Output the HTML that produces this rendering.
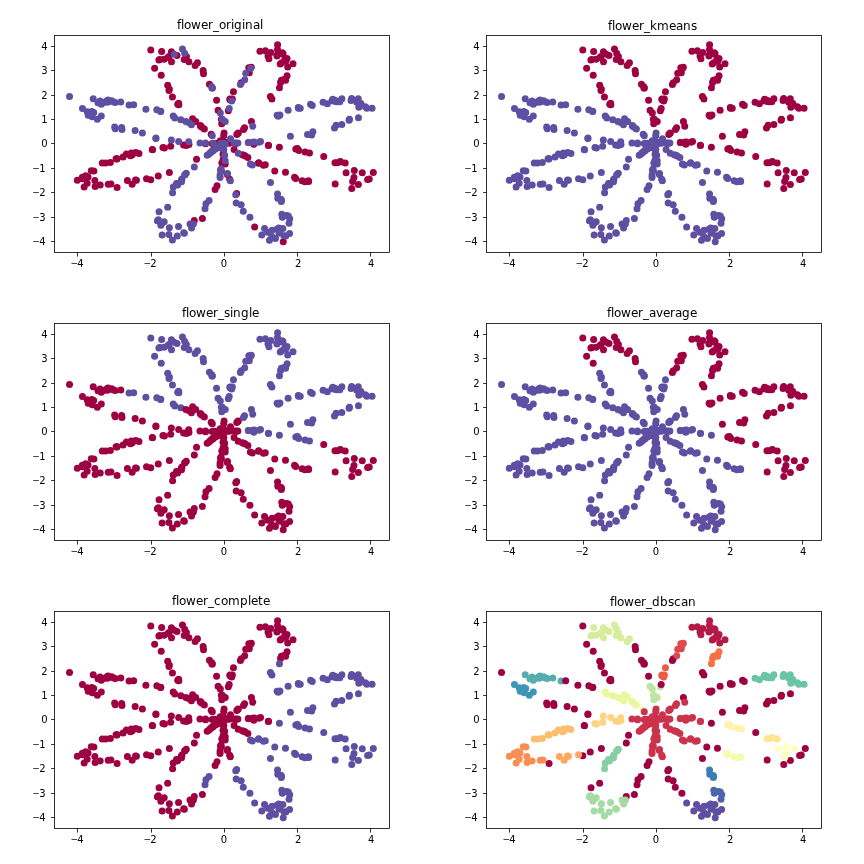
<!DOCTYPE html>
<html lang="en"><head><meta charset="utf-8"><title>flower clustering</title>
<style>
html,body{margin:0;padding:0;background:#fff;}
svg{display:block;}
text{font-family:"DejaVu Sans","Liberation Sans",sans-serif;fill:#000;}
.tk text{font-size:10px;}
.tk{filter:grayscale(1);}
.tk text.tt{font-size:12px;}
.tk text.mn{font-size:9px;}
</style></head><body>
<svg width="864" height="864" viewBox="0 0 864 864">
<rect width="864" height="864" fill="#fff"/>
<g transform="translate(0,0)">
<g>
<circle cx="268.00" cy="55.96" r="3.5" fill="#9e0142"/>
<circle cx="229.68" cy="179.36" r="3.5" fill="#9e0142"/>
<circle cx="227.35" cy="174.42" r="3.5" fill="#9e0142"/>
<circle cx="236.66" cy="193.56" r="3.5" fill="#9e0142"/>
<circle cx="249.30" cy="72.72" r="3.5" fill="#9e0142"/>
<circle cx="283.25" cy="241.63" r="3.5" fill="#9e0142"/>
<circle cx="280.24" cy="64.10" r="3.5" fill="#9e0142"/>
<circle cx="225.19" cy="164.03" r="3.5" fill="#9e0142"/>
<circle cx="241.25" cy="82.75" r="3.5" fill="#9e0142"/>
<circle cx="229.93" cy="99.02" r="3.5" fill="#9e0142"/>
<circle cx="284.85" cy="58.97" r="3.5" fill="#9e0142"/>
<circle cx="254.65" cy="227.12" r="3.5" fill="#9e0142"/>
<circle cx="233.45" cy="91.84" r="3.5" fill="#9e0142"/>
<circle cx="232.35" cy="98.95" r="3.5" fill="#9e0142"/>
<circle cx="281.76" cy="62.63" r="3.5" fill="#9e0142"/>
<circle cx="224.09" cy="133.00" r="3.5" fill="#9e0142"/>
<circle cx="248.80" cy="67.67" r="3.5" fill="#9e0142"/>
<circle cx="228.31" cy="110.73" r="3.5" fill="#9e0142"/>
<circle cx="265.37" cy="50.82" r="3.5" fill="#9e0142"/>
<circle cx="283.04" cy="53.65" r="3.5" fill="#9e0142"/>
<circle cx="229.96" cy="99.87" r="3.5" fill="#9e0142"/>
<circle cx="287.05" cy="75.84" r="3.5" fill="#9e0142"/>
<circle cx="293.00" cy="63.79" r="3.5" fill="#9e0142"/>
<circle cx="287.01" cy="58.59" r="3.5" fill="#9e0142"/>
<circle cx="280.53" cy="82.55" r="3.5" fill="#9e0142"/>
<circle cx="259.94" cy="51.14" r="3.5" fill="#9e0142"/>
<circle cx="277.11" cy="55.23" r="3.5" fill="#9e0142"/>
<circle cx="251.31" cy="67.27" r="3.5" fill="#9e0142"/>
<circle cx="277.01" cy="55.99" r="3.5" fill="#9e0142"/>
<circle cx="284.06" cy="79.38" r="3.5" fill="#9e0142"/>
<circle cx="270.82" cy="52.54" r="3.5" fill="#9e0142"/>
<circle cx="282.33" cy="52.82" r="3.5" fill="#9e0142"/>
<circle cx="277.47" cy="49.60" r="3.5" fill="#9e0142"/>
<circle cx="277.59" cy="44.71" r="3.5" fill="#9e0142"/>
<circle cx="280.42" cy="53.85" r="3.5" fill="#9e0142"/>
<circle cx="281.40" cy="80.19" r="3.5" fill="#9e0142"/>
<circle cx="268.93" cy="58.64" r="3.5" fill="#9e0142"/>
<circle cx="271.92" cy="99.04" r="3.5" fill="#9e0142"/>
<circle cx="150.80" cy="179.64" r="3.5" fill="#9e0142"/>
<circle cx="238.32" cy="133.07" r="3.5" fill="#9e0142"/>
<circle cx="279.45" cy="87.78" r="3.5" fill="#9e0142"/>
<circle cx="285.85" cy="61.00" r="3.5" fill="#9e0142"/>
<circle cx="287.69" cy="67.07" r="3.5" fill="#9e0142"/>
<circle cx="117.09" cy="187.58" r="3.5" fill="#9e0142"/>
<circle cx="251.42" cy="121.42" r="3.5" fill="#9e0142"/>
<circle cx="285.62" cy="80.19" r="3.5" fill="#9e0142"/>
<circle cx="237.46" cy="133.66" r="3.5" fill="#9e0142"/>
<circle cx="87.17" cy="183.17" r="3.5" fill="#9e0142"/>
<circle cx="236.78" cy="134.45" r="3.5" fill="#9e0142"/>
<circle cx="169.37" cy="172.48" r="3.5" fill="#9e0142"/>
<circle cx="196.55" cy="159.37" r="3.5" fill="#9e0142"/>
<circle cx="244.52" cy="127.81" r="3.5" fill="#9e0142"/>
<circle cx="270.43" cy="96.57" r="3.5" fill="#9e0142"/>
<circle cx="243.47" cy="129.50" r="3.5" fill="#9e0142"/>
<circle cx="217.58" cy="147.22" r="3.5" fill="#9e0142"/>
<circle cx="132.18" cy="184.17" r="3.5" fill="#9e0142"/>
<circle cx="127.39" cy="180.40" r="3.5" fill="#9e0142"/>
<circle cx="108.23" cy="184.35" r="3.5" fill="#9e0142"/>
<circle cx="146.53" cy="178.75" r="3.5" fill="#9e0142"/>
<circle cx="95.13" cy="186.60" r="3.5" fill="#9e0142"/>
<circle cx="222.57" cy="144.05" r="3.5" fill="#9e0142"/>
<circle cx="77.34" cy="180.34" r="3.5" fill="#9e0142"/>
<circle cx="110.96" cy="183.88" r="3.5" fill="#9e0142"/>
<circle cx="158.26" cy="175.90" r="3.5" fill="#9e0142"/>
<circle cx="100.18" cy="184.99" r="3.5" fill="#9e0142"/>
<circle cx="136.44" cy="180.24" r="3.5" fill="#9e0142"/>
<circle cx="93.87" cy="170.89" r="3.5" fill="#9e0142"/>
<circle cx="116.73" cy="158.88" r="3.5" fill="#9e0142"/>
<circle cx="186.85" cy="144.87" r="3.5" fill="#9e0142"/>
<circle cx="212.79" cy="150.32" r="3.5" fill="#9e0142"/>
<circle cx="218.44" cy="146.64" r="3.5" fill="#9e0142"/>
<circle cx="135.51" cy="179.95" r="3.5" fill="#9e0142"/>
<circle cx="94.85" cy="180.52" r="3.5" fill="#9e0142"/>
<circle cx="110.35" cy="162.58" r="3.5" fill="#9e0142"/>
<circle cx="82.25" cy="177.34" r="3.5" fill="#9e0142"/>
<circle cx="225.13" cy="142.33" r="3.5" fill="#9e0142"/>
<circle cx="84.14" cy="187.04" r="3.5" fill="#9e0142"/>
<circle cx="130.44" cy="155.67" r="3.5" fill="#9e0142"/>
<circle cx="91.27" cy="170.68" r="3.5" fill="#9e0142"/>
<circle cx="138.95" cy="153.47" r="3.5" fill="#9e0142"/>
<circle cx="82.47" cy="178.73" r="3.5" fill="#9e0142"/>
<circle cx="85.65" cy="175.85" r="3.5" fill="#9e0142"/>
<circle cx="105.63" cy="163.12" r="3.5" fill="#9e0142"/>
<circle cx="132.34" cy="154.76" r="3.5" fill="#9e0142"/>
<circle cx="116.07" cy="158.81" r="3.5" fill="#9e0142"/>
<circle cx="117.08" cy="158.67" r="3.5" fill="#9e0142"/>
<circle cx="88.05" cy="176.88" r="3.5" fill="#9e0142"/>
<circle cx="152.31" cy="149.49" r="3.5" fill="#9e0142"/>
<circle cx="126.38" cy="154.12" r="3.5" fill="#9e0142"/>
<circle cx="253.81" cy="144.21" r="3.5" fill="#9e0142"/>
<circle cx="268.48" cy="145.58" r="3.5" fill="#9e0142"/>
<circle cx="162.94" cy="147.56" r="3.5" fill="#9e0142"/>
<circle cx="123.05" cy="157.04" r="3.5" fill="#9e0142"/>
<circle cx="102.25" cy="163.05" r="3.5" fill="#9e0142"/>
<circle cx="216.02" cy="143.26" r="3.5" fill="#9e0142"/>
<circle cx="183.59" cy="144.97" r="3.5" fill="#9e0142"/>
<circle cx="152.49" cy="149.63" r="3.5" fill="#9e0142"/>
<circle cx="205.54" cy="143.70" r="3.5" fill="#9e0142"/>
<circle cx="131.29" cy="153.04" r="3.5" fill="#9e0142"/>
<circle cx="295.81" cy="149.02" r="3.5" fill="#9e0142"/>
<circle cx="186.22" cy="145.52" r="3.5" fill="#9e0142"/>
<circle cx="334.98" cy="162.69" r="3.5" fill="#9e0142"/>
<circle cx="279.40" cy="147.25" r="3.5" fill="#9e0142"/>
<circle cx="305.16" cy="152.09" r="3.5" fill="#9e0142"/>
<circle cx="135.77" cy="152.62" r="3.5" fill="#9e0142"/>
<circle cx="297.38" cy="148.57" r="3.5" fill="#9e0142"/>
<circle cx="340.36" cy="162.11" r="3.5" fill="#9e0142"/>
<circle cx="170.66" cy="146.18" r="3.5" fill="#9e0142"/>
<circle cx="268.38" cy="145.26" r="3.5" fill="#9e0142"/>
<circle cx="298.84" cy="150.47" r="3.5" fill="#9e0142"/>
<circle cx="164.43" cy="148.00" r="3.5" fill="#9e0142"/>
<circle cx="340.39" cy="161.57" r="3.5" fill="#9e0142"/>
<circle cx="369.26" cy="179.02" r="3.5" fill="#9e0142"/>
<circle cx="235.95" cy="143.43" r="3.5" fill="#9e0142"/>
<circle cx="373.30" cy="172.52" r="3.5" fill="#9e0142"/>
<circle cx="212.22" cy="143.43" r="3.5" fill="#9e0142"/>
<circle cx="345.20" cy="162.98" r="3.5" fill="#9e0142"/>
<circle cx="188.95" cy="144.59" r="3.5" fill="#9e0142"/>
<circle cx="335.17" cy="184.02" r="3.5" fill="#9e0142"/>
<circle cx="353.97" cy="177.46" r="3.5" fill="#9e0142"/>
<circle cx="354.31" cy="170.60" r="3.5" fill="#9e0142"/>
<circle cx="309.48" cy="153.06" r="3.5" fill="#9e0142"/>
<circle cx="308.64" cy="181.54" r="3.5" fill="#9e0142"/>
<circle cx="234.10" cy="149.57" r="3.5" fill="#9e0142"/>
<circle cx="229.42" cy="143.21" r="3.5" fill="#9e0142"/>
<circle cx="295.74" cy="178.55" r="3.5" fill="#9e0142"/>
<circle cx="243.92" cy="155.15" r="3.5" fill="#9e0142"/>
<circle cx="351.76" cy="188.39" r="3.5" fill="#9e0142"/>
<circle cx="323.74" cy="156.41" r="3.5" fill="#9e0142"/>
<circle cx="302.13" cy="180.75" r="3.5" fill="#9e0142"/>
<circle cx="358.36" cy="184.39" r="3.5" fill="#9e0142"/>
<circle cx="367.60" cy="179.47" r="3.5" fill="#9e0142"/>
<circle cx="337.04" cy="162.66" r="3.5" fill="#9e0142"/>
<circle cx="294.56" cy="177.13" r="3.5" fill="#9e0142"/>
<circle cx="274.78" cy="171.10" r="3.5" fill="#9e0142"/>
<circle cx="352.64" cy="181.59" r="3.5" fill="#9e0142"/>
<circle cx="265.28" cy="164.85" r="3.5" fill="#9e0142"/>
<circle cx="346.08" cy="172.74" r="3.5" fill="#9e0142"/>
<circle cx="224.20" cy="143.41" r="3.5" fill="#9e0142"/>
<circle cx="285.46" cy="172.34" r="3.5" fill="#9e0142"/>
<circle cx="308.40" cy="180.63" r="3.5" fill="#9e0142"/>
<circle cx="304.99" cy="181.72" r="3.5" fill="#9e0142"/>
<circle cx="204.37" cy="129.03" r="3.5" fill="#9e0142"/>
<circle cx="211.19" cy="134.13" r="3.5" fill="#9e0142"/>
<circle cx="220.25" cy="140.76" r="3.5" fill="#9e0142"/>
<circle cx="247.86" cy="157.50" r="3.5" fill="#9e0142"/>
<circle cx="245.25" cy="156.04" r="3.5" fill="#9e0142"/>
<circle cx="195.71" cy="121.54" r="3.5" fill="#9e0142"/>
<circle cx="221.83" cy="141.82" r="3.5" fill="#9e0142"/>
<circle cx="177.70" cy="104.34" r="3.5" fill="#9e0142"/>
<circle cx="258.41" cy="163.33" r="3.5" fill="#9e0142"/>
<circle cx="362.26" cy="172.68" r="3.5" fill="#9e0142"/>
<circle cx="161.23" cy="75.30" r="3.5" fill="#9e0142"/>
<circle cx="184.22" cy="59.50" r="3.5" fill="#9e0142"/>
<circle cx="172.45" cy="97.12" r="3.5" fill="#9e0142"/>
<circle cx="200.27" cy="125.71" r="3.5" fill="#9e0142"/>
<circle cx="200.68" cy="125.71" r="3.5" fill="#9e0142"/>
<circle cx="192.58" cy="118.67" r="3.5" fill="#9e0142"/>
<circle cx="178.87" cy="104.68" r="3.5" fill="#9e0142"/>
<circle cx="258.70" cy="162.64" r="3.5" fill="#9e0142"/>
<circle cx="201.97" cy="127.13" r="3.5" fill="#9e0142"/>
<circle cx="242.25" cy="154.70" r="3.5" fill="#9e0142"/>
<circle cx="154.61" cy="68.33" r="3.5" fill="#9e0142"/>
<circle cx="178.57" cy="103.15" r="3.5" fill="#9e0142"/>
<circle cx="159.78" cy="59.49" r="3.5" fill="#9e0142"/>
<circle cx="169.32" cy="88.93" r="3.5" fill="#9e0142"/>
<circle cx="177.03" cy="55.54" r="3.5" fill="#9e0142"/>
<circle cx="150.81" cy="49.93" r="3.5" fill="#9e0142"/>
<circle cx="221.37" cy="119.34" r="3.5" fill="#9e0142"/>
<circle cx="263.42" cy="165.37" r="3.5" fill="#9e0142"/>
<circle cx="168.99" cy="90.45" r="3.5" fill="#9e0142"/>
<circle cx="186.39" cy="56.55" r="3.5" fill="#9e0142"/>
<circle cx="221.34" cy="170.79" r="3.5" fill="#9e0142"/>
<circle cx="158.90" cy="59.92" r="3.5" fill="#9e0142"/>
<circle cx="171.49" cy="61.84" r="3.5" fill="#9e0142"/>
<circle cx="164.06" cy="59.32" r="3.5" fill="#9e0142"/>
<circle cx="218.09" cy="110.22" r="3.5" fill="#9e0142"/>
<circle cx="161.66" cy="51.47" r="3.5" fill="#9e0142"/>
<circle cx="197.45" cy="62.63" r="3.5" fill="#9e0142"/>
<circle cx="168.95" cy="56.54" r="3.5" fill="#9e0142"/>
<circle cx="167.69" cy="85.37" r="3.5" fill="#9e0142"/>
<circle cx="195.16" cy="65.51" r="3.5" fill="#9e0142"/>
<circle cx="203.14" cy="70.48" r="3.5" fill="#9e0142"/>
<circle cx="223.70" cy="135.63" r="3.5" fill="#9e0142"/>
<circle cx="188.87" cy="61.85" r="3.5" fill="#9e0142"/>
<circle cx="171.45" cy="51.77" r="3.5" fill="#9e0142"/>
<circle cx="216.56" cy="100.34" r="3.5" fill="#9e0142"/>
<circle cx="209.45" cy="84.35" r="3.5" fill="#9e0142"/>
<circle cx="212.36" cy="88.03" r="3.5" fill="#9e0142"/>
<circle cx="203.50" cy="73.85" r="3.5" fill="#9e0142"/>
<circle cx="221.80" cy="162.92" r="3.5" fill="#9e0142"/>
<circle cx="221.72" cy="123.74" r="3.5" fill="#9e0142"/>
<circle cx="194.29" cy="220.43" r="3.5" fill="#9e0142"/>
<circle cx="217.04" cy="185.63" r="3.5" fill="#9e0142"/>
<circle cx="223.51" cy="150.60" r="3.5" fill="#9e0142"/>
<circle cx="167.92" cy="57.47" r="3.5" fill="#9e0142"/>
<circle cx="223.01" cy="154.13" r="3.5" fill="#9e0142"/>
<circle cx="223.08" cy="159.79" r="3.5" fill="#9e0142"/>
<circle cx="215.14" cy="189.42" r="3.5" fill="#9e0142"/>
<circle cx="202.39" cy="218.61" r="3.5" fill="#9e0142"/>
<circle cx="184.63" cy="53.37" r="3.5" fill="#5e4fa2"/>
<circle cx="223.77" cy="149.27" r="3.5" fill="#5e4fa2"/>
<circle cx="220.46" cy="170.34" r="3.5" fill="#5e4fa2"/>
<circle cx="190.00" cy="224.01" r="3.5" fill="#5e4fa2"/>
<circle cx="222.29" cy="119.22" r="3.5" fill="#5e4fa2"/>
<circle cx="220.97" cy="169.11" r="3.5" fill="#5e4fa2"/>
<circle cx="174.22" cy="54.33" r="3.5" fill="#5e4fa2"/>
<circle cx="220.33" cy="113.05" r="3.5" fill="#5e4fa2"/>
<circle cx="205.94" cy="203.85" r="3.5" fill="#5e4fa2"/>
<circle cx="172.40" cy="239.93" r="3.5" fill="#5e4fa2"/>
<circle cx="220.08" cy="175.01" r="3.5" fill="#5e4fa2"/>
<circle cx="159.06" cy="211.67" r="3.5" fill="#5e4fa2"/>
<circle cx="157.37" cy="220.75" r="3.5" fill="#5e4fa2"/>
<circle cx="209.08" cy="200.50" r="3.5" fill="#5e4fa2"/>
<circle cx="182.45" cy="49.04" r="3.5" fill="#5e4fa2"/>
<circle cx="211.76" cy="86.84" r="3.5" fill="#5e4fa2"/>
<circle cx="220.06" cy="177.43" r="3.5" fill="#5e4fa2"/>
<circle cx="164.19" cy="221.76" r="3.5" fill="#5e4fa2"/>
<circle cx="177.30" cy="235.91" r="3.5" fill="#5e4fa2"/>
<circle cx="211.98" cy="88.10" r="3.5" fill="#5e4fa2"/>
<circle cx="193.39" cy="223.91" r="3.5" fill="#5e4fa2"/>
<circle cx="181.52" cy="181.83" r="3.5" fill="#5e4fa2"/>
<circle cx="191.56" cy="227.97" r="3.5" fill="#5e4fa2"/>
<circle cx="205.02" cy="208.76" r="3.5" fill="#5e4fa2"/>
<circle cx="211.33" cy="151.88" r="3.5" fill="#5e4fa2"/>
<circle cx="168.89" cy="234.54" r="3.5" fill="#5e4fa2"/>
<circle cx="183.72" cy="232.68" r="3.5" fill="#5e4fa2"/>
<circle cx="160.89" cy="225.36" r="3.5" fill="#5e4fa2"/>
<circle cx="162.13" cy="235.01" r="3.5" fill="#5e4fa2"/>
<circle cx="178.56" cy="226.51" r="3.5" fill="#5e4fa2"/>
<circle cx="194.30" cy="167.02" r="3.5" fill="#5e4fa2"/>
<circle cx="185.01" cy="174.69" r="3.5" fill="#5e4fa2"/>
<circle cx="177.89" cy="183.60" r="3.5" fill="#5e4fa2"/>
<circle cx="161.18" cy="224.29" r="3.5" fill="#5e4fa2"/>
<circle cx="207.21" cy="155.31" r="3.5" fill="#5e4fa2"/>
<circle cx="158.37" cy="219.84" r="3.5" fill="#5e4fa2"/>
<circle cx="177.49" cy="184.99" r="3.5" fill="#5e4fa2"/>
<circle cx="213.09" cy="150.66" r="3.5" fill="#5e4fa2"/>
<circle cx="209.03" cy="154.10" r="3.5" fill="#5e4fa2"/>
<circle cx="298.29" cy="107.60" r="3.5" fill="#5e4fa2"/>
<circle cx="186.28" cy="173.16" r="3.5" fill="#5e4fa2"/>
<circle cx="184.33" cy="233.22" r="3.5" fill="#5e4fa2"/>
<circle cx="169.36" cy="227.86" r="3.5" fill="#5e4fa2"/>
<circle cx="279.92" cy="114.94" r="3.5" fill="#5e4fa2"/>
<circle cx="172.60" cy="192.87" r="3.5" fill="#5e4fa2"/>
<circle cx="210.40" cy="152.60" r="3.5" fill="#5e4fa2"/>
<circle cx="167.65" cy="207.16" r="3.5" fill="#5e4fa2"/>
<circle cx="288.12" cy="110.32" r="3.5" fill="#5e4fa2"/>
<circle cx="181.39" cy="180.08" r="3.5" fill="#5e4fa2"/>
<circle cx="331.95" cy="100.80" r="3.5" fill="#5e4fa2"/>
<circle cx="173.23" cy="187.00" r="3.5" fill="#5e4fa2"/>
<circle cx="312.25" cy="105.56" r="3.5" fill="#5e4fa2"/>
<circle cx="278.21" cy="116.13" r="3.5" fill="#5e4fa2"/>
<circle cx="176.48" cy="183.43" r="3.5" fill="#5e4fa2"/>
<circle cx="334.83" cy="100.32" r="3.5" fill="#5e4fa2"/>
<circle cx="181.95" cy="179.12" r="3.5" fill="#5e4fa2"/>
<circle cx="184.70" cy="174.66" r="3.5" fill="#5e4fa2"/>
<circle cx="323.07" cy="102.31" r="3.5" fill="#5e4fa2"/>
<circle cx="215.47" cy="149.05" r="3.5" fill="#5e4fa2"/>
<circle cx="230.47" cy="138.79" r="3.5" fill="#5e4fa2"/>
<circle cx="252.74" cy="126.32" r="3.5" fill="#5e4fa2"/>
<circle cx="217.80" cy="147.66" r="3.5" fill="#5e4fa2"/>
<circle cx="360.90" cy="103.40" r="3.5" fill="#5e4fa2"/>
<circle cx="351.67" cy="98.59" r="3.5" fill="#5e4fa2"/>
<circle cx="300.22" cy="108.21" r="3.5" fill="#5e4fa2"/>
<circle cx="310.54" cy="104.15" r="3.5" fill="#5e4fa2"/>
<circle cx="351.03" cy="100.45" r="3.5" fill="#5e4fa2"/>
<circle cx="312.87" cy="131.87" r="3.5" fill="#5e4fa2"/>
<circle cx="366.85" cy="108.23" r="3.5" fill="#5e4fa2"/>
<circle cx="298.54" cy="108.28" r="3.5" fill="#5e4fa2"/>
<circle cx="372.04" cy="108.37" r="3.5" fill="#5e4fa2"/>
<circle cx="339.41" cy="100.88" r="3.5" fill="#5e4fa2"/>
<circle cx="337.25" cy="101.63" r="3.5" fill="#5e4fa2"/>
<circle cx="260.53" cy="141.38" r="3.5" fill="#5e4fa2"/>
<circle cx="341.89" cy="98.63" r="3.5" fill="#5e4fa2"/>
<circle cx="335.22" cy="101.50" r="3.5" fill="#5e4fa2"/>
<circle cx="219.81" cy="145.93" r="3.5" fill="#5e4fa2"/>
<circle cx="277.12" cy="115.36" r="3.5" fill="#5e4fa2"/>
<circle cx="349.44" cy="119.23" r="3.5" fill="#5e4fa2"/>
<circle cx="339.79" cy="101.76" r="3.5" fill="#5e4fa2"/>
<circle cx="336.15" cy="125.30" r="3.5" fill="#5e4fa2"/>
<circle cx="332.75" cy="99.21" r="3.5" fill="#5e4fa2"/>
<circle cx="358.28" cy="98.84" r="3.5" fill="#5e4fa2"/>
<circle cx="290.40" cy="136.23" r="3.5" fill="#5e4fa2"/>
<circle cx="199.97" cy="142.93" r="3.5" fill="#5e4fa2"/>
<circle cx="311.65" cy="134.89" r="3.5" fill="#5e4fa2"/>
<circle cx="223.19" cy="143.20" r="3.5" fill="#5e4fa2"/>
<circle cx="155.91" cy="138.09" r="3.5" fill="#5e4fa2"/>
<circle cx="221.09" cy="143.21" r="3.5" fill="#5e4fa2"/>
<circle cx="358.83" cy="107.24" r="3.5" fill="#5e4fa2"/>
<circle cx="334.47" cy="128.09" r="3.5" fill="#5e4fa2"/>
<circle cx="248.31" cy="142.55" r="3.5" fill="#5e4fa2"/>
<circle cx="341.84" cy="124.57" r="3.5" fill="#5e4fa2"/>
<circle cx="248.46" cy="142.48" r="3.5" fill="#5e4fa2"/>
<circle cx="356.75" cy="102.15" r="3.5" fill="#5e4fa2"/>
<circle cx="349.07" cy="120.25" r="3.5" fill="#5e4fa2"/>
<circle cx="205.55" cy="142.97" r="3.5" fill="#5e4fa2"/>
<circle cx="327.40" cy="103.83" r="3.5" fill="#5e4fa2"/>
<circle cx="358.44" cy="117.69" r="3.5" fill="#5e4fa2"/>
<circle cx="252.74" cy="142.36" r="3.5" fill="#5e4fa2"/>
<circle cx="365.36" cy="106.83" r="3.5" fill="#5e4fa2"/>
<circle cx="213.39" cy="143.18" r="3.5" fill="#5e4fa2"/>
<circle cx="307.56" cy="134.60" r="3.5" fill="#5e4fa2"/>
<circle cx="234.17" cy="142.95" r="3.5" fill="#5e4fa2"/>
<circle cx="235.35" cy="143.10" r="3.5" fill="#5e4fa2"/>
<circle cx="171.32" cy="139.98" r="3.5" fill="#5e4fa2"/>
<circle cx="258.94" cy="142.19" r="3.5" fill="#5e4fa2"/>
<circle cx="155.91" cy="138.52" r="3.5" fill="#5e4fa2"/>
<circle cx="237.85" cy="143.02" r="3.5" fill="#5e4fa2"/>
<circle cx="121.64" cy="127.43" r="3.5" fill="#5e4fa2"/>
<circle cx="103.47" cy="102.39" r="3.5" fill="#5e4fa2"/>
<circle cx="142.38" cy="132.92" r="3.5" fill="#5e4fa2"/>
<circle cx="121.97" cy="129.62" r="3.5" fill="#5e4fa2"/>
<circle cx="254.14" cy="142.12" r="3.5" fill="#5e4fa2"/>
<circle cx="87.22" cy="111.67" r="3.5" fill="#5e4fa2"/>
<circle cx="178.68" cy="141.42" r="3.5" fill="#5e4fa2"/>
<circle cx="188.72" cy="141.69" r="3.5" fill="#5e4fa2"/>
<circle cx="82.48" cy="108.47" r="3.5" fill="#5e4fa2"/>
<circle cx="92.20" cy="116.68" r="3.5" fill="#5e4fa2"/>
<circle cx="106.71" cy="101.12" r="3.5" fill="#5e4fa2"/>
<circle cx="145.89" cy="109.37" r="3.5" fill="#5e4fa2"/>
<circle cx="115.24" cy="128.79" r="3.5" fill="#5e4fa2"/>
<circle cx="91.84" cy="111.51" r="3.5" fill="#5e4fa2"/>
<circle cx="180.81" cy="119.64" r="3.5" fill="#5e4fa2"/>
<circle cx="129.04" cy="104.93" r="3.5" fill="#5e4fa2"/>
<circle cx="107.96" cy="100.04" r="3.5" fill="#5e4fa2"/>
<circle cx="160.55" cy="111.54" r="3.5" fill="#5e4fa2"/>
<circle cx="97.31" cy="119.17" r="3.5" fill="#5e4fa2"/>
<circle cx="120.79" cy="101.91" r="3.5" fill="#5e4fa2"/>
<circle cx="185.91" cy="121.40" r="3.5" fill="#5e4fa2"/>
<circle cx="212.29" cy="135.73" r="3.5" fill="#5e4fa2"/>
<circle cx="88.23" cy="115.25" r="3.5" fill="#5e4fa2"/>
<circle cx="69.52" cy="96.47" r="3.5" fill="#5e4fa2"/>
<circle cx="133.68" cy="104.77" r="3.5" fill="#5e4fa2"/>
<circle cx="97.96" cy="102.64" r="3.5" fill="#5e4fa2"/>
<circle cx="101.30" cy="104.21" r="3.5" fill="#5e4fa2"/>
<circle cx="173.22" cy="116.12" r="3.5" fill="#5e4fa2"/>
<circle cx="107.35" cy="102.34" r="3.5" fill="#5e4fa2"/>
<circle cx="135.14" cy="130.39" r="3.5" fill="#5e4fa2"/>
<circle cx="174.89" cy="117.94" r="3.5" fill="#5e4fa2"/>
<circle cx="111.62" cy="100.65" r="3.5" fill="#5e4fa2"/>
<circle cx="93.22" cy="98.81" r="3.5" fill="#5e4fa2"/>
<circle cx="101.30" cy="116.09" r="3.5" fill="#5e4fa2"/>
<circle cx="252.36" cy="164.90" r="3.5" fill="#5e4fa2"/>
<circle cx="114.65" cy="126.95" r="3.5" fill="#5e4fa2"/>
<circle cx="93.69" cy="112.44" r="3.5" fill="#5e4fa2"/>
<circle cx="156.81" cy="109.86" r="3.5" fill="#5e4fa2"/>
<circle cx="277.56" cy="194.05" r="3.5" fill="#5e4fa2"/>
<circle cx="281.28" cy="201.43" r="3.5" fill="#5e4fa2"/>
<circle cx="115.19" cy="102.48" r="3.5" fill="#5e4fa2"/>
<circle cx="188.65" cy="122.48" r="3.5" fill="#5e4fa2"/>
<circle cx="100.04" cy="101.02" r="3.5" fill="#5e4fa2"/>
<circle cx="277.78" cy="198.24" r="3.5" fill="#5e4fa2"/>
<circle cx="112.89" cy="101.77" r="3.5" fill="#5e4fa2"/>
<circle cx="224.14" cy="143.39" r="3.5" fill="#5e4fa2"/>
<circle cx="289.72" cy="218.64" r="3.5" fill="#5e4fa2"/>
<circle cx="238.19" cy="153.20" r="3.5" fill="#5e4fa2"/>
<circle cx="283.91" cy="235.78" r="3.5" fill="#5e4fa2"/>
<circle cx="191.46" cy="124.63" r="3.5" fill="#5e4fa2"/>
<circle cx="281.22" cy="199.44" r="3.5" fill="#5e4fa2"/>
<circle cx="282.32" cy="217.23" r="3.5" fill="#5e4fa2"/>
<circle cx="270.45" cy="182.60" r="3.5" fill="#5e4fa2"/>
<circle cx="275.42" cy="238.40" r="3.5" fill="#5e4fa2"/>
<circle cx="281.80" cy="214.15" r="3.5" fill="#5e4fa2"/>
<circle cx="160.77" cy="111.18" r="3.5" fill="#5e4fa2"/>
<circle cx="244.70" cy="79.81" r="3.5" fill="#5e4fa2"/>
<circle cx="282.84" cy="228.62" r="3.5" fill="#5e4fa2"/>
<circle cx="286.47" cy="215.42" r="3.5" fill="#5e4fa2"/>
<circle cx="225.24" cy="144.08" r="3.5" fill="#5e4fa2"/>
<circle cx="289.04" cy="223.17" r="3.5" fill="#5e4fa2"/>
<circle cx="281.40" cy="200.43" r="3.5" fill="#5e4fa2"/>
<circle cx="272.09" cy="230.27" r="3.5" fill="#5e4fa2"/>
<circle cx="277.21" cy="229.06" r="3.5" fill="#5e4fa2"/>
<circle cx="227.51" cy="173.41" r="3.5" fill="#5e4fa2"/>
<circle cx="278.76" cy="228.05" r="3.5" fill="#5e4fa2"/>
<circle cx="267.76" cy="232.36" r="3.5" fill="#5e4fa2"/>
<circle cx="271.78" cy="236.54" r="3.5" fill="#5e4fa2"/>
<circle cx="285.81" cy="236.10" r="3.5" fill="#5e4fa2"/>
<circle cx="280.46" cy="230.10" r="3.5" fill="#5e4fa2"/>
<circle cx="236.18" cy="202.88" r="3.5" fill="#5e4fa2"/>
<circle cx="241.14" cy="204.64" r="3.5" fill="#5e4fa2"/>
<circle cx="289.57" cy="233.47" r="3.5" fill="#5e4fa2"/>
<circle cx="288.28" cy="215.99" r="3.5" fill="#5e4fa2"/>
<circle cx="264.56" cy="228.50" r="3.5" fill="#5e4fa2"/>
<circle cx="224.69" cy="155.13" r="3.5" fill="#5e4fa2"/>
<circle cx="261.75" cy="234.99" r="3.5" fill="#5e4fa2"/>
<circle cx="229.21" cy="108.50" r="3.5" fill="#5e4fa2"/>
<circle cx="278.94" cy="233.33" r="3.5" fill="#5e4fa2"/>
<circle cx="243.27" cy="211.35" r="3.5" fill="#5e4fa2"/>
<circle cx="250.37" cy="164.02" r="3.5" fill="#5e4fa2"/>
<circle cx="269.46" cy="240.16" r="3.5" fill="#5e4fa2"/>
<circle cx="249.93" cy="217.16" r="3.5" fill="#5e4fa2"/>
<circle cx="225.20" cy="160.77" r="3.5" fill="#5e4fa2"/>
<circle cx="245.73" cy="73.15" r="3.5" fill="#5e4fa2"/>
<circle cx="230.35" cy="180.75" r="3.5" fill="#5e4fa2"/>
<circle cx="240.36" cy="84.46" r="3.5" fill="#5e4fa2"/>
<circle cx="225.24" cy="121.45" r="3.5" fill="#5e4fa2"/>
<circle cx="231.69" cy="100.95" r="3.5" fill="#5e4fa2"/>
<circle cx="235.75" cy="194.83" r="3.5" fill="#5e4fa2"/>
<circle cx="250.64" cy="68.35" r="3.5" fill="#5e4fa2"/>
</g>
<rect x="54.5" y="35.5" width="335.0" height="217.0" fill="none" stroke="#000" stroke-width="0.8"/>
<g stroke="#000" stroke-width="0.8">
<line x1="77.5" y1="252.5" x2="77.5" y2="256.6"/>
<line x1="151.5" y1="252.5" x2="151.5" y2="256.6"/>
<line x1="224.5" y1="252.5" x2="224.5" y2="256.6"/>
<line x1="297.5" y1="252.5" x2="297.5" y2="256.6"/>
<line x1="370.5" y1="252.5" x2="370.5" y2="256.6"/>
<line x1="54.5" y1="241.5" x2="51.2" y2="241.5"/>
<line x1="54.5" y1="217.5" x2="51.2" y2="217.5"/>
<line x1="54.5" y1="192.5" x2="51.2" y2="192.5"/>
<line x1="54.5" y1="168.5" x2="51.2" y2="168.5"/>
<line x1="54.5" y1="143.5" x2="51.2" y2="143.5"/>
<line x1="54.5" y1="119.5" x2="51.2" y2="119.5"/>
<line x1="54.5" y1="95.5" x2="51.2" y2="95.5"/>
<line x1="54.5" y1="70.5" x2="51.2" y2="70.5"/>
<line x1="54.5" y1="46.5" x2="51.2" y2="46.5"/>
</g>
<g class="tk">
<text class="mn" x="70.40" y="266.00">−</text><text x="77.30" y="267.00">4</text>
<text class="mn" x="143.40" y="266.00">−</text><text x="150.30" y="267.00">2</text>
<text x="220.82" y="267.00">0</text>
<text x="295.00" y="267.00">2</text>
<text x="367.96" y="267.00">4</text>
<text class="mn" x="32.35" y="244.00">−</text><text x="39.25" y="245.00">4</text>
<text class="mn" x="32.35" y="220.00">−</text><text x="39.25" y="221.00">3</text>
<text class="mn" x="32.35" y="195.00">−</text><text x="39.25" y="196.00">2</text>
<text class="mn" x="32.35" y="171.00">−</text><text x="39.25" y="172.00">1</text>
<text x="41.14" y="147.00">0</text>
<text x="41.14" y="123.00">1</text>
<text x="41.14" y="99.00">2</text>
<text x="41.14" y="74.00">3</text>
<text x="41.14" y="50.00">4</text>
<text class="tt" x="177 181 184 191 201 208 213 219 226 231 234 242 245 253 260" y="28.8">flower_original</text>
</g>
</g>
<g transform="translate(432,0)">
<g>
<circle cx="268.00" cy="55.96" r="3.5" fill="#9e0142"/>
<circle cx="229.68" cy="179.36" r="3.5" fill="#5e4fa2"/>
<circle cx="227.35" cy="174.42" r="3.5" fill="#5e4fa2"/>
<circle cx="236.66" cy="193.56" r="3.5" fill="#5e4fa2"/>
<circle cx="249.30" cy="72.72" r="3.5" fill="#9e0142"/>
<circle cx="283.25" cy="241.63" r="3.5" fill="#5e4fa2"/>
<circle cx="280.24" cy="64.10" r="3.5" fill="#9e0142"/>
<circle cx="225.19" cy="164.03" r="3.5" fill="#5e4fa2"/>
<circle cx="241.25" cy="82.75" r="3.5" fill="#9e0142"/>
<circle cx="229.93" cy="99.02" r="3.5" fill="#9e0142"/>
<circle cx="284.85" cy="58.97" r="3.5" fill="#9e0142"/>
<circle cx="254.65" cy="227.12" r="3.5" fill="#5e4fa2"/>
<circle cx="233.45" cy="91.84" r="3.5" fill="#9e0142"/>
<circle cx="232.35" cy="98.95" r="3.5" fill="#9e0142"/>
<circle cx="281.76" cy="62.63" r="3.5" fill="#9e0142"/>
<circle cx="224.09" cy="133.00" r="3.5" fill="#5e4fa2"/>
<circle cx="248.80" cy="67.67" r="3.5" fill="#9e0142"/>
<circle cx="228.31" cy="110.73" r="3.5" fill="#9e0142"/>
<circle cx="265.37" cy="50.82" r="3.5" fill="#9e0142"/>
<circle cx="283.04" cy="53.65" r="3.5" fill="#9e0142"/>
<circle cx="229.96" cy="99.87" r="3.5" fill="#9e0142"/>
<circle cx="287.05" cy="75.84" r="3.5" fill="#9e0142"/>
<circle cx="293.00" cy="63.79" r="3.5" fill="#9e0142"/>
<circle cx="287.01" cy="58.59" r="3.5" fill="#9e0142"/>
<circle cx="280.53" cy="82.55" r="3.5" fill="#9e0142"/>
<circle cx="259.94" cy="51.14" r="3.5" fill="#9e0142"/>
<circle cx="277.11" cy="55.23" r="3.5" fill="#9e0142"/>
<circle cx="251.31" cy="67.27" r="3.5" fill="#9e0142"/>
<circle cx="277.01" cy="55.99" r="3.5" fill="#9e0142"/>
<circle cx="284.06" cy="79.38" r="3.5" fill="#9e0142"/>
<circle cx="270.82" cy="52.54" r="3.5" fill="#9e0142"/>
<circle cx="282.33" cy="52.82" r="3.5" fill="#9e0142"/>
<circle cx="277.47" cy="49.60" r="3.5" fill="#9e0142"/>
<circle cx="277.59" cy="44.71" r="3.5" fill="#9e0142"/>
<circle cx="280.42" cy="53.85" r="3.5" fill="#9e0142"/>
<circle cx="281.40" cy="80.19" r="3.5" fill="#9e0142"/>
<circle cx="268.93" cy="58.64" r="3.5" fill="#9e0142"/>
<circle cx="271.92" cy="99.04" r="3.5" fill="#9e0142"/>
<circle cx="150.80" cy="179.64" r="3.5" fill="#5e4fa2"/>
<circle cx="238.32" cy="133.07" r="3.5" fill="#9e0142"/>
<circle cx="279.45" cy="87.78" r="3.5" fill="#9e0142"/>
<circle cx="285.85" cy="61.00" r="3.5" fill="#9e0142"/>
<circle cx="287.69" cy="67.07" r="3.5" fill="#9e0142"/>
<circle cx="117.09" cy="187.58" r="3.5" fill="#5e4fa2"/>
<circle cx="251.42" cy="121.42" r="3.5" fill="#9e0142"/>
<circle cx="285.62" cy="80.19" r="3.5" fill="#9e0142"/>
<circle cx="237.46" cy="133.66" r="3.5" fill="#9e0142"/>
<circle cx="87.17" cy="183.17" r="3.5" fill="#5e4fa2"/>
<circle cx="236.78" cy="134.45" r="3.5" fill="#9e0142"/>
<circle cx="169.37" cy="172.48" r="3.5" fill="#5e4fa2"/>
<circle cx="196.55" cy="159.37" r="3.5" fill="#5e4fa2"/>
<circle cx="244.52" cy="127.81" r="3.5" fill="#9e0142"/>
<circle cx="270.43" cy="96.57" r="3.5" fill="#9e0142"/>
<circle cx="243.47" cy="129.50" r="3.5" fill="#9e0142"/>
<circle cx="217.58" cy="147.22" r="3.5" fill="#5e4fa2"/>
<circle cx="132.18" cy="184.17" r="3.5" fill="#5e4fa2"/>
<circle cx="127.39" cy="180.40" r="3.5" fill="#5e4fa2"/>
<circle cx="108.23" cy="184.35" r="3.5" fill="#5e4fa2"/>
<circle cx="146.53" cy="178.75" r="3.5" fill="#5e4fa2"/>
<circle cx="95.13" cy="186.60" r="3.5" fill="#5e4fa2"/>
<circle cx="222.57" cy="144.05" r="3.5" fill="#5e4fa2"/>
<circle cx="77.34" cy="180.34" r="3.5" fill="#5e4fa2"/>
<circle cx="110.96" cy="183.88" r="3.5" fill="#5e4fa2"/>
<circle cx="158.26" cy="175.90" r="3.5" fill="#5e4fa2"/>
<circle cx="100.18" cy="184.99" r="3.5" fill="#5e4fa2"/>
<circle cx="136.44" cy="180.24" r="3.5" fill="#5e4fa2"/>
<circle cx="93.87" cy="170.89" r="3.5" fill="#5e4fa2"/>
<circle cx="116.73" cy="158.88" r="3.5" fill="#5e4fa2"/>
<circle cx="186.85" cy="144.87" r="3.5" fill="#5e4fa2"/>
<circle cx="212.79" cy="150.32" r="3.5" fill="#5e4fa2"/>
<circle cx="218.44" cy="146.64" r="3.5" fill="#5e4fa2"/>
<circle cx="135.51" cy="179.95" r="3.5" fill="#5e4fa2"/>
<circle cx="94.85" cy="180.52" r="3.5" fill="#5e4fa2"/>
<circle cx="110.35" cy="162.58" r="3.5" fill="#5e4fa2"/>
<circle cx="82.25" cy="177.34" r="3.5" fill="#5e4fa2"/>
<circle cx="225.13" cy="142.33" r="3.5" fill="#5e4fa2"/>
<circle cx="84.14" cy="187.04" r="3.5" fill="#5e4fa2"/>
<circle cx="130.44" cy="155.67" r="3.5" fill="#5e4fa2"/>
<circle cx="91.27" cy="170.68" r="3.5" fill="#5e4fa2"/>
<circle cx="138.95" cy="153.47" r="3.5" fill="#5e4fa2"/>
<circle cx="82.47" cy="178.73" r="3.5" fill="#5e4fa2"/>
<circle cx="85.65" cy="175.85" r="3.5" fill="#5e4fa2"/>
<circle cx="105.63" cy="163.12" r="3.5" fill="#5e4fa2"/>
<circle cx="132.34" cy="154.76" r="3.5" fill="#5e4fa2"/>
<circle cx="116.07" cy="158.81" r="3.5" fill="#5e4fa2"/>
<circle cx="117.08" cy="158.67" r="3.5" fill="#5e4fa2"/>
<circle cx="88.05" cy="176.88" r="3.5" fill="#5e4fa2"/>
<circle cx="152.31" cy="149.49" r="3.5" fill="#5e4fa2"/>
<circle cx="126.38" cy="154.12" r="3.5" fill="#5e4fa2"/>
<circle cx="253.81" cy="144.21" r="3.5" fill="#9e0142"/>
<circle cx="268.48" cy="145.58" r="3.5" fill="#9e0142"/>
<circle cx="162.94" cy="147.56" r="3.5" fill="#5e4fa2"/>
<circle cx="123.05" cy="157.04" r="3.5" fill="#5e4fa2"/>
<circle cx="102.25" cy="163.05" r="3.5" fill="#5e4fa2"/>
<circle cx="216.02" cy="143.26" r="3.5" fill="#5e4fa2"/>
<circle cx="183.59" cy="144.97" r="3.5" fill="#5e4fa2"/>
<circle cx="152.49" cy="149.63" r="3.5" fill="#5e4fa2"/>
<circle cx="205.54" cy="143.70" r="3.5" fill="#5e4fa2"/>
<circle cx="131.29" cy="153.04" r="3.5" fill="#5e4fa2"/>
<circle cx="295.81" cy="149.02" r="3.5" fill="#9e0142"/>
<circle cx="186.22" cy="145.52" r="3.5" fill="#5e4fa2"/>
<circle cx="334.98" cy="162.69" r="3.5" fill="#9e0142"/>
<circle cx="279.40" cy="147.25" r="3.5" fill="#9e0142"/>
<circle cx="305.16" cy="152.09" r="3.5" fill="#9e0142"/>
<circle cx="135.77" cy="152.62" r="3.5" fill="#5e4fa2"/>
<circle cx="297.38" cy="148.57" r="3.5" fill="#9e0142"/>
<circle cx="340.36" cy="162.11" r="3.5" fill="#9e0142"/>
<circle cx="170.66" cy="146.18" r="3.5" fill="#5e4fa2"/>
<circle cx="268.38" cy="145.26" r="3.5" fill="#9e0142"/>
<circle cx="298.84" cy="150.47" r="3.5" fill="#9e0142"/>
<circle cx="164.43" cy="148.00" r="3.5" fill="#5e4fa2"/>
<circle cx="340.39" cy="161.57" r="3.5" fill="#9e0142"/>
<circle cx="369.26" cy="179.02" r="3.5" fill="#9e0142"/>
<circle cx="235.95" cy="143.43" r="3.5" fill="#5e4fa2"/>
<circle cx="373.30" cy="172.52" r="3.5" fill="#9e0142"/>
<circle cx="212.22" cy="143.43" r="3.5" fill="#5e4fa2"/>
<circle cx="345.20" cy="162.98" r="3.5" fill="#9e0142"/>
<circle cx="188.95" cy="144.59" r="3.5" fill="#5e4fa2"/>
<circle cx="335.17" cy="184.02" r="3.5" fill="#9e0142"/>
<circle cx="353.97" cy="177.46" r="3.5" fill="#9e0142"/>
<circle cx="354.31" cy="170.60" r="3.5" fill="#9e0142"/>
<circle cx="309.48" cy="153.06" r="3.5" fill="#9e0142"/>
<circle cx="308.64" cy="181.54" r="3.5" fill="#5e4fa2"/>
<circle cx="234.10" cy="149.57" r="3.5" fill="#5e4fa2"/>
<circle cx="229.42" cy="143.21" r="3.5" fill="#5e4fa2"/>
<circle cx="295.74" cy="178.55" r="3.5" fill="#5e4fa2"/>
<circle cx="243.92" cy="155.15" r="3.5" fill="#5e4fa2"/>
<circle cx="351.76" cy="188.39" r="3.5" fill="#9e0142"/>
<circle cx="323.74" cy="156.41" r="3.5" fill="#9e0142"/>
<circle cx="302.13" cy="180.75" r="3.5" fill="#5e4fa2"/>
<circle cx="358.36" cy="184.39" r="3.5" fill="#9e0142"/>
<circle cx="367.60" cy="179.47" r="3.5" fill="#9e0142"/>
<circle cx="337.04" cy="162.66" r="3.5" fill="#9e0142"/>
<circle cx="294.56" cy="177.13" r="3.5" fill="#5e4fa2"/>
<circle cx="274.78" cy="171.10" r="3.5" fill="#5e4fa2"/>
<circle cx="352.64" cy="181.59" r="3.5" fill="#9e0142"/>
<circle cx="265.28" cy="164.85" r="3.5" fill="#5e4fa2"/>
<circle cx="346.08" cy="172.74" r="3.5" fill="#9e0142"/>
<circle cx="224.20" cy="143.41" r="3.5" fill="#5e4fa2"/>
<circle cx="285.46" cy="172.34" r="3.5" fill="#5e4fa2"/>
<circle cx="308.40" cy="180.63" r="3.5" fill="#5e4fa2"/>
<circle cx="304.99" cy="181.72" r="3.5" fill="#5e4fa2"/>
<circle cx="204.37" cy="129.03" r="3.5" fill="#5e4fa2"/>
<circle cx="211.19" cy="134.13" r="3.5" fill="#5e4fa2"/>
<circle cx="220.25" cy="140.76" r="3.5" fill="#5e4fa2"/>
<circle cx="247.86" cy="157.50" r="3.5" fill="#5e4fa2"/>
<circle cx="245.25" cy="156.04" r="3.5" fill="#5e4fa2"/>
<circle cx="195.71" cy="121.54" r="3.5" fill="#5e4fa2"/>
<circle cx="221.83" cy="141.82" r="3.5" fill="#5e4fa2"/>
<circle cx="177.70" cy="104.34" r="3.5" fill="#9e0142"/>
<circle cx="258.41" cy="163.33" r="3.5" fill="#5e4fa2"/>
<circle cx="362.26" cy="172.68" r="3.5" fill="#9e0142"/>
<circle cx="161.23" cy="75.30" r="3.5" fill="#9e0142"/>
<circle cx="184.22" cy="59.50" r="3.5" fill="#9e0142"/>
<circle cx="172.45" cy="97.12" r="3.5" fill="#9e0142"/>
<circle cx="200.27" cy="125.71" r="3.5" fill="#5e4fa2"/>
<circle cx="200.68" cy="125.71" r="3.5" fill="#5e4fa2"/>
<circle cx="192.58" cy="118.67" r="3.5" fill="#5e4fa2"/>
<circle cx="178.87" cy="104.68" r="3.5" fill="#9e0142"/>
<circle cx="258.70" cy="162.64" r="3.5" fill="#5e4fa2"/>
<circle cx="201.97" cy="127.13" r="3.5" fill="#5e4fa2"/>
<circle cx="242.25" cy="154.70" r="3.5" fill="#5e4fa2"/>
<circle cx="154.61" cy="68.33" r="3.5" fill="#9e0142"/>
<circle cx="178.57" cy="103.15" r="3.5" fill="#9e0142"/>
<circle cx="159.78" cy="59.49" r="3.5" fill="#9e0142"/>
<circle cx="169.32" cy="88.93" r="3.5" fill="#9e0142"/>
<circle cx="177.03" cy="55.54" r="3.5" fill="#9e0142"/>
<circle cx="150.81" cy="49.93" r="3.5" fill="#9e0142"/>
<circle cx="221.37" cy="119.34" r="3.5" fill="#9e0142"/>
<circle cx="263.42" cy="165.37" r="3.5" fill="#5e4fa2"/>
<circle cx="168.99" cy="90.45" r="3.5" fill="#9e0142"/>
<circle cx="186.39" cy="56.55" r="3.5" fill="#9e0142"/>
<circle cx="221.34" cy="170.79" r="3.5" fill="#5e4fa2"/>
<circle cx="158.90" cy="59.92" r="3.5" fill="#9e0142"/>
<circle cx="171.49" cy="61.84" r="3.5" fill="#9e0142"/>
<circle cx="164.06" cy="59.32" r="3.5" fill="#9e0142"/>
<circle cx="218.09" cy="110.22" r="3.5" fill="#9e0142"/>
<circle cx="161.66" cy="51.47" r="3.5" fill="#9e0142"/>
<circle cx="197.45" cy="62.63" r="3.5" fill="#9e0142"/>
<circle cx="168.95" cy="56.54" r="3.5" fill="#9e0142"/>
<circle cx="167.69" cy="85.37" r="3.5" fill="#9e0142"/>
<circle cx="195.16" cy="65.51" r="3.5" fill="#9e0142"/>
<circle cx="203.14" cy="70.48" r="3.5" fill="#9e0142"/>
<circle cx="223.70" cy="135.63" r="3.5" fill="#5e4fa2"/>
<circle cx="188.87" cy="61.85" r="3.5" fill="#9e0142"/>
<circle cx="171.45" cy="51.77" r="3.5" fill="#9e0142"/>
<circle cx="216.56" cy="100.34" r="3.5" fill="#9e0142"/>
<circle cx="209.45" cy="84.35" r="3.5" fill="#9e0142"/>
<circle cx="212.36" cy="88.03" r="3.5" fill="#9e0142"/>
<circle cx="203.50" cy="73.85" r="3.5" fill="#9e0142"/>
<circle cx="221.80" cy="162.92" r="3.5" fill="#5e4fa2"/>
<circle cx="221.72" cy="123.74" r="3.5" fill="#9e0142"/>
<circle cx="194.29" cy="220.43" r="3.5" fill="#5e4fa2"/>
<circle cx="217.04" cy="185.63" r="3.5" fill="#5e4fa2"/>
<circle cx="223.51" cy="150.60" r="3.5" fill="#5e4fa2"/>
<circle cx="167.92" cy="57.47" r="3.5" fill="#9e0142"/>
<circle cx="223.01" cy="154.13" r="3.5" fill="#5e4fa2"/>
<circle cx="223.08" cy="159.79" r="3.5" fill="#5e4fa2"/>
<circle cx="215.14" cy="189.42" r="3.5" fill="#5e4fa2"/>
<circle cx="202.39" cy="218.61" r="3.5" fill="#5e4fa2"/>
<circle cx="184.63" cy="53.37" r="3.5" fill="#9e0142"/>
<circle cx="223.77" cy="149.27" r="3.5" fill="#5e4fa2"/>
<circle cx="220.46" cy="170.34" r="3.5" fill="#5e4fa2"/>
<circle cx="190.00" cy="224.01" r="3.5" fill="#5e4fa2"/>
<circle cx="222.29" cy="119.22" r="3.5" fill="#9e0142"/>
<circle cx="220.97" cy="169.11" r="3.5" fill="#5e4fa2"/>
<circle cx="174.22" cy="54.33" r="3.5" fill="#9e0142"/>
<circle cx="220.33" cy="113.05" r="3.5" fill="#9e0142"/>
<circle cx="205.94" cy="203.85" r="3.5" fill="#5e4fa2"/>
<circle cx="172.40" cy="239.93" r="3.5" fill="#5e4fa2"/>
<circle cx="220.08" cy="175.01" r="3.5" fill="#5e4fa2"/>
<circle cx="159.06" cy="211.67" r="3.5" fill="#5e4fa2"/>
<circle cx="157.37" cy="220.75" r="3.5" fill="#5e4fa2"/>
<circle cx="209.08" cy="200.50" r="3.5" fill="#5e4fa2"/>
<circle cx="182.45" cy="49.04" r="3.5" fill="#9e0142"/>
<circle cx="211.76" cy="86.84" r="3.5" fill="#9e0142"/>
<circle cx="220.06" cy="177.43" r="3.5" fill="#5e4fa2"/>
<circle cx="164.19" cy="221.76" r="3.5" fill="#5e4fa2"/>
<circle cx="177.30" cy="235.91" r="3.5" fill="#5e4fa2"/>
<circle cx="211.98" cy="88.10" r="3.5" fill="#9e0142"/>
<circle cx="193.39" cy="223.91" r="3.5" fill="#5e4fa2"/>
<circle cx="181.52" cy="181.83" r="3.5" fill="#5e4fa2"/>
<circle cx="191.56" cy="227.97" r="3.5" fill="#5e4fa2"/>
<circle cx="205.02" cy="208.76" r="3.5" fill="#5e4fa2"/>
<circle cx="211.33" cy="151.88" r="3.5" fill="#5e4fa2"/>
<circle cx="168.89" cy="234.54" r="3.5" fill="#5e4fa2"/>
<circle cx="183.72" cy="232.68" r="3.5" fill="#5e4fa2"/>
<circle cx="160.89" cy="225.36" r="3.5" fill="#5e4fa2"/>
<circle cx="162.13" cy="235.01" r="3.5" fill="#5e4fa2"/>
<circle cx="178.56" cy="226.51" r="3.5" fill="#5e4fa2"/>
<circle cx="194.30" cy="167.02" r="3.5" fill="#5e4fa2"/>
<circle cx="185.01" cy="174.69" r="3.5" fill="#5e4fa2"/>
<circle cx="177.89" cy="183.60" r="3.5" fill="#5e4fa2"/>
<circle cx="161.18" cy="224.29" r="3.5" fill="#5e4fa2"/>
<circle cx="207.21" cy="155.31" r="3.5" fill="#5e4fa2"/>
<circle cx="158.37" cy="219.84" r="3.5" fill="#5e4fa2"/>
<circle cx="177.49" cy="184.99" r="3.5" fill="#5e4fa2"/>
<circle cx="213.09" cy="150.66" r="3.5" fill="#5e4fa2"/>
<circle cx="209.03" cy="154.10" r="3.5" fill="#5e4fa2"/>
<circle cx="298.29" cy="107.60" r="3.5" fill="#9e0142"/>
<circle cx="186.28" cy="173.16" r="3.5" fill="#5e4fa2"/>
<circle cx="184.33" cy="233.22" r="3.5" fill="#5e4fa2"/>
<circle cx="169.36" cy="227.86" r="3.5" fill="#5e4fa2"/>
<circle cx="279.92" cy="114.94" r="3.5" fill="#9e0142"/>
<circle cx="172.60" cy="192.87" r="3.5" fill="#5e4fa2"/>
<circle cx="210.40" cy="152.60" r="3.5" fill="#5e4fa2"/>
<circle cx="167.65" cy="207.16" r="3.5" fill="#5e4fa2"/>
<circle cx="288.12" cy="110.32" r="3.5" fill="#9e0142"/>
<circle cx="181.39" cy="180.08" r="3.5" fill="#5e4fa2"/>
<circle cx="331.95" cy="100.80" r="3.5" fill="#9e0142"/>
<circle cx="173.23" cy="187.00" r="3.5" fill="#5e4fa2"/>
<circle cx="312.25" cy="105.56" r="3.5" fill="#9e0142"/>
<circle cx="278.21" cy="116.13" r="3.5" fill="#9e0142"/>
<circle cx="176.48" cy="183.43" r="3.5" fill="#5e4fa2"/>
<circle cx="334.83" cy="100.32" r="3.5" fill="#9e0142"/>
<circle cx="181.95" cy="179.12" r="3.5" fill="#5e4fa2"/>
<circle cx="184.70" cy="174.66" r="3.5" fill="#5e4fa2"/>
<circle cx="323.07" cy="102.31" r="3.5" fill="#9e0142"/>
<circle cx="215.47" cy="149.05" r="3.5" fill="#5e4fa2"/>
<circle cx="230.47" cy="138.79" r="3.5" fill="#5e4fa2"/>
<circle cx="252.74" cy="126.32" r="3.5" fill="#9e0142"/>
<circle cx="217.80" cy="147.66" r="3.5" fill="#5e4fa2"/>
<circle cx="360.90" cy="103.40" r="3.5" fill="#9e0142"/>
<circle cx="351.67" cy="98.59" r="3.5" fill="#9e0142"/>
<circle cx="300.22" cy="108.21" r="3.5" fill="#9e0142"/>
<circle cx="310.54" cy="104.15" r="3.5" fill="#9e0142"/>
<circle cx="351.03" cy="100.45" r="3.5" fill="#9e0142"/>
<circle cx="312.87" cy="131.87" r="3.5" fill="#9e0142"/>
<circle cx="366.85" cy="108.23" r="3.5" fill="#9e0142"/>
<circle cx="298.54" cy="108.28" r="3.5" fill="#9e0142"/>
<circle cx="372.04" cy="108.37" r="3.5" fill="#9e0142"/>
<circle cx="339.41" cy="100.88" r="3.5" fill="#9e0142"/>
<circle cx="337.25" cy="101.63" r="3.5" fill="#9e0142"/>
<circle cx="260.53" cy="141.38" r="3.5" fill="#9e0142"/>
<circle cx="341.89" cy="98.63" r="3.5" fill="#9e0142"/>
<circle cx="335.22" cy="101.50" r="3.5" fill="#9e0142"/>
<circle cx="219.81" cy="145.93" r="3.5" fill="#5e4fa2"/>
<circle cx="277.12" cy="115.36" r="3.5" fill="#9e0142"/>
<circle cx="349.44" cy="119.23" r="3.5" fill="#9e0142"/>
<circle cx="339.79" cy="101.76" r="3.5" fill="#9e0142"/>
<circle cx="336.15" cy="125.30" r="3.5" fill="#9e0142"/>
<circle cx="332.75" cy="99.21" r="3.5" fill="#9e0142"/>
<circle cx="358.28" cy="98.84" r="3.5" fill="#9e0142"/>
<circle cx="290.40" cy="136.23" r="3.5" fill="#9e0142"/>
<circle cx="199.97" cy="142.93" r="3.5" fill="#5e4fa2"/>
<circle cx="311.65" cy="134.89" r="3.5" fill="#9e0142"/>
<circle cx="223.19" cy="143.20" r="3.5" fill="#5e4fa2"/>
<circle cx="155.91" cy="138.09" r="3.5" fill="#5e4fa2"/>
<circle cx="221.09" cy="143.21" r="3.5" fill="#5e4fa2"/>
<circle cx="358.83" cy="107.24" r="3.5" fill="#9e0142"/>
<circle cx="334.47" cy="128.09" r="3.5" fill="#9e0142"/>
<circle cx="248.31" cy="142.55" r="3.5" fill="#9e0142"/>
<circle cx="341.84" cy="124.57" r="3.5" fill="#9e0142"/>
<circle cx="248.46" cy="142.48" r="3.5" fill="#9e0142"/>
<circle cx="356.75" cy="102.15" r="3.5" fill="#9e0142"/>
<circle cx="349.07" cy="120.25" r="3.5" fill="#9e0142"/>
<circle cx="205.55" cy="142.97" r="3.5" fill="#5e4fa2"/>
<circle cx="327.40" cy="103.83" r="3.5" fill="#9e0142"/>
<circle cx="358.44" cy="117.69" r="3.5" fill="#9e0142"/>
<circle cx="252.74" cy="142.36" r="3.5" fill="#9e0142"/>
<circle cx="365.36" cy="106.83" r="3.5" fill="#9e0142"/>
<circle cx="213.39" cy="143.18" r="3.5" fill="#5e4fa2"/>
<circle cx="307.56" cy="134.60" r="3.5" fill="#9e0142"/>
<circle cx="234.17" cy="142.95" r="3.5" fill="#5e4fa2"/>
<circle cx="235.35" cy="143.10" r="3.5" fill="#5e4fa2"/>
<circle cx="171.32" cy="139.98" r="3.5" fill="#5e4fa2"/>
<circle cx="258.94" cy="142.19" r="3.5" fill="#9e0142"/>
<circle cx="155.91" cy="138.52" r="3.5" fill="#5e4fa2"/>
<circle cx="237.85" cy="143.02" r="3.5" fill="#5e4fa2"/>
<circle cx="121.64" cy="127.43" r="3.5" fill="#5e4fa2"/>
<circle cx="103.47" cy="102.39" r="3.5" fill="#5e4fa2"/>
<circle cx="142.38" cy="132.92" r="3.5" fill="#5e4fa2"/>
<circle cx="121.97" cy="129.62" r="3.5" fill="#5e4fa2"/>
<circle cx="254.14" cy="142.12" r="3.5" fill="#9e0142"/>
<circle cx="87.22" cy="111.67" r="3.5" fill="#5e4fa2"/>
<circle cx="178.68" cy="141.42" r="3.5" fill="#5e4fa2"/>
<circle cx="188.72" cy="141.69" r="3.5" fill="#5e4fa2"/>
<circle cx="82.48" cy="108.47" r="3.5" fill="#5e4fa2"/>
<circle cx="92.20" cy="116.68" r="3.5" fill="#5e4fa2"/>
<circle cx="106.71" cy="101.12" r="3.5" fill="#5e4fa2"/>
<circle cx="145.89" cy="109.37" r="3.5" fill="#5e4fa2"/>
<circle cx="115.24" cy="128.79" r="3.5" fill="#5e4fa2"/>
<circle cx="91.84" cy="111.51" r="3.5" fill="#5e4fa2"/>
<circle cx="180.81" cy="119.64" r="3.5" fill="#5e4fa2"/>
<circle cx="129.04" cy="104.93" r="3.5" fill="#5e4fa2"/>
<circle cx="107.96" cy="100.04" r="3.5" fill="#5e4fa2"/>
<circle cx="160.55" cy="111.54" r="3.5" fill="#5e4fa2"/>
<circle cx="97.31" cy="119.17" r="3.5" fill="#5e4fa2"/>
<circle cx="120.79" cy="101.91" r="3.5" fill="#5e4fa2"/>
<circle cx="185.91" cy="121.40" r="3.5" fill="#5e4fa2"/>
<circle cx="212.29" cy="135.73" r="3.5" fill="#5e4fa2"/>
<circle cx="88.23" cy="115.25" r="3.5" fill="#5e4fa2"/>
<circle cx="69.52" cy="96.47" r="3.5" fill="#5e4fa2"/>
<circle cx="133.68" cy="104.77" r="3.5" fill="#5e4fa2"/>
<circle cx="97.96" cy="102.64" r="3.5" fill="#5e4fa2"/>
<circle cx="101.30" cy="104.21" r="3.5" fill="#5e4fa2"/>
<circle cx="173.22" cy="116.12" r="3.5" fill="#5e4fa2"/>
<circle cx="107.35" cy="102.34" r="3.5" fill="#5e4fa2"/>
<circle cx="135.14" cy="130.39" r="3.5" fill="#5e4fa2"/>
<circle cx="174.89" cy="117.94" r="3.5" fill="#5e4fa2"/>
<circle cx="111.62" cy="100.65" r="3.5" fill="#5e4fa2"/>
<circle cx="93.22" cy="98.81" r="3.5" fill="#5e4fa2"/>
<circle cx="101.30" cy="116.09" r="3.5" fill="#5e4fa2"/>
<circle cx="252.36" cy="164.90" r="3.5" fill="#5e4fa2"/>
<circle cx="114.65" cy="126.95" r="3.5" fill="#5e4fa2"/>
<circle cx="93.69" cy="112.44" r="3.5" fill="#5e4fa2"/>
<circle cx="156.81" cy="109.86" r="3.5" fill="#5e4fa2"/>
<circle cx="277.56" cy="194.05" r="3.5" fill="#5e4fa2"/>
<circle cx="281.28" cy="201.43" r="3.5" fill="#5e4fa2"/>
<circle cx="115.19" cy="102.48" r="3.5" fill="#5e4fa2"/>
<circle cx="188.65" cy="122.48" r="3.5" fill="#5e4fa2"/>
<circle cx="100.04" cy="101.02" r="3.5" fill="#5e4fa2"/>
<circle cx="277.78" cy="198.24" r="3.5" fill="#5e4fa2"/>
<circle cx="112.89" cy="101.77" r="3.5" fill="#5e4fa2"/>
<circle cx="224.14" cy="143.39" r="3.5" fill="#5e4fa2"/>
<circle cx="289.72" cy="218.64" r="3.5" fill="#5e4fa2"/>
<circle cx="238.19" cy="153.20" r="3.5" fill="#5e4fa2"/>
<circle cx="283.91" cy="235.78" r="3.5" fill="#5e4fa2"/>
<circle cx="191.46" cy="124.63" r="3.5" fill="#5e4fa2"/>
<circle cx="281.22" cy="199.44" r="3.5" fill="#5e4fa2"/>
<circle cx="282.32" cy="217.23" r="3.5" fill="#5e4fa2"/>
<circle cx="270.45" cy="182.60" r="3.5" fill="#5e4fa2"/>
<circle cx="275.42" cy="238.40" r="3.5" fill="#5e4fa2"/>
<circle cx="281.80" cy="214.15" r="3.5" fill="#5e4fa2"/>
<circle cx="160.77" cy="111.18" r="3.5" fill="#5e4fa2"/>
<circle cx="244.70" cy="79.81" r="3.5" fill="#9e0142"/>
<circle cx="282.84" cy="228.62" r="3.5" fill="#5e4fa2"/>
<circle cx="286.47" cy="215.42" r="3.5" fill="#5e4fa2"/>
<circle cx="225.24" cy="144.08" r="3.5" fill="#5e4fa2"/>
<circle cx="289.04" cy="223.17" r="3.5" fill="#5e4fa2"/>
<circle cx="281.40" cy="200.43" r="3.5" fill="#5e4fa2"/>
<circle cx="272.09" cy="230.27" r="3.5" fill="#5e4fa2"/>
<circle cx="277.21" cy="229.06" r="3.5" fill="#5e4fa2"/>
<circle cx="227.51" cy="173.41" r="3.5" fill="#5e4fa2"/>
<circle cx="278.76" cy="228.05" r="3.5" fill="#5e4fa2"/>
<circle cx="267.76" cy="232.36" r="3.5" fill="#5e4fa2"/>
<circle cx="271.78" cy="236.54" r="3.5" fill="#5e4fa2"/>
<circle cx="285.81" cy="236.10" r="3.5" fill="#5e4fa2"/>
<circle cx="280.46" cy="230.10" r="3.5" fill="#5e4fa2"/>
<circle cx="236.18" cy="202.88" r="3.5" fill="#5e4fa2"/>
<circle cx="241.14" cy="204.64" r="3.5" fill="#5e4fa2"/>
<circle cx="289.57" cy="233.47" r="3.5" fill="#5e4fa2"/>
<circle cx="288.28" cy="215.99" r="3.5" fill="#5e4fa2"/>
<circle cx="264.56" cy="228.50" r="3.5" fill="#5e4fa2"/>
<circle cx="224.69" cy="155.13" r="3.5" fill="#5e4fa2"/>
<circle cx="261.75" cy="234.99" r="3.5" fill="#5e4fa2"/>
<circle cx="229.21" cy="108.50" r="3.5" fill="#9e0142"/>
<circle cx="278.94" cy="233.33" r="3.5" fill="#5e4fa2"/>
<circle cx="243.27" cy="211.35" r="3.5" fill="#5e4fa2"/>
<circle cx="250.37" cy="164.02" r="3.5" fill="#5e4fa2"/>
<circle cx="269.46" cy="240.16" r="3.5" fill="#5e4fa2"/>
<circle cx="249.93" cy="217.16" r="3.5" fill="#5e4fa2"/>
<circle cx="225.20" cy="160.77" r="3.5" fill="#5e4fa2"/>
<circle cx="245.73" cy="73.15" r="3.5" fill="#9e0142"/>
<circle cx="230.35" cy="180.75" r="3.5" fill="#5e4fa2"/>
<circle cx="240.36" cy="84.46" r="3.5" fill="#9e0142"/>
<circle cx="225.24" cy="121.45" r="3.5" fill="#9e0142"/>
<circle cx="231.69" cy="100.95" r="3.5" fill="#9e0142"/>
<circle cx="235.75" cy="194.83" r="3.5" fill="#5e4fa2"/>
<circle cx="250.64" cy="68.35" r="3.5" fill="#9e0142"/>
</g>
<rect x="54.5" y="35.5" width="335.0" height="217.0" fill="none" stroke="#000" stroke-width="0.8"/>
<g stroke="#000" stroke-width="0.8">
<line x1="77.5" y1="252.5" x2="77.5" y2="256.6"/>
<line x1="151.5" y1="252.5" x2="151.5" y2="256.6"/>
<line x1="224.5" y1="252.5" x2="224.5" y2="256.6"/>
<line x1="297.5" y1="252.5" x2="297.5" y2="256.6"/>
<line x1="370.5" y1="252.5" x2="370.5" y2="256.6"/>
<line x1="54.5" y1="241.5" x2="51.2" y2="241.5"/>
<line x1="54.5" y1="217.5" x2="51.2" y2="217.5"/>
<line x1="54.5" y1="192.5" x2="51.2" y2="192.5"/>
<line x1="54.5" y1="168.5" x2="51.2" y2="168.5"/>
<line x1="54.5" y1="143.5" x2="51.2" y2="143.5"/>
<line x1="54.5" y1="119.5" x2="51.2" y2="119.5"/>
<line x1="54.5" y1="95.5" x2="51.2" y2="95.5"/>
<line x1="54.5" y1="70.5" x2="51.2" y2="70.5"/>
<line x1="54.5" y1="46.5" x2="51.2" y2="46.5"/>
</g>
<g class="tk">
<text class="mn" x="70.40" y="266.00">−</text><text x="77.30" y="267.00">4</text>
<text class="mn" x="143.40" y="266.00">−</text><text x="150.30" y="267.00">2</text>
<text x="220.82" y="267.00">0</text>
<text x="295.00" y="267.00">2</text>
<text x="367.96" y="267.00">4</text>
<text class="mn" x="32.35" y="244.00">−</text><text x="39.25" y="245.00">4</text>
<text class="mn" x="32.35" y="220.00">−</text><text x="39.25" y="221.00">3</text>
<text class="mn" x="32.35" y="195.00">−</text><text x="39.25" y="196.00">2</text>
<text class="mn" x="32.35" y="171.00">−</text><text x="39.25" y="172.00">1</text>
<text x="41.14" y="147.00">0</text>
<text x="41.14" y="123.00">1</text>
<text x="41.14" y="99.00">2</text>
<text x="41.14" y="74.00">3</text>
<text x="41.14" y="50.00">4</text>
<text class="tt" x="176 180 183 190 200 207 212 218 225 237 244 251 259" y="29.8">flower_kmeans</text>
</g>
</g>
<g transform="translate(0,288)">
<g>
<circle cx="268.00" cy="55.96" r="3.5" fill="#5e4fa2"/>
<circle cx="229.68" cy="179.36" r="3.5" fill="#9e0142"/>
<circle cx="227.35" cy="174.42" r="3.5" fill="#9e0142"/>
<circle cx="236.66" cy="193.56" r="3.5" fill="#9e0142"/>
<circle cx="249.30" cy="72.72" r="3.5" fill="#5e4fa2"/>
<circle cx="283.25" cy="241.63" r="3.5" fill="#9e0142"/>
<circle cx="280.24" cy="64.10" r="3.5" fill="#5e4fa2"/>
<circle cx="225.19" cy="164.03" r="3.5" fill="#9e0142"/>
<circle cx="241.25" cy="82.75" r="3.5" fill="#5e4fa2"/>
<circle cx="229.93" cy="99.02" r="3.5" fill="#5e4fa2"/>
<circle cx="284.85" cy="58.97" r="3.5" fill="#5e4fa2"/>
<circle cx="254.65" cy="227.12" r="3.5" fill="#9e0142"/>
<circle cx="233.45" cy="91.84" r="3.5" fill="#5e4fa2"/>
<circle cx="232.35" cy="98.95" r="3.5" fill="#5e4fa2"/>
<circle cx="281.76" cy="62.63" r="3.5" fill="#5e4fa2"/>
<circle cx="224.09" cy="133.00" r="3.5" fill="#9e0142"/>
<circle cx="248.80" cy="67.67" r="3.5" fill="#5e4fa2"/>
<circle cx="228.31" cy="110.73" r="3.5" fill="#5e4fa2"/>
<circle cx="265.37" cy="50.82" r="3.5" fill="#5e4fa2"/>
<circle cx="283.04" cy="53.65" r="3.5" fill="#5e4fa2"/>
<circle cx="229.96" cy="99.87" r="3.5" fill="#5e4fa2"/>
<circle cx="287.05" cy="75.84" r="3.5" fill="#5e4fa2"/>
<circle cx="293.00" cy="63.79" r="3.5" fill="#5e4fa2"/>
<circle cx="287.01" cy="58.59" r="3.5" fill="#5e4fa2"/>
<circle cx="280.53" cy="82.55" r="3.5" fill="#5e4fa2"/>
<circle cx="259.94" cy="51.14" r="3.5" fill="#5e4fa2"/>
<circle cx="277.11" cy="55.23" r="3.5" fill="#5e4fa2"/>
<circle cx="251.31" cy="67.27" r="3.5" fill="#5e4fa2"/>
<circle cx="277.01" cy="55.99" r="3.5" fill="#5e4fa2"/>
<circle cx="284.06" cy="79.38" r="3.5" fill="#5e4fa2"/>
<circle cx="270.82" cy="52.54" r="3.5" fill="#5e4fa2"/>
<circle cx="282.33" cy="52.82" r="3.5" fill="#5e4fa2"/>
<circle cx="277.47" cy="49.60" r="3.5" fill="#5e4fa2"/>
<circle cx="277.59" cy="44.71" r="3.5" fill="#5e4fa2"/>
<circle cx="280.42" cy="53.85" r="3.5" fill="#5e4fa2"/>
<circle cx="281.40" cy="80.19" r="3.5" fill="#5e4fa2"/>
<circle cx="268.93" cy="58.64" r="3.5" fill="#5e4fa2"/>
<circle cx="271.92" cy="99.04" r="3.5" fill="#5e4fa2"/>
<circle cx="150.80" cy="179.64" r="3.5" fill="#9e0142"/>
<circle cx="238.32" cy="133.07" r="3.5" fill="#9e0142"/>
<circle cx="279.45" cy="87.78" r="3.5" fill="#5e4fa2"/>
<circle cx="285.85" cy="61.00" r="3.5" fill="#5e4fa2"/>
<circle cx="287.69" cy="67.07" r="3.5" fill="#5e4fa2"/>
<circle cx="117.09" cy="187.58" r="3.5" fill="#9e0142"/>
<circle cx="251.42" cy="121.42" r="3.5" fill="#5e4fa2"/>
<circle cx="285.62" cy="80.19" r="3.5" fill="#5e4fa2"/>
<circle cx="237.46" cy="133.66" r="3.5" fill="#9e0142"/>
<circle cx="87.17" cy="183.17" r="3.5" fill="#9e0142"/>
<circle cx="236.78" cy="134.45" r="3.5" fill="#9e0142"/>
<circle cx="169.37" cy="172.48" r="3.5" fill="#9e0142"/>
<circle cx="196.55" cy="159.37" r="3.5" fill="#9e0142"/>
<circle cx="244.52" cy="127.81" r="3.5" fill="#5e4fa2"/>
<circle cx="270.43" cy="96.57" r="3.5" fill="#5e4fa2"/>
<circle cx="243.47" cy="129.50" r="3.5" fill="#5e4fa2"/>
<circle cx="217.58" cy="147.22" r="3.5" fill="#9e0142"/>
<circle cx="132.18" cy="184.17" r="3.5" fill="#9e0142"/>
<circle cx="127.39" cy="180.40" r="3.5" fill="#9e0142"/>
<circle cx="108.23" cy="184.35" r="3.5" fill="#9e0142"/>
<circle cx="146.53" cy="178.75" r="3.5" fill="#9e0142"/>
<circle cx="95.13" cy="186.60" r="3.5" fill="#9e0142"/>
<circle cx="222.57" cy="144.05" r="3.5" fill="#9e0142"/>
<circle cx="77.34" cy="180.34" r="3.5" fill="#9e0142"/>
<circle cx="110.96" cy="183.88" r="3.5" fill="#9e0142"/>
<circle cx="158.26" cy="175.90" r="3.5" fill="#9e0142"/>
<circle cx="100.18" cy="184.99" r="3.5" fill="#9e0142"/>
<circle cx="136.44" cy="180.24" r="3.5" fill="#9e0142"/>
<circle cx="93.87" cy="170.89" r="3.5" fill="#9e0142"/>
<circle cx="116.73" cy="158.88" r="3.5" fill="#9e0142"/>
<circle cx="186.85" cy="144.87" r="3.5" fill="#9e0142"/>
<circle cx="212.79" cy="150.32" r="3.5" fill="#9e0142"/>
<circle cx="218.44" cy="146.64" r="3.5" fill="#9e0142"/>
<circle cx="135.51" cy="179.95" r="3.5" fill="#9e0142"/>
<circle cx="94.85" cy="180.52" r="3.5" fill="#9e0142"/>
<circle cx="110.35" cy="162.58" r="3.5" fill="#9e0142"/>
<circle cx="82.25" cy="177.34" r="3.5" fill="#9e0142"/>
<circle cx="225.13" cy="142.33" r="3.5" fill="#9e0142"/>
<circle cx="84.14" cy="187.04" r="3.5" fill="#9e0142"/>
<circle cx="130.44" cy="155.67" r="3.5" fill="#9e0142"/>
<circle cx="91.27" cy="170.68" r="3.5" fill="#9e0142"/>
<circle cx="138.95" cy="153.47" r="3.5" fill="#9e0142"/>
<circle cx="82.47" cy="178.73" r="3.5" fill="#9e0142"/>
<circle cx="85.65" cy="175.85" r="3.5" fill="#9e0142"/>
<circle cx="105.63" cy="163.12" r="3.5" fill="#9e0142"/>
<circle cx="132.34" cy="154.76" r="3.5" fill="#9e0142"/>
<circle cx="116.07" cy="158.81" r="3.5" fill="#9e0142"/>
<circle cx="117.08" cy="158.67" r="3.5" fill="#9e0142"/>
<circle cx="88.05" cy="176.88" r="3.5" fill="#9e0142"/>
<circle cx="152.31" cy="149.49" r="3.5" fill="#9e0142"/>
<circle cx="126.38" cy="154.12" r="3.5" fill="#9e0142"/>
<circle cx="253.81" cy="144.21" r="3.5" fill="#5e4fa2"/>
<circle cx="268.48" cy="145.58" r="3.5" fill="#5e4fa2"/>
<circle cx="162.94" cy="147.56" r="3.5" fill="#9e0142"/>
<circle cx="123.05" cy="157.04" r="3.5" fill="#9e0142"/>
<circle cx="102.25" cy="163.05" r="3.5" fill="#9e0142"/>
<circle cx="216.02" cy="143.26" r="3.5" fill="#9e0142"/>
<circle cx="183.59" cy="144.97" r="3.5" fill="#9e0142"/>
<circle cx="152.49" cy="149.63" r="3.5" fill="#9e0142"/>
<circle cx="205.54" cy="143.70" r="3.5" fill="#9e0142"/>
<circle cx="131.29" cy="153.04" r="3.5" fill="#9e0142"/>
<circle cx="295.81" cy="149.02" r="3.5" fill="#5e4fa2"/>
<circle cx="186.22" cy="145.52" r="3.5" fill="#9e0142"/>
<circle cx="334.98" cy="162.69" r="3.5" fill="#9e0142"/>
<circle cx="279.40" cy="147.25" r="3.5" fill="#5e4fa2"/>
<circle cx="305.16" cy="152.09" r="3.5" fill="#5e4fa2"/>
<circle cx="135.77" cy="152.62" r="3.5" fill="#9e0142"/>
<circle cx="297.38" cy="148.57" r="3.5" fill="#5e4fa2"/>
<circle cx="340.36" cy="162.11" r="3.5" fill="#9e0142"/>
<circle cx="170.66" cy="146.18" r="3.5" fill="#9e0142"/>
<circle cx="268.38" cy="145.26" r="3.5" fill="#5e4fa2"/>
<circle cx="298.84" cy="150.47" r="3.5" fill="#5e4fa2"/>
<circle cx="164.43" cy="148.00" r="3.5" fill="#9e0142"/>
<circle cx="340.39" cy="161.57" r="3.5" fill="#9e0142"/>
<circle cx="369.26" cy="179.02" r="3.5" fill="#9e0142"/>
<circle cx="235.95" cy="143.43" r="3.5" fill="#9e0142"/>
<circle cx="373.30" cy="172.52" r="3.5" fill="#9e0142"/>
<circle cx="212.22" cy="143.43" r="3.5" fill="#9e0142"/>
<circle cx="345.20" cy="162.98" r="3.5" fill="#9e0142"/>
<circle cx="188.95" cy="144.59" r="3.5" fill="#9e0142"/>
<circle cx="335.17" cy="184.02" r="3.5" fill="#9e0142"/>
<circle cx="353.97" cy="177.46" r="3.5" fill="#9e0142"/>
<circle cx="354.31" cy="170.60" r="3.5" fill="#9e0142"/>
<circle cx="309.48" cy="153.06" r="3.5" fill="#5e4fa2"/>
<circle cx="308.64" cy="181.54" r="3.5" fill="#9e0142"/>
<circle cx="234.10" cy="149.57" r="3.5" fill="#9e0142"/>
<circle cx="229.42" cy="143.21" r="3.5" fill="#9e0142"/>
<circle cx="295.74" cy="178.55" r="3.5" fill="#9e0142"/>
<circle cx="243.92" cy="155.15" r="3.5" fill="#9e0142"/>
<circle cx="351.76" cy="188.39" r="3.5" fill="#9e0142"/>
<circle cx="323.74" cy="156.41" r="3.5" fill="#9e0142"/>
<circle cx="302.13" cy="180.75" r="3.5" fill="#9e0142"/>
<circle cx="358.36" cy="184.39" r="3.5" fill="#9e0142"/>
<circle cx="367.60" cy="179.47" r="3.5" fill="#9e0142"/>
<circle cx="337.04" cy="162.66" r="3.5" fill="#9e0142"/>
<circle cx="294.56" cy="177.13" r="3.5" fill="#9e0142"/>
<circle cx="274.78" cy="171.10" r="3.5" fill="#9e0142"/>
<circle cx="352.64" cy="181.59" r="3.5" fill="#9e0142"/>
<circle cx="265.28" cy="164.85" r="3.5" fill="#9e0142"/>
<circle cx="346.08" cy="172.74" r="3.5" fill="#9e0142"/>
<circle cx="224.20" cy="143.41" r="3.5" fill="#9e0142"/>
<circle cx="285.46" cy="172.34" r="3.5" fill="#9e0142"/>
<circle cx="308.40" cy="180.63" r="3.5" fill="#9e0142"/>
<circle cx="304.99" cy="181.72" r="3.5" fill="#9e0142"/>
<circle cx="204.37" cy="129.03" r="3.5" fill="#9e0142"/>
<circle cx="211.19" cy="134.13" r="3.5" fill="#9e0142"/>
<circle cx="220.25" cy="140.76" r="3.5" fill="#9e0142"/>
<circle cx="247.86" cy="157.50" r="3.5" fill="#9e0142"/>
<circle cx="245.25" cy="156.04" r="3.5" fill="#9e0142"/>
<circle cx="195.71" cy="121.54" r="3.5" fill="#9e0142"/>
<circle cx="221.83" cy="141.82" r="3.5" fill="#9e0142"/>
<circle cx="177.70" cy="104.34" r="3.5" fill="#5e4fa2"/>
<circle cx="258.41" cy="163.33" r="3.5" fill="#9e0142"/>
<circle cx="362.26" cy="172.68" r="3.5" fill="#9e0142"/>
<circle cx="161.23" cy="75.30" r="3.5" fill="#5e4fa2"/>
<circle cx="184.22" cy="59.50" r="3.5" fill="#5e4fa2"/>
<circle cx="172.45" cy="97.12" r="3.5" fill="#5e4fa2"/>
<circle cx="200.27" cy="125.71" r="3.5" fill="#9e0142"/>
<circle cx="200.68" cy="125.71" r="3.5" fill="#9e0142"/>
<circle cx="192.58" cy="118.67" r="3.5" fill="#9e0142"/>
<circle cx="178.87" cy="104.68" r="3.5" fill="#5e4fa2"/>
<circle cx="258.70" cy="162.64" r="3.5" fill="#9e0142"/>
<circle cx="201.97" cy="127.13" r="3.5" fill="#9e0142"/>
<circle cx="242.25" cy="154.70" r="3.5" fill="#9e0142"/>
<circle cx="154.61" cy="68.33" r="3.5" fill="#5e4fa2"/>
<circle cx="178.57" cy="103.15" r="3.5" fill="#5e4fa2"/>
<circle cx="159.78" cy="59.49" r="3.5" fill="#5e4fa2"/>
<circle cx="169.32" cy="88.93" r="3.5" fill="#5e4fa2"/>
<circle cx="177.03" cy="55.54" r="3.5" fill="#5e4fa2"/>
<circle cx="150.81" cy="49.93" r="3.5" fill="#5e4fa2"/>
<circle cx="221.37" cy="119.34" r="3.5" fill="#5e4fa2"/>
<circle cx="263.42" cy="165.37" r="3.5" fill="#9e0142"/>
<circle cx="168.99" cy="90.45" r="3.5" fill="#5e4fa2"/>
<circle cx="186.39" cy="56.55" r="3.5" fill="#5e4fa2"/>
<circle cx="221.34" cy="170.79" r="3.5" fill="#9e0142"/>
<circle cx="158.90" cy="59.92" r="3.5" fill="#5e4fa2"/>
<circle cx="171.49" cy="61.84" r="3.5" fill="#5e4fa2"/>
<circle cx="164.06" cy="59.32" r="3.5" fill="#5e4fa2"/>
<circle cx="218.09" cy="110.22" r="3.5" fill="#5e4fa2"/>
<circle cx="161.66" cy="51.47" r="3.5" fill="#5e4fa2"/>
<circle cx="197.45" cy="62.63" r="3.5" fill="#5e4fa2"/>
<circle cx="168.95" cy="56.54" r="3.5" fill="#5e4fa2"/>
<circle cx="167.69" cy="85.37" r="3.5" fill="#5e4fa2"/>
<circle cx="195.16" cy="65.51" r="3.5" fill="#5e4fa2"/>
<circle cx="203.14" cy="70.48" r="3.5" fill="#5e4fa2"/>
<circle cx="223.70" cy="135.63" r="3.5" fill="#9e0142"/>
<circle cx="188.87" cy="61.85" r="3.5" fill="#5e4fa2"/>
<circle cx="171.45" cy="51.77" r="3.5" fill="#5e4fa2"/>
<circle cx="216.56" cy="100.34" r="3.5" fill="#5e4fa2"/>
<circle cx="209.45" cy="84.35" r="3.5" fill="#5e4fa2"/>
<circle cx="212.36" cy="88.03" r="3.5" fill="#5e4fa2"/>
<circle cx="203.50" cy="73.85" r="3.5" fill="#5e4fa2"/>
<circle cx="221.80" cy="162.92" r="3.5" fill="#9e0142"/>
<circle cx="221.72" cy="123.74" r="3.5" fill="#5e4fa2"/>
<circle cx="194.29" cy="220.43" r="3.5" fill="#9e0142"/>
<circle cx="217.04" cy="185.63" r="3.5" fill="#9e0142"/>
<circle cx="223.51" cy="150.60" r="3.5" fill="#9e0142"/>
<circle cx="167.92" cy="57.47" r="3.5" fill="#5e4fa2"/>
<circle cx="223.01" cy="154.13" r="3.5" fill="#9e0142"/>
<circle cx="223.08" cy="159.79" r="3.5" fill="#9e0142"/>
<circle cx="215.14" cy="189.42" r="3.5" fill="#9e0142"/>
<circle cx="202.39" cy="218.61" r="3.5" fill="#9e0142"/>
<circle cx="184.63" cy="53.37" r="3.5" fill="#5e4fa2"/>
<circle cx="223.77" cy="149.27" r="3.5" fill="#9e0142"/>
<circle cx="220.46" cy="170.34" r="3.5" fill="#9e0142"/>
<circle cx="190.00" cy="224.01" r="3.5" fill="#9e0142"/>
<circle cx="222.29" cy="119.22" r="3.5" fill="#5e4fa2"/>
<circle cx="220.97" cy="169.11" r="3.5" fill="#9e0142"/>
<circle cx="174.22" cy="54.33" r="3.5" fill="#5e4fa2"/>
<circle cx="220.33" cy="113.05" r="3.5" fill="#5e4fa2"/>
<circle cx="205.94" cy="203.85" r="3.5" fill="#9e0142"/>
<circle cx="172.40" cy="239.93" r="3.5" fill="#9e0142"/>
<circle cx="220.08" cy="175.01" r="3.5" fill="#9e0142"/>
<circle cx="159.06" cy="211.67" r="3.5" fill="#9e0142"/>
<circle cx="157.37" cy="220.75" r="3.5" fill="#9e0142"/>
<circle cx="209.08" cy="200.50" r="3.5" fill="#9e0142"/>
<circle cx="182.45" cy="49.04" r="3.5" fill="#5e4fa2"/>
<circle cx="211.76" cy="86.84" r="3.5" fill="#5e4fa2"/>
<circle cx="220.06" cy="177.43" r="3.5" fill="#9e0142"/>
<circle cx="164.19" cy="221.76" r="3.5" fill="#9e0142"/>
<circle cx="177.30" cy="235.91" r="3.5" fill="#9e0142"/>
<circle cx="211.98" cy="88.10" r="3.5" fill="#5e4fa2"/>
<circle cx="193.39" cy="223.91" r="3.5" fill="#9e0142"/>
<circle cx="181.52" cy="181.83" r="3.5" fill="#9e0142"/>
<circle cx="191.56" cy="227.97" r="3.5" fill="#9e0142"/>
<circle cx="205.02" cy="208.76" r="3.5" fill="#9e0142"/>
<circle cx="211.33" cy="151.88" r="3.5" fill="#9e0142"/>
<circle cx="168.89" cy="234.54" r="3.5" fill="#9e0142"/>
<circle cx="183.72" cy="232.68" r="3.5" fill="#9e0142"/>
<circle cx="160.89" cy="225.36" r="3.5" fill="#9e0142"/>
<circle cx="162.13" cy="235.01" r="3.5" fill="#9e0142"/>
<circle cx="178.56" cy="226.51" r="3.5" fill="#9e0142"/>
<circle cx="194.30" cy="167.02" r="3.5" fill="#9e0142"/>
<circle cx="185.01" cy="174.69" r="3.5" fill="#9e0142"/>
<circle cx="177.89" cy="183.60" r="3.5" fill="#9e0142"/>
<circle cx="161.18" cy="224.29" r="3.5" fill="#9e0142"/>
<circle cx="207.21" cy="155.31" r="3.5" fill="#9e0142"/>
<circle cx="158.37" cy="219.84" r="3.5" fill="#9e0142"/>
<circle cx="177.49" cy="184.99" r="3.5" fill="#9e0142"/>
<circle cx="213.09" cy="150.66" r="3.5" fill="#9e0142"/>
<circle cx="209.03" cy="154.10" r="3.5" fill="#9e0142"/>
<circle cx="298.29" cy="107.60" r="3.5" fill="#5e4fa2"/>
<circle cx="186.28" cy="173.16" r="3.5" fill="#9e0142"/>
<circle cx="184.33" cy="233.22" r="3.5" fill="#9e0142"/>
<circle cx="169.36" cy="227.86" r="3.5" fill="#9e0142"/>
<circle cx="279.92" cy="114.94" r="3.5" fill="#5e4fa2"/>
<circle cx="172.60" cy="192.87" r="3.5" fill="#9e0142"/>
<circle cx="210.40" cy="152.60" r="3.5" fill="#9e0142"/>
<circle cx="167.65" cy="207.16" r="3.5" fill="#9e0142"/>
<circle cx="288.12" cy="110.32" r="3.5" fill="#5e4fa2"/>
<circle cx="181.39" cy="180.08" r="3.5" fill="#9e0142"/>
<circle cx="331.95" cy="100.80" r="3.5" fill="#5e4fa2"/>
<circle cx="173.23" cy="187.00" r="3.5" fill="#9e0142"/>
<circle cx="312.25" cy="105.56" r="3.5" fill="#5e4fa2"/>
<circle cx="278.21" cy="116.13" r="3.5" fill="#5e4fa2"/>
<circle cx="176.48" cy="183.43" r="3.5" fill="#9e0142"/>
<circle cx="334.83" cy="100.32" r="3.5" fill="#5e4fa2"/>
<circle cx="181.95" cy="179.12" r="3.5" fill="#9e0142"/>
<circle cx="184.70" cy="174.66" r="3.5" fill="#9e0142"/>
<circle cx="323.07" cy="102.31" r="3.5" fill="#5e4fa2"/>
<circle cx="215.47" cy="149.05" r="3.5" fill="#9e0142"/>
<circle cx="230.47" cy="138.79" r="3.5" fill="#9e0142"/>
<circle cx="252.74" cy="126.32" r="3.5" fill="#5e4fa2"/>
<circle cx="217.80" cy="147.66" r="3.5" fill="#9e0142"/>
<circle cx="360.90" cy="103.40" r="3.5" fill="#5e4fa2"/>
<circle cx="351.67" cy="98.59" r="3.5" fill="#5e4fa2"/>
<circle cx="300.22" cy="108.21" r="3.5" fill="#5e4fa2"/>
<circle cx="310.54" cy="104.15" r="3.5" fill="#5e4fa2"/>
<circle cx="351.03" cy="100.45" r="3.5" fill="#5e4fa2"/>
<circle cx="312.87" cy="131.87" r="3.5" fill="#5e4fa2"/>
<circle cx="366.85" cy="108.23" r="3.5" fill="#5e4fa2"/>
<circle cx="298.54" cy="108.28" r="3.5" fill="#5e4fa2"/>
<circle cx="372.04" cy="108.37" r="3.5" fill="#5e4fa2"/>
<circle cx="339.41" cy="100.88" r="3.5" fill="#5e4fa2"/>
<circle cx="337.25" cy="101.63" r="3.5" fill="#5e4fa2"/>
<circle cx="260.53" cy="141.38" r="3.5" fill="#5e4fa2"/>
<circle cx="341.89" cy="98.63" r="3.5" fill="#5e4fa2"/>
<circle cx="335.22" cy="101.50" r="3.5" fill="#5e4fa2"/>
<circle cx="219.81" cy="145.93" r="3.5" fill="#9e0142"/>
<circle cx="277.12" cy="115.36" r="3.5" fill="#5e4fa2"/>
<circle cx="349.44" cy="119.23" r="3.5" fill="#5e4fa2"/>
<circle cx="339.79" cy="101.76" r="3.5" fill="#5e4fa2"/>
<circle cx="336.15" cy="125.30" r="3.5" fill="#5e4fa2"/>
<circle cx="332.75" cy="99.21" r="3.5" fill="#5e4fa2"/>
<circle cx="358.28" cy="98.84" r="3.5" fill="#5e4fa2"/>
<circle cx="290.40" cy="136.23" r="3.5" fill="#5e4fa2"/>
<circle cx="199.97" cy="142.93" r="3.5" fill="#9e0142"/>
<circle cx="311.65" cy="134.89" r="3.5" fill="#5e4fa2"/>
<circle cx="223.19" cy="143.20" r="3.5" fill="#9e0142"/>
<circle cx="155.91" cy="138.09" r="3.5" fill="#9e0142"/>
<circle cx="221.09" cy="143.21" r="3.5" fill="#9e0142"/>
<circle cx="358.83" cy="107.24" r="3.5" fill="#5e4fa2"/>
<circle cx="334.47" cy="128.09" r="3.5" fill="#5e4fa2"/>
<circle cx="248.31" cy="142.55" r="3.5" fill="#5e4fa2"/>
<circle cx="341.84" cy="124.57" r="3.5" fill="#5e4fa2"/>
<circle cx="248.46" cy="142.48" r="3.5" fill="#5e4fa2"/>
<circle cx="356.75" cy="102.15" r="3.5" fill="#5e4fa2"/>
<circle cx="349.07" cy="120.25" r="3.5" fill="#5e4fa2"/>
<circle cx="205.55" cy="142.97" r="3.5" fill="#9e0142"/>
<circle cx="327.40" cy="103.83" r="3.5" fill="#5e4fa2"/>
<circle cx="358.44" cy="117.69" r="3.5" fill="#5e4fa2"/>
<circle cx="252.74" cy="142.36" r="3.5" fill="#5e4fa2"/>
<circle cx="365.36" cy="106.83" r="3.5" fill="#5e4fa2"/>
<circle cx="213.39" cy="143.18" r="3.5" fill="#9e0142"/>
<circle cx="307.56" cy="134.60" r="3.5" fill="#5e4fa2"/>
<circle cx="234.17" cy="142.95" r="3.5" fill="#9e0142"/>
<circle cx="235.35" cy="143.10" r="3.5" fill="#9e0142"/>
<circle cx="171.32" cy="139.98" r="3.5" fill="#9e0142"/>
<circle cx="258.94" cy="142.19" r="3.5" fill="#5e4fa2"/>
<circle cx="155.91" cy="138.52" r="3.5" fill="#9e0142"/>
<circle cx="237.85" cy="143.02" r="3.5" fill="#9e0142"/>
<circle cx="121.64" cy="127.43" r="3.5" fill="#9e0142"/>
<circle cx="103.47" cy="102.39" r="3.5" fill="#9e0142"/>
<circle cx="142.38" cy="132.92" r="3.5" fill="#9e0142"/>
<circle cx="121.97" cy="129.62" r="3.5" fill="#9e0142"/>
<circle cx="254.14" cy="142.12" r="3.5" fill="#5e4fa2"/>
<circle cx="87.22" cy="111.67" r="3.5" fill="#9e0142"/>
<circle cx="178.68" cy="141.42" r="3.5" fill="#9e0142"/>
<circle cx="188.72" cy="141.69" r="3.5" fill="#9e0142"/>
<circle cx="82.48" cy="108.47" r="3.5" fill="#9e0142"/>
<circle cx="92.20" cy="116.68" r="3.5" fill="#9e0142"/>
<circle cx="106.71" cy="101.12" r="3.5" fill="#9e0142"/>
<circle cx="145.89" cy="109.37" r="3.5" fill="#5e4fa2"/>
<circle cx="115.24" cy="128.79" r="3.5" fill="#9e0142"/>
<circle cx="91.84" cy="111.51" r="3.5" fill="#9e0142"/>
<circle cx="180.81" cy="119.64" r="3.5" fill="#5e4fa2"/>
<circle cx="129.04" cy="104.93" r="3.5" fill="#5e4fa2"/>
<circle cx="107.96" cy="100.04" r="3.5" fill="#9e0142"/>
<circle cx="160.55" cy="111.54" r="3.5" fill="#5e4fa2"/>
<circle cx="97.31" cy="119.17" r="3.5" fill="#9e0142"/>
<circle cx="120.79" cy="101.91" r="3.5" fill="#9e0142"/>
<circle cx="185.91" cy="121.40" r="3.5" fill="#9e0142"/>
<circle cx="212.29" cy="135.73" r="3.5" fill="#9e0142"/>
<circle cx="88.23" cy="115.25" r="3.5" fill="#9e0142"/>
<circle cx="69.52" cy="96.47" r="3.5" fill="#9e0142"/>
<circle cx="133.68" cy="104.77" r="3.5" fill="#5e4fa2"/>
<circle cx="97.96" cy="102.64" r="3.5" fill="#9e0142"/>
<circle cx="101.30" cy="104.21" r="3.5" fill="#9e0142"/>
<circle cx="173.22" cy="116.12" r="3.5" fill="#5e4fa2"/>
<circle cx="107.35" cy="102.34" r="3.5" fill="#9e0142"/>
<circle cx="135.14" cy="130.39" r="3.5" fill="#9e0142"/>
<circle cx="174.89" cy="117.94" r="3.5" fill="#5e4fa2"/>
<circle cx="111.62" cy="100.65" r="3.5" fill="#9e0142"/>
<circle cx="93.22" cy="98.81" r="3.5" fill="#9e0142"/>
<circle cx="101.30" cy="116.09" r="3.5" fill="#9e0142"/>
<circle cx="252.36" cy="164.90" r="3.5" fill="#9e0142"/>
<circle cx="114.65" cy="126.95" r="3.5" fill="#9e0142"/>
<circle cx="93.69" cy="112.44" r="3.5" fill="#9e0142"/>
<circle cx="156.81" cy="109.86" r="3.5" fill="#5e4fa2"/>
<circle cx="277.56" cy="194.05" r="3.5" fill="#9e0142"/>
<circle cx="281.28" cy="201.43" r="3.5" fill="#9e0142"/>
<circle cx="115.19" cy="102.48" r="3.5" fill="#9e0142"/>
<circle cx="188.65" cy="122.48" r="3.5" fill="#9e0142"/>
<circle cx="100.04" cy="101.02" r="3.5" fill="#9e0142"/>
<circle cx="277.78" cy="198.24" r="3.5" fill="#9e0142"/>
<circle cx="112.89" cy="101.77" r="3.5" fill="#9e0142"/>
<circle cx="224.14" cy="143.39" r="3.5" fill="#9e0142"/>
<circle cx="289.72" cy="218.64" r="3.5" fill="#9e0142"/>
<circle cx="238.19" cy="153.20" r="3.5" fill="#9e0142"/>
<circle cx="283.91" cy="235.78" r="3.5" fill="#9e0142"/>
<circle cx="191.46" cy="124.63" r="3.5" fill="#9e0142"/>
<circle cx="281.22" cy="199.44" r="3.5" fill="#9e0142"/>
<circle cx="282.32" cy="217.23" r="3.5" fill="#9e0142"/>
<circle cx="270.45" cy="182.60" r="3.5" fill="#9e0142"/>
<circle cx="275.42" cy="238.40" r="3.5" fill="#9e0142"/>
<circle cx="281.80" cy="214.15" r="3.5" fill="#9e0142"/>
<circle cx="160.77" cy="111.18" r="3.5" fill="#5e4fa2"/>
<circle cx="244.70" cy="79.81" r="3.5" fill="#5e4fa2"/>
<circle cx="282.84" cy="228.62" r="3.5" fill="#9e0142"/>
<circle cx="286.47" cy="215.42" r="3.5" fill="#9e0142"/>
<circle cx="225.24" cy="144.08" r="3.5" fill="#9e0142"/>
<circle cx="289.04" cy="223.17" r="3.5" fill="#9e0142"/>
<circle cx="281.40" cy="200.43" r="3.5" fill="#9e0142"/>
<circle cx="272.09" cy="230.27" r="3.5" fill="#9e0142"/>
<circle cx="277.21" cy="229.06" r="3.5" fill="#9e0142"/>
<circle cx="227.51" cy="173.41" r="3.5" fill="#9e0142"/>
<circle cx="278.76" cy="228.05" r="3.5" fill="#9e0142"/>
<circle cx="267.76" cy="232.36" r="3.5" fill="#9e0142"/>
<circle cx="271.78" cy="236.54" r="3.5" fill="#9e0142"/>
<circle cx="285.81" cy="236.10" r="3.5" fill="#9e0142"/>
<circle cx="280.46" cy="230.10" r="3.5" fill="#9e0142"/>
<circle cx="236.18" cy="202.88" r="3.5" fill="#9e0142"/>
<circle cx="241.14" cy="204.64" r="3.5" fill="#9e0142"/>
<circle cx="289.57" cy="233.47" r="3.5" fill="#9e0142"/>
<circle cx="288.28" cy="215.99" r="3.5" fill="#9e0142"/>
<circle cx="264.56" cy="228.50" r="3.5" fill="#9e0142"/>
<circle cx="224.69" cy="155.13" r="3.5" fill="#9e0142"/>
<circle cx="261.75" cy="234.99" r="3.5" fill="#9e0142"/>
<circle cx="229.21" cy="108.50" r="3.5" fill="#5e4fa2"/>
<circle cx="278.94" cy="233.33" r="3.5" fill="#9e0142"/>
<circle cx="243.27" cy="211.35" r="3.5" fill="#9e0142"/>
<circle cx="250.37" cy="164.02" r="3.5" fill="#9e0142"/>
<circle cx="269.46" cy="240.16" r="3.5" fill="#9e0142"/>
<circle cx="249.93" cy="217.16" r="3.5" fill="#9e0142"/>
<circle cx="225.20" cy="160.77" r="3.5" fill="#9e0142"/>
<circle cx="245.73" cy="73.15" r="3.5" fill="#5e4fa2"/>
<circle cx="230.35" cy="180.75" r="3.5" fill="#9e0142"/>
<circle cx="240.36" cy="84.46" r="3.5" fill="#5e4fa2"/>
<circle cx="225.24" cy="121.45" r="3.5" fill="#5e4fa2"/>
<circle cx="231.69" cy="100.95" r="3.5" fill="#5e4fa2"/>
<circle cx="235.75" cy="194.83" r="3.5" fill="#9e0142"/>
<circle cx="250.64" cy="68.35" r="3.5" fill="#5e4fa2"/>
</g>
<rect x="54.5" y="35.5" width="335.0" height="217.0" fill="none" stroke="#000" stroke-width="0.8"/>
<g stroke="#000" stroke-width="0.8">
<line x1="77.5" y1="252.5" x2="77.5" y2="256.6"/>
<line x1="151.5" y1="252.5" x2="151.5" y2="256.6"/>
<line x1="224.5" y1="252.5" x2="224.5" y2="256.6"/>
<line x1="297.5" y1="252.5" x2="297.5" y2="256.6"/>
<line x1="370.5" y1="252.5" x2="370.5" y2="256.6"/>
<line x1="54.5" y1="241.5" x2="51.2" y2="241.5"/>
<line x1="54.5" y1="217.5" x2="51.2" y2="217.5"/>
<line x1="54.5" y1="192.5" x2="51.2" y2="192.5"/>
<line x1="54.5" y1="168.5" x2="51.2" y2="168.5"/>
<line x1="54.5" y1="143.5" x2="51.2" y2="143.5"/>
<line x1="54.5" y1="119.5" x2="51.2" y2="119.5"/>
<line x1="54.5" y1="95.5" x2="51.2" y2="95.5"/>
<line x1="54.5" y1="70.5" x2="51.2" y2="70.5"/>
<line x1="54.5" y1="46.5" x2="51.2" y2="46.5"/>
</g>
<g class="tk">
<text class="mn" x="70.40" y="266.00">−</text><text x="77.30" y="267.00">4</text>
<text class="mn" x="143.40" y="266.00">−</text><text x="150.30" y="267.00">2</text>
<text x="220.82" y="267.00">0</text>
<text x="295.00" y="267.00">2</text>
<text x="367.96" y="267.00">4</text>
<text class="mn" x="32.35" y="244.00">−</text><text x="39.25" y="245.00">4</text>
<text class="mn" x="32.35" y="220.00">−</text><text x="39.25" y="221.00">3</text>
<text class="mn" x="32.35" y="195.00">−</text><text x="39.25" y="196.00">2</text>
<text class="mn" x="32.35" y="171.00">−</text><text x="39.25" y="172.00">1</text>
<text x="41.14" y="147.00">0</text>
<text x="41.14" y="123.00">1</text>
<text x="41.14" y="99.00">2</text>
<text x="41.14" y="74.00">3</text>
<text x="41.14" y="50.00">4</text>
<text class="tt" x="182 186 189 196 206 213 218 224 230 233 241 249 252" y="28.8">flower_single</text>
</g>
</g>
<g transform="translate(432,288)">
<g>
<circle cx="268.00" cy="55.96" r="3.5" fill="#9e0142"/>
<circle cx="229.68" cy="179.36" r="3.5" fill="#5e4fa2"/>
<circle cx="227.35" cy="174.42" r="3.5" fill="#5e4fa2"/>
<circle cx="236.66" cy="193.56" r="3.5" fill="#5e4fa2"/>
<circle cx="249.30" cy="72.72" r="3.5" fill="#9e0142"/>
<circle cx="283.25" cy="241.63" r="3.5" fill="#5e4fa2"/>
<circle cx="280.24" cy="64.10" r="3.5" fill="#9e0142"/>
<circle cx="225.19" cy="164.03" r="3.5" fill="#5e4fa2"/>
<circle cx="241.25" cy="82.75" r="3.5" fill="#9e0142"/>
<circle cx="229.93" cy="99.02" r="3.5" fill="#5e4fa2"/>
<circle cx="284.85" cy="58.97" r="3.5" fill="#9e0142"/>
<circle cx="254.65" cy="227.12" r="3.5" fill="#5e4fa2"/>
<circle cx="233.45" cy="91.84" r="3.5" fill="#5e4fa2"/>
<circle cx="232.35" cy="98.95" r="3.5" fill="#5e4fa2"/>
<circle cx="281.76" cy="62.63" r="3.5" fill="#9e0142"/>
<circle cx="224.09" cy="133.00" r="3.5" fill="#5e4fa2"/>
<circle cx="248.80" cy="67.67" r="3.5" fill="#9e0142"/>
<circle cx="228.31" cy="110.73" r="3.5" fill="#5e4fa2"/>
<circle cx="265.37" cy="50.82" r="3.5" fill="#9e0142"/>
<circle cx="283.04" cy="53.65" r="3.5" fill="#9e0142"/>
<circle cx="229.96" cy="99.87" r="3.5" fill="#5e4fa2"/>
<circle cx="287.05" cy="75.84" r="3.5" fill="#9e0142"/>
<circle cx="293.00" cy="63.79" r="3.5" fill="#9e0142"/>
<circle cx="287.01" cy="58.59" r="3.5" fill="#9e0142"/>
<circle cx="280.53" cy="82.55" r="3.5" fill="#9e0142"/>
<circle cx="259.94" cy="51.14" r="3.5" fill="#9e0142"/>
<circle cx="277.11" cy="55.23" r="3.5" fill="#9e0142"/>
<circle cx="251.31" cy="67.27" r="3.5" fill="#9e0142"/>
<circle cx="277.01" cy="55.99" r="3.5" fill="#9e0142"/>
<circle cx="284.06" cy="79.38" r="3.5" fill="#9e0142"/>
<circle cx="270.82" cy="52.54" r="3.5" fill="#9e0142"/>
<circle cx="282.33" cy="52.82" r="3.5" fill="#9e0142"/>
<circle cx="277.47" cy="49.60" r="3.5" fill="#9e0142"/>
<circle cx="277.59" cy="44.71" r="3.5" fill="#9e0142"/>
<circle cx="280.42" cy="53.85" r="3.5" fill="#9e0142"/>
<circle cx="281.40" cy="80.19" r="3.5" fill="#9e0142"/>
<circle cx="268.93" cy="58.64" r="3.5" fill="#9e0142"/>
<circle cx="271.92" cy="99.04" r="3.5" fill="#9e0142"/>
<circle cx="150.80" cy="179.64" r="3.5" fill="#5e4fa2"/>
<circle cx="238.32" cy="133.07" r="3.5" fill="#5e4fa2"/>
<circle cx="279.45" cy="87.78" r="3.5" fill="#9e0142"/>
<circle cx="285.85" cy="61.00" r="3.5" fill="#9e0142"/>
<circle cx="287.69" cy="67.07" r="3.5" fill="#9e0142"/>
<circle cx="117.09" cy="187.58" r="3.5" fill="#5e4fa2"/>
<circle cx="251.42" cy="121.42" r="3.5" fill="#5e4fa2"/>
<circle cx="285.62" cy="80.19" r="3.5" fill="#9e0142"/>
<circle cx="237.46" cy="133.66" r="3.5" fill="#5e4fa2"/>
<circle cx="87.17" cy="183.17" r="3.5" fill="#5e4fa2"/>
<circle cx="236.78" cy="134.45" r="3.5" fill="#5e4fa2"/>
<circle cx="169.37" cy="172.48" r="3.5" fill="#5e4fa2"/>
<circle cx="196.55" cy="159.37" r="3.5" fill="#5e4fa2"/>
<circle cx="244.52" cy="127.81" r="3.5" fill="#5e4fa2"/>
<circle cx="270.43" cy="96.57" r="3.5" fill="#9e0142"/>
<circle cx="243.47" cy="129.50" r="3.5" fill="#5e4fa2"/>
<circle cx="217.58" cy="147.22" r="3.5" fill="#5e4fa2"/>
<circle cx="132.18" cy="184.17" r="3.5" fill="#5e4fa2"/>
<circle cx="127.39" cy="180.40" r="3.5" fill="#5e4fa2"/>
<circle cx="108.23" cy="184.35" r="3.5" fill="#5e4fa2"/>
<circle cx="146.53" cy="178.75" r="3.5" fill="#5e4fa2"/>
<circle cx="95.13" cy="186.60" r="3.5" fill="#5e4fa2"/>
<circle cx="222.57" cy="144.05" r="3.5" fill="#5e4fa2"/>
<circle cx="77.34" cy="180.34" r="3.5" fill="#5e4fa2"/>
<circle cx="110.96" cy="183.88" r="3.5" fill="#5e4fa2"/>
<circle cx="158.26" cy="175.90" r="3.5" fill="#5e4fa2"/>
<circle cx="100.18" cy="184.99" r="3.5" fill="#5e4fa2"/>
<circle cx="136.44" cy="180.24" r="3.5" fill="#5e4fa2"/>
<circle cx="93.87" cy="170.89" r="3.5" fill="#5e4fa2"/>
<circle cx="116.73" cy="158.88" r="3.5" fill="#5e4fa2"/>
<circle cx="186.85" cy="144.87" r="3.5" fill="#5e4fa2"/>
<circle cx="212.79" cy="150.32" r="3.5" fill="#5e4fa2"/>
<circle cx="218.44" cy="146.64" r="3.5" fill="#5e4fa2"/>
<circle cx="135.51" cy="179.95" r="3.5" fill="#5e4fa2"/>
<circle cx="94.85" cy="180.52" r="3.5" fill="#5e4fa2"/>
<circle cx="110.35" cy="162.58" r="3.5" fill="#5e4fa2"/>
<circle cx="82.25" cy="177.34" r="3.5" fill="#5e4fa2"/>
<circle cx="225.13" cy="142.33" r="3.5" fill="#5e4fa2"/>
<circle cx="84.14" cy="187.04" r="3.5" fill="#5e4fa2"/>
<circle cx="130.44" cy="155.67" r="3.5" fill="#5e4fa2"/>
<circle cx="91.27" cy="170.68" r="3.5" fill="#5e4fa2"/>
<circle cx="138.95" cy="153.47" r="3.5" fill="#5e4fa2"/>
<circle cx="82.47" cy="178.73" r="3.5" fill="#5e4fa2"/>
<circle cx="85.65" cy="175.85" r="3.5" fill="#5e4fa2"/>
<circle cx="105.63" cy="163.12" r="3.5" fill="#5e4fa2"/>
<circle cx="132.34" cy="154.76" r="3.5" fill="#5e4fa2"/>
<circle cx="116.07" cy="158.81" r="3.5" fill="#5e4fa2"/>
<circle cx="117.08" cy="158.67" r="3.5" fill="#5e4fa2"/>
<circle cx="88.05" cy="176.88" r="3.5" fill="#5e4fa2"/>
<circle cx="152.31" cy="149.49" r="3.5" fill="#5e4fa2"/>
<circle cx="126.38" cy="154.12" r="3.5" fill="#5e4fa2"/>
<circle cx="253.81" cy="144.21" r="3.5" fill="#5e4fa2"/>
<circle cx="268.48" cy="145.58" r="3.5" fill="#5e4fa2"/>
<circle cx="162.94" cy="147.56" r="3.5" fill="#5e4fa2"/>
<circle cx="123.05" cy="157.04" r="3.5" fill="#5e4fa2"/>
<circle cx="102.25" cy="163.05" r="3.5" fill="#5e4fa2"/>
<circle cx="216.02" cy="143.26" r="3.5" fill="#5e4fa2"/>
<circle cx="183.59" cy="144.97" r="3.5" fill="#5e4fa2"/>
<circle cx="152.49" cy="149.63" r="3.5" fill="#5e4fa2"/>
<circle cx="205.54" cy="143.70" r="3.5" fill="#5e4fa2"/>
<circle cx="131.29" cy="153.04" r="3.5" fill="#5e4fa2"/>
<circle cx="295.81" cy="149.02" r="3.5" fill="#9e0142"/>
<circle cx="186.22" cy="145.52" r="3.5" fill="#5e4fa2"/>
<circle cx="334.98" cy="162.69" r="3.5" fill="#9e0142"/>
<circle cx="279.40" cy="147.25" r="3.5" fill="#5e4fa2"/>
<circle cx="305.16" cy="152.09" r="3.5" fill="#9e0142"/>
<circle cx="135.77" cy="152.62" r="3.5" fill="#5e4fa2"/>
<circle cx="297.38" cy="148.57" r="3.5" fill="#9e0142"/>
<circle cx="340.36" cy="162.11" r="3.5" fill="#9e0142"/>
<circle cx="170.66" cy="146.18" r="3.5" fill="#5e4fa2"/>
<circle cx="268.38" cy="145.26" r="3.5" fill="#5e4fa2"/>
<circle cx="298.84" cy="150.47" r="3.5" fill="#9e0142"/>
<circle cx="164.43" cy="148.00" r="3.5" fill="#5e4fa2"/>
<circle cx="340.39" cy="161.57" r="3.5" fill="#9e0142"/>
<circle cx="369.26" cy="179.02" r="3.5" fill="#9e0142"/>
<circle cx="235.95" cy="143.43" r="3.5" fill="#5e4fa2"/>
<circle cx="373.30" cy="172.52" r="3.5" fill="#9e0142"/>
<circle cx="212.22" cy="143.43" r="3.5" fill="#5e4fa2"/>
<circle cx="345.20" cy="162.98" r="3.5" fill="#9e0142"/>
<circle cx="188.95" cy="144.59" r="3.5" fill="#5e4fa2"/>
<circle cx="335.17" cy="184.02" r="3.5" fill="#9e0142"/>
<circle cx="353.97" cy="177.46" r="3.5" fill="#9e0142"/>
<circle cx="354.31" cy="170.60" r="3.5" fill="#9e0142"/>
<circle cx="309.48" cy="153.06" r="3.5" fill="#9e0142"/>
<circle cx="308.64" cy="181.54" r="3.5" fill="#5e4fa2"/>
<circle cx="234.10" cy="149.57" r="3.5" fill="#5e4fa2"/>
<circle cx="229.42" cy="143.21" r="3.5" fill="#5e4fa2"/>
<circle cx="295.74" cy="178.55" r="3.5" fill="#5e4fa2"/>
<circle cx="243.92" cy="155.15" r="3.5" fill="#5e4fa2"/>
<circle cx="351.76" cy="188.39" r="3.5" fill="#9e0142"/>
<circle cx="323.74" cy="156.41" r="3.5" fill="#9e0142"/>
<circle cx="302.13" cy="180.75" r="3.5" fill="#5e4fa2"/>
<circle cx="358.36" cy="184.39" r="3.5" fill="#9e0142"/>
<circle cx="367.60" cy="179.47" r="3.5" fill="#9e0142"/>
<circle cx="337.04" cy="162.66" r="3.5" fill="#9e0142"/>
<circle cx="294.56" cy="177.13" r="3.5" fill="#5e4fa2"/>
<circle cx="274.78" cy="171.10" r="3.5" fill="#5e4fa2"/>
<circle cx="352.64" cy="181.59" r="3.5" fill="#9e0142"/>
<circle cx="265.28" cy="164.85" r="3.5" fill="#5e4fa2"/>
<circle cx="346.08" cy="172.74" r="3.5" fill="#9e0142"/>
<circle cx="224.20" cy="143.41" r="3.5" fill="#5e4fa2"/>
<circle cx="285.46" cy="172.34" r="3.5" fill="#5e4fa2"/>
<circle cx="308.40" cy="180.63" r="3.5" fill="#5e4fa2"/>
<circle cx="304.99" cy="181.72" r="3.5" fill="#5e4fa2"/>
<circle cx="204.37" cy="129.03" r="3.5" fill="#5e4fa2"/>
<circle cx="211.19" cy="134.13" r="3.5" fill="#5e4fa2"/>
<circle cx="220.25" cy="140.76" r="3.5" fill="#5e4fa2"/>
<circle cx="247.86" cy="157.50" r="3.5" fill="#5e4fa2"/>
<circle cx="245.25" cy="156.04" r="3.5" fill="#5e4fa2"/>
<circle cx="195.71" cy="121.54" r="3.5" fill="#5e4fa2"/>
<circle cx="221.83" cy="141.82" r="3.5" fill="#5e4fa2"/>
<circle cx="177.70" cy="104.34" r="3.5" fill="#5e4fa2"/>
<circle cx="258.41" cy="163.33" r="3.5" fill="#5e4fa2"/>
<circle cx="362.26" cy="172.68" r="3.5" fill="#9e0142"/>
<circle cx="161.23" cy="75.30" r="3.5" fill="#9e0142"/>
<circle cx="184.22" cy="59.50" r="3.5" fill="#9e0142"/>
<circle cx="172.45" cy="97.12" r="3.5" fill="#5e4fa2"/>
<circle cx="200.27" cy="125.71" r="3.5" fill="#5e4fa2"/>
<circle cx="200.68" cy="125.71" r="3.5" fill="#5e4fa2"/>
<circle cx="192.58" cy="118.67" r="3.5" fill="#5e4fa2"/>
<circle cx="178.87" cy="104.68" r="3.5" fill="#5e4fa2"/>
<circle cx="258.70" cy="162.64" r="3.5" fill="#5e4fa2"/>
<circle cx="201.97" cy="127.13" r="3.5" fill="#5e4fa2"/>
<circle cx="242.25" cy="154.70" r="3.5" fill="#5e4fa2"/>
<circle cx="154.61" cy="68.33" r="3.5" fill="#9e0142"/>
<circle cx="178.57" cy="103.15" r="3.5" fill="#5e4fa2"/>
<circle cx="159.78" cy="59.49" r="3.5" fill="#9e0142"/>
<circle cx="169.32" cy="88.93" r="3.5" fill="#5e4fa2"/>
<circle cx="177.03" cy="55.54" r="3.5" fill="#9e0142"/>
<circle cx="150.81" cy="49.93" r="3.5" fill="#9e0142"/>
<circle cx="221.37" cy="119.34" r="3.5" fill="#5e4fa2"/>
<circle cx="263.42" cy="165.37" r="3.5" fill="#5e4fa2"/>
<circle cx="168.99" cy="90.45" r="3.5" fill="#5e4fa2"/>
<circle cx="186.39" cy="56.55" r="3.5" fill="#9e0142"/>
<circle cx="221.34" cy="170.79" r="3.5" fill="#5e4fa2"/>
<circle cx="158.90" cy="59.92" r="3.5" fill="#9e0142"/>
<circle cx="171.49" cy="61.84" r="3.5" fill="#9e0142"/>
<circle cx="164.06" cy="59.32" r="3.5" fill="#9e0142"/>
<circle cx="218.09" cy="110.22" r="3.5" fill="#5e4fa2"/>
<circle cx="161.66" cy="51.47" r="3.5" fill="#9e0142"/>
<circle cx="197.45" cy="62.63" r="3.5" fill="#9e0142"/>
<circle cx="168.95" cy="56.54" r="3.5" fill="#9e0142"/>
<circle cx="167.69" cy="85.37" r="3.5" fill="#5e4fa2"/>
<circle cx="195.16" cy="65.51" r="3.5" fill="#9e0142"/>
<circle cx="203.14" cy="70.48" r="3.5" fill="#9e0142"/>
<circle cx="223.70" cy="135.63" r="3.5" fill="#5e4fa2"/>
<circle cx="188.87" cy="61.85" r="3.5" fill="#9e0142"/>
<circle cx="171.45" cy="51.77" r="3.5" fill="#9e0142"/>
<circle cx="216.56" cy="100.34" r="3.5" fill="#5e4fa2"/>
<circle cx="209.45" cy="84.35" r="3.5" fill="#5e4fa2"/>
<circle cx="212.36" cy="88.03" r="3.5" fill="#5e4fa2"/>
<circle cx="203.50" cy="73.85" r="3.5" fill="#9e0142"/>
<circle cx="221.80" cy="162.92" r="3.5" fill="#5e4fa2"/>
<circle cx="221.72" cy="123.74" r="3.5" fill="#5e4fa2"/>
<circle cx="194.29" cy="220.43" r="3.5" fill="#5e4fa2"/>
<circle cx="217.04" cy="185.63" r="3.5" fill="#5e4fa2"/>
<circle cx="223.51" cy="150.60" r="3.5" fill="#5e4fa2"/>
<circle cx="167.92" cy="57.47" r="3.5" fill="#9e0142"/>
<circle cx="223.01" cy="154.13" r="3.5" fill="#5e4fa2"/>
<circle cx="223.08" cy="159.79" r="3.5" fill="#5e4fa2"/>
<circle cx="215.14" cy="189.42" r="3.5" fill="#5e4fa2"/>
<circle cx="202.39" cy="218.61" r="3.5" fill="#5e4fa2"/>
<circle cx="184.63" cy="53.37" r="3.5" fill="#9e0142"/>
<circle cx="223.77" cy="149.27" r="3.5" fill="#5e4fa2"/>
<circle cx="220.46" cy="170.34" r="3.5" fill="#5e4fa2"/>
<circle cx="190.00" cy="224.01" r="3.5" fill="#5e4fa2"/>
<circle cx="222.29" cy="119.22" r="3.5" fill="#5e4fa2"/>
<circle cx="220.97" cy="169.11" r="3.5" fill="#5e4fa2"/>
<circle cx="174.22" cy="54.33" r="3.5" fill="#9e0142"/>
<circle cx="220.33" cy="113.05" r="3.5" fill="#5e4fa2"/>
<circle cx="205.94" cy="203.85" r="3.5" fill="#5e4fa2"/>
<circle cx="172.40" cy="239.93" r="3.5" fill="#5e4fa2"/>
<circle cx="220.08" cy="175.01" r="3.5" fill="#5e4fa2"/>
<circle cx="159.06" cy="211.67" r="3.5" fill="#5e4fa2"/>
<circle cx="157.37" cy="220.75" r="3.5" fill="#5e4fa2"/>
<circle cx="209.08" cy="200.50" r="3.5" fill="#5e4fa2"/>
<circle cx="182.45" cy="49.04" r="3.5" fill="#9e0142"/>
<circle cx="211.76" cy="86.84" r="3.5" fill="#5e4fa2"/>
<circle cx="220.06" cy="177.43" r="3.5" fill="#5e4fa2"/>
<circle cx="164.19" cy="221.76" r="3.5" fill="#5e4fa2"/>
<circle cx="177.30" cy="235.91" r="3.5" fill="#5e4fa2"/>
<circle cx="211.98" cy="88.10" r="3.5" fill="#5e4fa2"/>
<circle cx="193.39" cy="223.91" r="3.5" fill="#5e4fa2"/>
<circle cx="181.52" cy="181.83" r="3.5" fill="#5e4fa2"/>
<circle cx="191.56" cy="227.97" r="3.5" fill="#5e4fa2"/>
<circle cx="205.02" cy="208.76" r="3.5" fill="#5e4fa2"/>
<circle cx="211.33" cy="151.88" r="3.5" fill="#5e4fa2"/>
<circle cx="168.89" cy="234.54" r="3.5" fill="#5e4fa2"/>
<circle cx="183.72" cy="232.68" r="3.5" fill="#5e4fa2"/>
<circle cx="160.89" cy="225.36" r="3.5" fill="#5e4fa2"/>
<circle cx="162.13" cy="235.01" r="3.5" fill="#5e4fa2"/>
<circle cx="178.56" cy="226.51" r="3.5" fill="#5e4fa2"/>
<circle cx="194.30" cy="167.02" r="3.5" fill="#5e4fa2"/>
<circle cx="185.01" cy="174.69" r="3.5" fill="#5e4fa2"/>
<circle cx="177.89" cy="183.60" r="3.5" fill="#5e4fa2"/>
<circle cx="161.18" cy="224.29" r="3.5" fill="#5e4fa2"/>
<circle cx="207.21" cy="155.31" r="3.5" fill="#5e4fa2"/>
<circle cx="158.37" cy="219.84" r="3.5" fill="#5e4fa2"/>
<circle cx="177.49" cy="184.99" r="3.5" fill="#5e4fa2"/>
<circle cx="213.09" cy="150.66" r="3.5" fill="#5e4fa2"/>
<circle cx="209.03" cy="154.10" r="3.5" fill="#5e4fa2"/>
<circle cx="298.29" cy="107.60" r="3.5" fill="#9e0142"/>
<circle cx="186.28" cy="173.16" r="3.5" fill="#5e4fa2"/>
<circle cx="184.33" cy="233.22" r="3.5" fill="#5e4fa2"/>
<circle cx="169.36" cy="227.86" r="3.5" fill="#5e4fa2"/>
<circle cx="279.92" cy="114.94" r="3.5" fill="#9e0142"/>
<circle cx="172.60" cy="192.87" r="3.5" fill="#5e4fa2"/>
<circle cx="210.40" cy="152.60" r="3.5" fill="#5e4fa2"/>
<circle cx="167.65" cy="207.16" r="3.5" fill="#5e4fa2"/>
<circle cx="288.12" cy="110.32" r="3.5" fill="#9e0142"/>
<circle cx="181.39" cy="180.08" r="3.5" fill="#5e4fa2"/>
<circle cx="331.95" cy="100.80" r="3.5" fill="#9e0142"/>
<circle cx="173.23" cy="187.00" r="3.5" fill="#5e4fa2"/>
<circle cx="312.25" cy="105.56" r="3.5" fill="#9e0142"/>
<circle cx="278.21" cy="116.13" r="3.5" fill="#9e0142"/>
<circle cx="176.48" cy="183.43" r="3.5" fill="#5e4fa2"/>
<circle cx="334.83" cy="100.32" r="3.5" fill="#9e0142"/>
<circle cx="181.95" cy="179.12" r="3.5" fill="#5e4fa2"/>
<circle cx="184.70" cy="174.66" r="3.5" fill="#5e4fa2"/>
<circle cx="323.07" cy="102.31" r="3.5" fill="#9e0142"/>
<circle cx="215.47" cy="149.05" r="3.5" fill="#5e4fa2"/>
<circle cx="230.47" cy="138.79" r="3.5" fill="#5e4fa2"/>
<circle cx="252.74" cy="126.32" r="3.5" fill="#5e4fa2"/>
<circle cx="217.80" cy="147.66" r="3.5" fill="#5e4fa2"/>
<circle cx="360.90" cy="103.40" r="3.5" fill="#9e0142"/>
<circle cx="351.67" cy="98.59" r="3.5" fill="#9e0142"/>
<circle cx="300.22" cy="108.21" r="3.5" fill="#9e0142"/>
<circle cx="310.54" cy="104.15" r="3.5" fill="#9e0142"/>
<circle cx="351.03" cy="100.45" r="3.5" fill="#9e0142"/>
<circle cx="312.87" cy="131.87" r="3.5" fill="#9e0142"/>
<circle cx="366.85" cy="108.23" r="3.5" fill="#9e0142"/>
<circle cx="298.54" cy="108.28" r="3.5" fill="#9e0142"/>
<circle cx="372.04" cy="108.37" r="3.5" fill="#9e0142"/>
<circle cx="339.41" cy="100.88" r="3.5" fill="#9e0142"/>
<circle cx="337.25" cy="101.63" r="3.5" fill="#9e0142"/>
<circle cx="260.53" cy="141.38" r="3.5" fill="#5e4fa2"/>
<circle cx="341.89" cy="98.63" r="3.5" fill="#9e0142"/>
<circle cx="335.22" cy="101.50" r="3.5" fill="#9e0142"/>
<circle cx="219.81" cy="145.93" r="3.5" fill="#5e4fa2"/>
<circle cx="277.12" cy="115.36" r="3.5" fill="#9e0142"/>
<circle cx="349.44" cy="119.23" r="3.5" fill="#9e0142"/>
<circle cx="339.79" cy="101.76" r="3.5" fill="#9e0142"/>
<circle cx="336.15" cy="125.30" r="3.5" fill="#9e0142"/>
<circle cx="332.75" cy="99.21" r="3.5" fill="#9e0142"/>
<circle cx="358.28" cy="98.84" r="3.5" fill="#9e0142"/>
<circle cx="290.40" cy="136.23" r="3.5" fill="#9e0142"/>
<circle cx="199.97" cy="142.93" r="3.5" fill="#5e4fa2"/>
<circle cx="311.65" cy="134.89" r="3.5" fill="#9e0142"/>
<circle cx="223.19" cy="143.20" r="3.5" fill="#5e4fa2"/>
<circle cx="155.91" cy="138.09" r="3.5" fill="#5e4fa2"/>
<circle cx="221.09" cy="143.21" r="3.5" fill="#5e4fa2"/>
<circle cx="358.83" cy="107.24" r="3.5" fill="#9e0142"/>
<circle cx="334.47" cy="128.09" r="3.5" fill="#9e0142"/>
<circle cx="248.31" cy="142.55" r="3.5" fill="#5e4fa2"/>
<circle cx="341.84" cy="124.57" r="3.5" fill="#9e0142"/>
<circle cx="248.46" cy="142.48" r="3.5" fill="#5e4fa2"/>
<circle cx="356.75" cy="102.15" r="3.5" fill="#9e0142"/>
<circle cx="349.07" cy="120.25" r="3.5" fill="#9e0142"/>
<circle cx="205.55" cy="142.97" r="3.5" fill="#5e4fa2"/>
<circle cx="327.40" cy="103.83" r="3.5" fill="#9e0142"/>
<circle cx="358.44" cy="117.69" r="3.5" fill="#9e0142"/>
<circle cx="252.74" cy="142.36" r="3.5" fill="#5e4fa2"/>
<circle cx="365.36" cy="106.83" r="3.5" fill="#9e0142"/>
<circle cx="213.39" cy="143.18" r="3.5" fill="#5e4fa2"/>
<circle cx="307.56" cy="134.60" r="3.5" fill="#9e0142"/>
<circle cx="234.17" cy="142.95" r="3.5" fill="#5e4fa2"/>
<circle cx="235.35" cy="143.10" r="3.5" fill="#5e4fa2"/>
<circle cx="171.32" cy="139.98" r="3.5" fill="#5e4fa2"/>
<circle cx="258.94" cy="142.19" r="3.5" fill="#5e4fa2"/>
<circle cx="155.91" cy="138.52" r="3.5" fill="#5e4fa2"/>
<circle cx="237.85" cy="143.02" r="3.5" fill="#5e4fa2"/>
<circle cx="121.64" cy="127.43" r="3.5" fill="#5e4fa2"/>
<circle cx="103.47" cy="102.39" r="3.5" fill="#5e4fa2"/>
<circle cx="142.38" cy="132.92" r="3.5" fill="#5e4fa2"/>
<circle cx="121.97" cy="129.62" r="3.5" fill="#5e4fa2"/>
<circle cx="254.14" cy="142.12" r="3.5" fill="#5e4fa2"/>
<circle cx="87.22" cy="111.67" r="3.5" fill="#5e4fa2"/>
<circle cx="178.68" cy="141.42" r="3.5" fill="#5e4fa2"/>
<circle cx="188.72" cy="141.69" r="3.5" fill="#5e4fa2"/>
<circle cx="82.48" cy="108.47" r="3.5" fill="#5e4fa2"/>
<circle cx="92.20" cy="116.68" r="3.5" fill="#5e4fa2"/>
<circle cx="106.71" cy="101.12" r="3.5" fill="#5e4fa2"/>
<circle cx="145.89" cy="109.37" r="3.5" fill="#5e4fa2"/>
<circle cx="115.24" cy="128.79" r="3.5" fill="#5e4fa2"/>
<circle cx="91.84" cy="111.51" r="3.5" fill="#5e4fa2"/>
<circle cx="180.81" cy="119.64" r="3.5" fill="#5e4fa2"/>
<circle cx="129.04" cy="104.93" r="3.5" fill="#5e4fa2"/>
<circle cx="107.96" cy="100.04" r="3.5" fill="#5e4fa2"/>
<circle cx="160.55" cy="111.54" r="3.5" fill="#5e4fa2"/>
<circle cx="97.31" cy="119.17" r="3.5" fill="#5e4fa2"/>
<circle cx="120.79" cy="101.91" r="3.5" fill="#5e4fa2"/>
<circle cx="185.91" cy="121.40" r="3.5" fill="#5e4fa2"/>
<circle cx="212.29" cy="135.73" r="3.5" fill="#5e4fa2"/>
<circle cx="88.23" cy="115.25" r="3.5" fill="#5e4fa2"/>
<circle cx="69.52" cy="96.47" r="3.5" fill="#5e4fa2"/>
<circle cx="133.68" cy="104.77" r="3.5" fill="#5e4fa2"/>
<circle cx="97.96" cy="102.64" r="3.5" fill="#5e4fa2"/>
<circle cx="101.30" cy="104.21" r="3.5" fill="#5e4fa2"/>
<circle cx="173.22" cy="116.12" r="3.5" fill="#5e4fa2"/>
<circle cx="107.35" cy="102.34" r="3.5" fill="#5e4fa2"/>
<circle cx="135.14" cy="130.39" r="3.5" fill="#5e4fa2"/>
<circle cx="174.89" cy="117.94" r="3.5" fill="#5e4fa2"/>
<circle cx="111.62" cy="100.65" r="3.5" fill="#5e4fa2"/>
<circle cx="93.22" cy="98.81" r="3.5" fill="#5e4fa2"/>
<circle cx="101.30" cy="116.09" r="3.5" fill="#5e4fa2"/>
<circle cx="252.36" cy="164.90" r="3.5" fill="#5e4fa2"/>
<circle cx="114.65" cy="126.95" r="3.5" fill="#5e4fa2"/>
<circle cx="93.69" cy="112.44" r="3.5" fill="#5e4fa2"/>
<circle cx="156.81" cy="109.86" r="3.5" fill="#5e4fa2"/>
<circle cx="277.56" cy="194.05" r="3.5" fill="#5e4fa2"/>
<circle cx="281.28" cy="201.43" r="3.5" fill="#5e4fa2"/>
<circle cx="115.19" cy="102.48" r="3.5" fill="#5e4fa2"/>
<circle cx="188.65" cy="122.48" r="3.5" fill="#5e4fa2"/>
<circle cx="100.04" cy="101.02" r="3.5" fill="#5e4fa2"/>
<circle cx="277.78" cy="198.24" r="3.5" fill="#5e4fa2"/>
<circle cx="112.89" cy="101.77" r="3.5" fill="#5e4fa2"/>
<circle cx="224.14" cy="143.39" r="3.5" fill="#5e4fa2"/>
<circle cx="289.72" cy="218.64" r="3.5" fill="#5e4fa2"/>
<circle cx="238.19" cy="153.20" r="3.5" fill="#5e4fa2"/>
<circle cx="283.91" cy="235.78" r="3.5" fill="#5e4fa2"/>
<circle cx="191.46" cy="124.63" r="3.5" fill="#5e4fa2"/>
<circle cx="281.22" cy="199.44" r="3.5" fill="#5e4fa2"/>
<circle cx="282.32" cy="217.23" r="3.5" fill="#5e4fa2"/>
<circle cx="270.45" cy="182.60" r="3.5" fill="#5e4fa2"/>
<circle cx="275.42" cy="238.40" r="3.5" fill="#5e4fa2"/>
<circle cx="281.80" cy="214.15" r="3.5" fill="#5e4fa2"/>
<circle cx="160.77" cy="111.18" r="3.5" fill="#5e4fa2"/>
<circle cx="244.70" cy="79.81" r="3.5" fill="#9e0142"/>
<circle cx="282.84" cy="228.62" r="3.5" fill="#5e4fa2"/>
<circle cx="286.47" cy="215.42" r="3.5" fill="#5e4fa2"/>
<circle cx="225.24" cy="144.08" r="3.5" fill="#5e4fa2"/>
<circle cx="289.04" cy="223.17" r="3.5" fill="#5e4fa2"/>
<circle cx="281.40" cy="200.43" r="3.5" fill="#5e4fa2"/>
<circle cx="272.09" cy="230.27" r="3.5" fill="#5e4fa2"/>
<circle cx="277.21" cy="229.06" r="3.5" fill="#5e4fa2"/>
<circle cx="227.51" cy="173.41" r="3.5" fill="#5e4fa2"/>
<circle cx="278.76" cy="228.05" r="3.5" fill="#5e4fa2"/>
<circle cx="267.76" cy="232.36" r="3.5" fill="#5e4fa2"/>
<circle cx="271.78" cy="236.54" r="3.5" fill="#5e4fa2"/>
<circle cx="285.81" cy="236.10" r="3.5" fill="#5e4fa2"/>
<circle cx="280.46" cy="230.10" r="3.5" fill="#5e4fa2"/>
<circle cx="236.18" cy="202.88" r="3.5" fill="#5e4fa2"/>
<circle cx="241.14" cy="204.64" r="3.5" fill="#5e4fa2"/>
<circle cx="289.57" cy="233.47" r="3.5" fill="#5e4fa2"/>
<circle cx="288.28" cy="215.99" r="3.5" fill="#5e4fa2"/>
<circle cx="264.56" cy="228.50" r="3.5" fill="#5e4fa2"/>
<circle cx="224.69" cy="155.13" r="3.5" fill="#5e4fa2"/>
<circle cx="261.75" cy="234.99" r="3.5" fill="#5e4fa2"/>
<circle cx="229.21" cy="108.50" r="3.5" fill="#5e4fa2"/>
<circle cx="278.94" cy="233.33" r="3.5" fill="#5e4fa2"/>
<circle cx="243.27" cy="211.35" r="3.5" fill="#5e4fa2"/>
<circle cx="250.37" cy="164.02" r="3.5" fill="#5e4fa2"/>
<circle cx="269.46" cy="240.16" r="3.5" fill="#5e4fa2"/>
<circle cx="249.93" cy="217.16" r="3.5" fill="#5e4fa2"/>
<circle cx="225.20" cy="160.77" r="3.5" fill="#5e4fa2"/>
<circle cx="245.73" cy="73.15" r="3.5" fill="#9e0142"/>
<circle cx="230.35" cy="180.75" r="3.5" fill="#5e4fa2"/>
<circle cx="240.36" cy="84.46" r="3.5" fill="#9e0142"/>
<circle cx="225.24" cy="121.45" r="3.5" fill="#5e4fa2"/>
<circle cx="231.69" cy="100.95" r="3.5" fill="#5e4fa2"/>
<circle cx="235.75" cy="194.83" r="3.5" fill="#5e4fa2"/>
<circle cx="250.64" cy="68.35" r="3.5" fill="#9e0142"/>
</g>
<rect x="54.5" y="35.5" width="335.0" height="217.0" fill="none" stroke="#000" stroke-width="0.8"/>
<g stroke="#000" stroke-width="0.8">
<line x1="77.5" y1="252.5" x2="77.5" y2="256.6"/>
<line x1="151.5" y1="252.5" x2="151.5" y2="256.6"/>
<line x1="224.5" y1="252.5" x2="224.5" y2="256.6"/>
<line x1="297.5" y1="252.5" x2="297.5" y2="256.6"/>
<line x1="370.5" y1="252.5" x2="370.5" y2="256.6"/>
<line x1="54.5" y1="241.5" x2="51.2" y2="241.5"/>
<line x1="54.5" y1="217.5" x2="51.2" y2="217.5"/>
<line x1="54.5" y1="192.5" x2="51.2" y2="192.5"/>
<line x1="54.5" y1="168.5" x2="51.2" y2="168.5"/>
<line x1="54.5" y1="143.5" x2="51.2" y2="143.5"/>
<line x1="54.5" y1="119.5" x2="51.2" y2="119.5"/>
<line x1="54.5" y1="95.5" x2="51.2" y2="95.5"/>
<line x1="54.5" y1="70.5" x2="51.2" y2="70.5"/>
<line x1="54.5" y1="46.5" x2="51.2" y2="46.5"/>
</g>
<g class="tk">
<text class="mn" x="70.40" y="266.00">−</text><text x="77.30" y="267.00">4</text>
<text class="mn" x="143.40" y="266.00">−</text><text x="150.30" y="267.00">2</text>
<text x="220.82" y="267.00">0</text>
<text x="295.00" y="267.00">2</text>
<text x="367.96" y="267.00">4</text>
<text class="mn" x="32.35" y="244.00">−</text><text x="39.25" y="245.00">4</text>
<text class="mn" x="32.35" y="220.00">−</text><text x="39.25" y="221.00">3</text>
<text class="mn" x="32.35" y="195.00">−</text><text x="39.25" y="196.00">2</text>
<text class="mn" x="32.35" y="171.00">−</text><text x="39.25" y="172.00">1</text>
<text x="41.14" y="147.00">0</text>
<text x="41.14" y="123.00">1</text>
<text x="41.14" y="99.00">2</text>
<text x="41.14" y="74.00">3</text>
<text x="41.14" y="50.00">4</text>
<text class="tt" x="175 179 182 189 199 206 211 217 224 231 238 243 250 258" y="28.8">flower_average</text>
</g>
</g>
<g transform="translate(0,576)">
<g>
<circle cx="268.00" cy="55.96" r="3.5" fill="#9e0142"/>
<circle cx="229.68" cy="179.36" r="3.5" fill="#9e0142"/>
<circle cx="227.35" cy="174.42" r="3.5" fill="#9e0142"/>
<circle cx="236.66" cy="193.56" r="3.5" fill="#5e4fa2"/>
<circle cx="249.30" cy="72.72" r="3.5" fill="#9e0142"/>
<circle cx="283.25" cy="241.63" r="3.5" fill="#5e4fa2"/>
<circle cx="280.24" cy="64.10" r="3.5" fill="#9e0142"/>
<circle cx="225.19" cy="164.03" r="3.5" fill="#9e0142"/>
<circle cx="241.25" cy="82.75" r="3.5" fill="#9e0142"/>
<circle cx="229.93" cy="99.02" r="3.5" fill="#9e0142"/>
<circle cx="284.85" cy="58.97" r="3.5" fill="#9e0142"/>
<circle cx="254.65" cy="227.12" r="3.5" fill="#5e4fa2"/>
<circle cx="233.45" cy="91.84" r="3.5" fill="#9e0142"/>
<circle cx="232.35" cy="98.95" r="3.5" fill="#9e0142"/>
<circle cx="281.76" cy="62.63" r="3.5" fill="#9e0142"/>
<circle cx="224.09" cy="133.00" r="3.5" fill="#9e0142"/>
<circle cx="248.80" cy="67.67" r="3.5" fill="#9e0142"/>
<circle cx="228.31" cy="110.73" r="3.5" fill="#9e0142"/>
<circle cx="265.37" cy="50.82" r="3.5" fill="#9e0142"/>
<circle cx="283.04" cy="53.65" r="3.5" fill="#9e0142"/>
<circle cx="229.96" cy="99.87" r="3.5" fill="#9e0142"/>
<circle cx="287.05" cy="75.84" r="3.5" fill="#9e0142"/>
<circle cx="293.00" cy="63.79" r="3.5" fill="#9e0142"/>
<circle cx="287.01" cy="58.59" r="3.5" fill="#9e0142"/>
<circle cx="280.53" cy="82.55" r="3.5" fill="#9e0142"/>
<circle cx="259.94" cy="51.14" r="3.5" fill="#9e0142"/>
<circle cx="277.11" cy="55.23" r="3.5" fill="#9e0142"/>
<circle cx="251.31" cy="67.27" r="3.5" fill="#9e0142"/>
<circle cx="277.01" cy="55.99" r="3.5" fill="#9e0142"/>
<circle cx="284.06" cy="79.38" r="3.5" fill="#9e0142"/>
<circle cx="270.82" cy="52.54" r="3.5" fill="#9e0142"/>
<circle cx="282.33" cy="52.82" r="3.5" fill="#9e0142"/>
<circle cx="277.47" cy="49.60" r="3.5" fill="#9e0142"/>
<circle cx="277.59" cy="44.71" r="3.5" fill="#9e0142"/>
<circle cx="280.42" cy="53.85" r="3.5" fill="#9e0142"/>
<circle cx="281.40" cy="80.19" r="3.5" fill="#9e0142"/>
<circle cx="268.93" cy="58.64" r="3.5" fill="#9e0142"/>
<circle cx="271.92" cy="99.04" r="3.5" fill="#5e4fa2"/>
<circle cx="150.80" cy="179.64" r="3.5" fill="#9e0142"/>
<circle cx="238.32" cy="133.07" r="3.5" fill="#9e0142"/>
<circle cx="279.45" cy="87.78" r="3.5" fill="#5e4fa2"/>
<circle cx="285.85" cy="61.00" r="3.5" fill="#9e0142"/>
<circle cx="287.69" cy="67.07" r="3.5" fill="#9e0142"/>
<circle cx="117.09" cy="187.58" r="3.5" fill="#9e0142"/>
<circle cx="251.42" cy="121.42" r="3.5" fill="#9e0142"/>
<circle cx="285.62" cy="80.19" r="3.5" fill="#9e0142"/>
<circle cx="237.46" cy="133.66" r="3.5" fill="#9e0142"/>
<circle cx="87.17" cy="183.17" r="3.5" fill="#9e0142"/>
<circle cx="236.78" cy="134.45" r="3.5" fill="#9e0142"/>
<circle cx="169.37" cy="172.48" r="3.5" fill="#9e0142"/>
<circle cx="196.55" cy="159.37" r="3.5" fill="#9e0142"/>
<circle cx="244.52" cy="127.81" r="3.5" fill="#9e0142"/>
<circle cx="270.43" cy="96.57" r="3.5" fill="#5e4fa2"/>
<circle cx="243.47" cy="129.50" r="3.5" fill="#9e0142"/>
<circle cx="217.58" cy="147.22" r="3.5" fill="#9e0142"/>
<circle cx="132.18" cy="184.17" r="3.5" fill="#9e0142"/>
<circle cx="127.39" cy="180.40" r="3.5" fill="#9e0142"/>
<circle cx="108.23" cy="184.35" r="3.5" fill="#9e0142"/>
<circle cx="146.53" cy="178.75" r="3.5" fill="#9e0142"/>
<circle cx="95.13" cy="186.60" r="3.5" fill="#9e0142"/>
<circle cx="222.57" cy="144.05" r="3.5" fill="#9e0142"/>
<circle cx="77.34" cy="180.34" r="3.5" fill="#9e0142"/>
<circle cx="110.96" cy="183.88" r="3.5" fill="#9e0142"/>
<circle cx="158.26" cy="175.90" r="3.5" fill="#9e0142"/>
<circle cx="100.18" cy="184.99" r="3.5" fill="#9e0142"/>
<circle cx="136.44" cy="180.24" r="3.5" fill="#9e0142"/>
<circle cx="93.87" cy="170.89" r="3.5" fill="#9e0142"/>
<circle cx="116.73" cy="158.88" r="3.5" fill="#9e0142"/>
<circle cx="186.85" cy="144.87" r="3.5" fill="#9e0142"/>
<circle cx="212.79" cy="150.32" r="3.5" fill="#9e0142"/>
<circle cx="218.44" cy="146.64" r="3.5" fill="#9e0142"/>
<circle cx="135.51" cy="179.95" r="3.5" fill="#9e0142"/>
<circle cx="94.85" cy="180.52" r="3.5" fill="#9e0142"/>
<circle cx="110.35" cy="162.58" r="3.5" fill="#9e0142"/>
<circle cx="82.25" cy="177.34" r="3.5" fill="#9e0142"/>
<circle cx="225.13" cy="142.33" r="3.5" fill="#9e0142"/>
<circle cx="84.14" cy="187.04" r="3.5" fill="#9e0142"/>
<circle cx="130.44" cy="155.67" r="3.5" fill="#9e0142"/>
<circle cx="91.27" cy="170.68" r="3.5" fill="#9e0142"/>
<circle cx="138.95" cy="153.47" r="3.5" fill="#9e0142"/>
<circle cx="82.47" cy="178.73" r="3.5" fill="#9e0142"/>
<circle cx="85.65" cy="175.85" r="3.5" fill="#9e0142"/>
<circle cx="105.63" cy="163.12" r="3.5" fill="#9e0142"/>
<circle cx="132.34" cy="154.76" r="3.5" fill="#9e0142"/>
<circle cx="116.07" cy="158.81" r="3.5" fill="#9e0142"/>
<circle cx="117.08" cy="158.67" r="3.5" fill="#9e0142"/>
<circle cx="88.05" cy="176.88" r="3.5" fill="#9e0142"/>
<circle cx="152.31" cy="149.49" r="3.5" fill="#9e0142"/>
<circle cx="126.38" cy="154.12" r="3.5" fill="#9e0142"/>
<circle cx="253.81" cy="144.21" r="3.5" fill="#9e0142"/>
<circle cx="268.48" cy="145.58" r="3.5" fill="#9e0142"/>
<circle cx="162.94" cy="147.56" r="3.5" fill="#9e0142"/>
<circle cx="123.05" cy="157.04" r="3.5" fill="#9e0142"/>
<circle cx="102.25" cy="163.05" r="3.5" fill="#9e0142"/>
<circle cx="216.02" cy="143.26" r="3.5" fill="#9e0142"/>
<circle cx="183.59" cy="144.97" r="3.5" fill="#9e0142"/>
<circle cx="152.49" cy="149.63" r="3.5" fill="#9e0142"/>
<circle cx="205.54" cy="143.70" r="3.5" fill="#9e0142"/>
<circle cx="131.29" cy="153.04" r="3.5" fill="#9e0142"/>
<circle cx="295.81" cy="149.02" r="3.5" fill="#5e4fa2"/>
<circle cx="186.22" cy="145.52" r="3.5" fill="#9e0142"/>
<circle cx="334.98" cy="162.69" r="3.5" fill="#5e4fa2"/>
<circle cx="279.40" cy="147.25" r="3.5" fill="#5e4fa2"/>
<circle cx="305.16" cy="152.09" r="3.5" fill="#5e4fa2"/>
<circle cx="135.77" cy="152.62" r="3.5" fill="#9e0142"/>
<circle cx="297.38" cy="148.57" r="3.5" fill="#5e4fa2"/>
<circle cx="340.36" cy="162.11" r="3.5" fill="#5e4fa2"/>
<circle cx="170.66" cy="146.18" r="3.5" fill="#9e0142"/>
<circle cx="268.38" cy="145.26" r="3.5" fill="#9e0142"/>
<circle cx="298.84" cy="150.47" r="3.5" fill="#5e4fa2"/>
<circle cx="164.43" cy="148.00" r="3.5" fill="#9e0142"/>
<circle cx="340.39" cy="161.57" r="3.5" fill="#5e4fa2"/>
<circle cx="369.26" cy="179.02" r="3.5" fill="#5e4fa2"/>
<circle cx="235.95" cy="143.43" r="3.5" fill="#9e0142"/>
<circle cx="373.30" cy="172.52" r="3.5" fill="#5e4fa2"/>
<circle cx="212.22" cy="143.43" r="3.5" fill="#9e0142"/>
<circle cx="345.20" cy="162.98" r="3.5" fill="#5e4fa2"/>
<circle cx="188.95" cy="144.59" r="3.5" fill="#9e0142"/>
<circle cx="335.17" cy="184.02" r="3.5" fill="#5e4fa2"/>
<circle cx="353.97" cy="177.46" r="3.5" fill="#5e4fa2"/>
<circle cx="354.31" cy="170.60" r="3.5" fill="#5e4fa2"/>
<circle cx="309.48" cy="153.06" r="3.5" fill="#5e4fa2"/>
<circle cx="308.64" cy="181.54" r="3.5" fill="#5e4fa2"/>
<circle cx="234.10" cy="149.57" r="3.5" fill="#9e0142"/>
<circle cx="229.42" cy="143.21" r="3.5" fill="#9e0142"/>
<circle cx="295.74" cy="178.55" r="3.5" fill="#5e4fa2"/>
<circle cx="243.92" cy="155.15" r="3.5" fill="#9e0142"/>
<circle cx="351.76" cy="188.39" r="3.5" fill="#5e4fa2"/>
<circle cx="323.74" cy="156.41" r="3.5" fill="#5e4fa2"/>
<circle cx="302.13" cy="180.75" r="3.5" fill="#5e4fa2"/>
<circle cx="358.36" cy="184.39" r="3.5" fill="#5e4fa2"/>
<circle cx="367.60" cy="179.47" r="3.5" fill="#5e4fa2"/>
<circle cx="337.04" cy="162.66" r="3.5" fill="#5e4fa2"/>
<circle cx="294.56" cy="177.13" r="3.5" fill="#5e4fa2"/>
<circle cx="274.78" cy="171.10" r="3.5" fill="#5e4fa2"/>
<circle cx="352.64" cy="181.59" r="3.5" fill="#5e4fa2"/>
<circle cx="265.28" cy="164.85" r="3.5" fill="#5e4fa2"/>
<circle cx="346.08" cy="172.74" r="3.5" fill="#5e4fa2"/>
<circle cx="224.20" cy="143.41" r="3.5" fill="#9e0142"/>
<circle cx="285.46" cy="172.34" r="3.5" fill="#5e4fa2"/>
<circle cx="308.40" cy="180.63" r="3.5" fill="#5e4fa2"/>
<circle cx="304.99" cy="181.72" r="3.5" fill="#5e4fa2"/>
<circle cx="204.37" cy="129.03" r="3.5" fill="#9e0142"/>
<circle cx="211.19" cy="134.13" r="3.5" fill="#9e0142"/>
<circle cx="220.25" cy="140.76" r="3.5" fill="#9e0142"/>
<circle cx="247.86" cy="157.50" r="3.5" fill="#9e0142"/>
<circle cx="245.25" cy="156.04" r="3.5" fill="#9e0142"/>
<circle cx="195.71" cy="121.54" r="3.5" fill="#9e0142"/>
<circle cx="221.83" cy="141.82" r="3.5" fill="#9e0142"/>
<circle cx="177.70" cy="104.34" r="3.5" fill="#9e0142"/>
<circle cx="258.41" cy="163.33" r="3.5" fill="#5e4fa2"/>
<circle cx="362.26" cy="172.68" r="3.5" fill="#5e4fa2"/>
<circle cx="161.23" cy="75.30" r="3.5" fill="#9e0142"/>
<circle cx="184.22" cy="59.50" r="3.5" fill="#9e0142"/>
<circle cx="172.45" cy="97.12" r="3.5" fill="#9e0142"/>
<circle cx="200.27" cy="125.71" r="3.5" fill="#9e0142"/>
<circle cx="200.68" cy="125.71" r="3.5" fill="#9e0142"/>
<circle cx="192.58" cy="118.67" r="3.5" fill="#9e0142"/>
<circle cx="178.87" cy="104.68" r="3.5" fill="#9e0142"/>
<circle cx="258.70" cy="162.64" r="3.5" fill="#5e4fa2"/>
<circle cx="201.97" cy="127.13" r="3.5" fill="#9e0142"/>
<circle cx="242.25" cy="154.70" r="3.5" fill="#9e0142"/>
<circle cx="154.61" cy="68.33" r="3.5" fill="#9e0142"/>
<circle cx="178.57" cy="103.15" r="3.5" fill="#9e0142"/>
<circle cx="159.78" cy="59.49" r="3.5" fill="#9e0142"/>
<circle cx="169.32" cy="88.93" r="3.5" fill="#9e0142"/>
<circle cx="177.03" cy="55.54" r="3.5" fill="#9e0142"/>
<circle cx="150.81" cy="49.93" r="3.5" fill="#9e0142"/>
<circle cx="221.37" cy="119.34" r="3.5" fill="#9e0142"/>
<circle cx="263.42" cy="165.37" r="3.5" fill="#5e4fa2"/>
<circle cx="168.99" cy="90.45" r="3.5" fill="#9e0142"/>
<circle cx="186.39" cy="56.55" r="3.5" fill="#9e0142"/>
<circle cx="221.34" cy="170.79" r="3.5" fill="#9e0142"/>
<circle cx="158.90" cy="59.92" r="3.5" fill="#9e0142"/>
<circle cx="171.49" cy="61.84" r="3.5" fill="#9e0142"/>
<circle cx="164.06" cy="59.32" r="3.5" fill="#9e0142"/>
<circle cx="218.09" cy="110.22" r="3.5" fill="#9e0142"/>
<circle cx="161.66" cy="51.47" r="3.5" fill="#9e0142"/>
<circle cx="197.45" cy="62.63" r="3.5" fill="#9e0142"/>
<circle cx="168.95" cy="56.54" r="3.5" fill="#9e0142"/>
<circle cx="167.69" cy="85.37" r="3.5" fill="#9e0142"/>
<circle cx="195.16" cy="65.51" r="3.5" fill="#9e0142"/>
<circle cx="203.14" cy="70.48" r="3.5" fill="#9e0142"/>
<circle cx="223.70" cy="135.63" r="3.5" fill="#9e0142"/>
<circle cx="188.87" cy="61.85" r="3.5" fill="#9e0142"/>
<circle cx="171.45" cy="51.77" r="3.5" fill="#9e0142"/>
<circle cx="216.56" cy="100.34" r="3.5" fill="#9e0142"/>
<circle cx="209.45" cy="84.35" r="3.5" fill="#9e0142"/>
<circle cx="212.36" cy="88.03" r="3.5" fill="#9e0142"/>
<circle cx="203.50" cy="73.85" r="3.5" fill="#9e0142"/>
<circle cx="221.80" cy="162.92" r="3.5" fill="#9e0142"/>
<circle cx="221.72" cy="123.74" r="3.5" fill="#9e0142"/>
<circle cx="194.29" cy="220.43" r="3.5" fill="#9e0142"/>
<circle cx="217.04" cy="185.63" r="3.5" fill="#9e0142"/>
<circle cx="223.51" cy="150.60" r="3.5" fill="#9e0142"/>
<circle cx="167.92" cy="57.47" r="3.5" fill="#9e0142"/>
<circle cx="223.01" cy="154.13" r="3.5" fill="#9e0142"/>
<circle cx="223.08" cy="159.79" r="3.5" fill="#9e0142"/>
<circle cx="215.14" cy="189.42" r="3.5" fill="#9e0142"/>
<circle cx="202.39" cy="218.61" r="3.5" fill="#9e0142"/>
<circle cx="184.63" cy="53.37" r="3.5" fill="#9e0142"/>
<circle cx="223.77" cy="149.27" r="3.5" fill="#9e0142"/>
<circle cx="220.46" cy="170.34" r="3.5" fill="#9e0142"/>
<circle cx="190.00" cy="224.01" r="3.5" fill="#9e0142"/>
<circle cx="222.29" cy="119.22" r="3.5" fill="#9e0142"/>
<circle cx="220.97" cy="169.11" r="3.5" fill="#9e0142"/>
<circle cx="174.22" cy="54.33" r="3.5" fill="#9e0142"/>
<circle cx="220.33" cy="113.05" r="3.5" fill="#9e0142"/>
<circle cx="205.94" cy="203.85" r="3.5" fill="#5e4fa2"/>
<circle cx="172.40" cy="239.93" r="3.5" fill="#9e0142"/>
<circle cx="220.08" cy="175.01" r="3.5" fill="#9e0142"/>
<circle cx="159.06" cy="211.67" r="3.5" fill="#9e0142"/>
<circle cx="157.37" cy="220.75" r="3.5" fill="#9e0142"/>
<circle cx="209.08" cy="200.50" r="3.5" fill="#5e4fa2"/>
<circle cx="182.45" cy="49.04" r="3.5" fill="#9e0142"/>
<circle cx="211.76" cy="86.84" r="3.5" fill="#9e0142"/>
<circle cx="220.06" cy="177.43" r="3.5" fill="#9e0142"/>
<circle cx="164.19" cy="221.76" r="3.5" fill="#9e0142"/>
<circle cx="177.30" cy="235.91" r="3.5" fill="#9e0142"/>
<circle cx="211.98" cy="88.10" r="3.5" fill="#9e0142"/>
<circle cx="193.39" cy="223.91" r="3.5" fill="#9e0142"/>
<circle cx="181.52" cy="181.83" r="3.5" fill="#9e0142"/>
<circle cx="191.56" cy="227.97" r="3.5" fill="#9e0142"/>
<circle cx="205.02" cy="208.76" r="3.5" fill="#5e4fa2"/>
<circle cx="211.33" cy="151.88" r="3.5" fill="#9e0142"/>
<circle cx="168.89" cy="234.54" r="3.5" fill="#9e0142"/>
<circle cx="183.72" cy="232.68" r="3.5" fill="#9e0142"/>
<circle cx="160.89" cy="225.36" r="3.5" fill="#9e0142"/>
<circle cx="162.13" cy="235.01" r="3.5" fill="#9e0142"/>
<circle cx="178.56" cy="226.51" r="3.5" fill="#9e0142"/>
<circle cx="194.30" cy="167.02" r="3.5" fill="#9e0142"/>
<circle cx="185.01" cy="174.69" r="3.5" fill="#9e0142"/>
<circle cx="177.89" cy="183.60" r="3.5" fill="#9e0142"/>
<circle cx="161.18" cy="224.29" r="3.5" fill="#9e0142"/>
<circle cx="207.21" cy="155.31" r="3.5" fill="#9e0142"/>
<circle cx="158.37" cy="219.84" r="3.5" fill="#9e0142"/>
<circle cx="177.49" cy="184.99" r="3.5" fill="#9e0142"/>
<circle cx="213.09" cy="150.66" r="3.5" fill="#9e0142"/>
<circle cx="209.03" cy="154.10" r="3.5" fill="#9e0142"/>
<circle cx="298.29" cy="107.60" r="3.5" fill="#5e4fa2"/>
<circle cx="186.28" cy="173.16" r="3.5" fill="#9e0142"/>
<circle cx="184.33" cy="233.22" r="3.5" fill="#9e0142"/>
<circle cx="169.36" cy="227.86" r="3.5" fill="#9e0142"/>
<circle cx="279.92" cy="114.94" r="3.5" fill="#5e4fa2"/>
<circle cx="172.60" cy="192.87" r="3.5" fill="#9e0142"/>
<circle cx="210.40" cy="152.60" r="3.5" fill="#9e0142"/>
<circle cx="167.65" cy="207.16" r="3.5" fill="#9e0142"/>
<circle cx="288.12" cy="110.32" r="3.5" fill="#5e4fa2"/>
<circle cx="181.39" cy="180.08" r="3.5" fill="#9e0142"/>
<circle cx="331.95" cy="100.80" r="3.5" fill="#5e4fa2"/>
<circle cx="173.23" cy="187.00" r="3.5" fill="#9e0142"/>
<circle cx="312.25" cy="105.56" r="3.5" fill="#5e4fa2"/>
<circle cx="278.21" cy="116.13" r="3.5" fill="#5e4fa2"/>
<circle cx="176.48" cy="183.43" r="3.5" fill="#9e0142"/>
<circle cx="334.83" cy="100.32" r="3.5" fill="#5e4fa2"/>
<circle cx="181.95" cy="179.12" r="3.5" fill="#9e0142"/>
<circle cx="184.70" cy="174.66" r="3.5" fill="#9e0142"/>
<circle cx="323.07" cy="102.31" r="3.5" fill="#5e4fa2"/>
<circle cx="215.47" cy="149.05" r="3.5" fill="#9e0142"/>
<circle cx="230.47" cy="138.79" r="3.5" fill="#9e0142"/>
<circle cx="252.74" cy="126.32" r="3.5" fill="#9e0142"/>
<circle cx="217.80" cy="147.66" r="3.5" fill="#9e0142"/>
<circle cx="360.90" cy="103.40" r="3.5" fill="#5e4fa2"/>
<circle cx="351.67" cy="98.59" r="3.5" fill="#5e4fa2"/>
<circle cx="300.22" cy="108.21" r="3.5" fill="#5e4fa2"/>
<circle cx="310.54" cy="104.15" r="3.5" fill="#5e4fa2"/>
<circle cx="351.03" cy="100.45" r="3.5" fill="#5e4fa2"/>
<circle cx="312.87" cy="131.87" r="3.5" fill="#5e4fa2"/>
<circle cx="366.85" cy="108.23" r="3.5" fill="#5e4fa2"/>
<circle cx="298.54" cy="108.28" r="3.5" fill="#5e4fa2"/>
<circle cx="372.04" cy="108.37" r="3.5" fill="#5e4fa2"/>
<circle cx="339.41" cy="100.88" r="3.5" fill="#5e4fa2"/>
<circle cx="337.25" cy="101.63" r="3.5" fill="#5e4fa2"/>
<circle cx="260.53" cy="141.38" r="3.5" fill="#9e0142"/>
<circle cx="341.89" cy="98.63" r="3.5" fill="#5e4fa2"/>
<circle cx="335.22" cy="101.50" r="3.5" fill="#5e4fa2"/>
<circle cx="219.81" cy="145.93" r="3.5" fill="#9e0142"/>
<circle cx="277.12" cy="115.36" r="3.5" fill="#5e4fa2"/>
<circle cx="349.44" cy="119.23" r="3.5" fill="#5e4fa2"/>
<circle cx="339.79" cy="101.76" r="3.5" fill="#5e4fa2"/>
<circle cx="336.15" cy="125.30" r="3.5" fill="#5e4fa2"/>
<circle cx="332.75" cy="99.21" r="3.5" fill="#5e4fa2"/>
<circle cx="358.28" cy="98.84" r="3.5" fill="#5e4fa2"/>
<circle cx="290.40" cy="136.23" r="3.5" fill="#5e4fa2"/>
<circle cx="199.97" cy="142.93" r="3.5" fill="#9e0142"/>
<circle cx="311.65" cy="134.89" r="3.5" fill="#5e4fa2"/>
<circle cx="223.19" cy="143.20" r="3.5" fill="#9e0142"/>
<circle cx="155.91" cy="138.09" r="3.5" fill="#9e0142"/>
<circle cx="221.09" cy="143.21" r="3.5" fill="#9e0142"/>
<circle cx="358.83" cy="107.24" r="3.5" fill="#5e4fa2"/>
<circle cx="334.47" cy="128.09" r="3.5" fill="#5e4fa2"/>
<circle cx="248.31" cy="142.55" r="3.5" fill="#9e0142"/>
<circle cx="341.84" cy="124.57" r="3.5" fill="#5e4fa2"/>
<circle cx="248.46" cy="142.48" r="3.5" fill="#9e0142"/>
<circle cx="356.75" cy="102.15" r="3.5" fill="#5e4fa2"/>
<circle cx="349.07" cy="120.25" r="3.5" fill="#5e4fa2"/>
<circle cx="205.55" cy="142.97" r="3.5" fill="#9e0142"/>
<circle cx="327.40" cy="103.83" r="3.5" fill="#5e4fa2"/>
<circle cx="358.44" cy="117.69" r="3.5" fill="#5e4fa2"/>
<circle cx="252.74" cy="142.36" r="3.5" fill="#9e0142"/>
<circle cx="365.36" cy="106.83" r="3.5" fill="#5e4fa2"/>
<circle cx="213.39" cy="143.18" r="3.5" fill="#9e0142"/>
<circle cx="307.56" cy="134.60" r="3.5" fill="#5e4fa2"/>
<circle cx="234.17" cy="142.95" r="3.5" fill="#9e0142"/>
<circle cx="235.35" cy="143.10" r="3.5" fill="#9e0142"/>
<circle cx="171.32" cy="139.98" r="3.5" fill="#9e0142"/>
<circle cx="258.94" cy="142.19" r="3.5" fill="#9e0142"/>
<circle cx="155.91" cy="138.52" r="3.5" fill="#9e0142"/>
<circle cx="237.85" cy="143.02" r="3.5" fill="#9e0142"/>
<circle cx="121.64" cy="127.43" r="3.5" fill="#9e0142"/>
<circle cx="103.47" cy="102.39" r="3.5" fill="#9e0142"/>
<circle cx="142.38" cy="132.92" r="3.5" fill="#9e0142"/>
<circle cx="121.97" cy="129.62" r="3.5" fill="#9e0142"/>
<circle cx="254.14" cy="142.12" r="3.5" fill="#9e0142"/>
<circle cx="87.22" cy="111.67" r="3.5" fill="#9e0142"/>
<circle cx="178.68" cy="141.42" r="3.5" fill="#9e0142"/>
<circle cx="188.72" cy="141.69" r="3.5" fill="#9e0142"/>
<circle cx="82.48" cy="108.47" r="3.5" fill="#9e0142"/>
<circle cx="92.20" cy="116.68" r="3.5" fill="#9e0142"/>
<circle cx="106.71" cy="101.12" r="3.5" fill="#9e0142"/>
<circle cx="145.89" cy="109.37" r="3.5" fill="#9e0142"/>
<circle cx="115.24" cy="128.79" r="3.5" fill="#9e0142"/>
<circle cx="91.84" cy="111.51" r="3.5" fill="#9e0142"/>
<circle cx="180.81" cy="119.64" r="3.5" fill="#9e0142"/>
<circle cx="129.04" cy="104.93" r="3.5" fill="#9e0142"/>
<circle cx="107.96" cy="100.04" r="3.5" fill="#9e0142"/>
<circle cx="160.55" cy="111.54" r="3.5" fill="#9e0142"/>
<circle cx="97.31" cy="119.17" r="3.5" fill="#9e0142"/>
<circle cx="120.79" cy="101.91" r="3.5" fill="#9e0142"/>
<circle cx="185.91" cy="121.40" r="3.5" fill="#9e0142"/>
<circle cx="212.29" cy="135.73" r="3.5" fill="#9e0142"/>
<circle cx="88.23" cy="115.25" r="3.5" fill="#9e0142"/>
<circle cx="69.52" cy="96.47" r="3.5" fill="#9e0142"/>
<circle cx="133.68" cy="104.77" r="3.5" fill="#9e0142"/>
<circle cx="97.96" cy="102.64" r="3.5" fill="#9e0142"/>
<circle cx="101.30" cy="104.21" r="3.5" fill="#9e0142"/>
<circle cx="173.22" cy="116.12" r="3.5" fill="#9e0142"/>
<circle cx="107.35" cy="102.34" r="3.5" fill="#9e0142"/>
<circle cx="135.14" cy="130.39" r="3.5" fill="#9e0142"/>
<circle cx="174.89" cy="117.94" r="3.5" fill="#9e0142"/>
<circle cx="111.62" cy="100.65" r="3.5" fill="#9e0142"/>
<circle cx="93.22" cy="98.81" r="3.5" fill="#9e0142"/>
<circle cx="101.30" cy="116.09" r="3.5" fill="#9e0142"/>
<circle cx="252.36" cy="164.90" r="3.5" fill="#5e4fa2"/>
<circle cx="114.65" cy="126.95" r="3.5" fill="#9e0142"/>
<circle cx="93.69" cy="112.44" r="3.5" fill="#9e0142"/>
<circle cx="156.81" cy="109.86" r="3.5" fill="#9e0142"/>
<circle cx="277.56" cy="194.05" r="3.5" fill="#5e4fa2"/>
<circle cx="281.28" cy="201.43" r="3.5" fill="#5e4fa2"/>
<circle cx="115.19" cy="102.48" r="3.5" fill="#9e0142"/>
<circle cx="188.65" cy="122.48" r="3.5" fill="#9e0142"/>
<circle cx="100.04" cy="101.02" r="3.5" fill="#9e0142"/>
<circle cx="277.78" cy="198.24" r="3.5" fill="#5e4fa2"/>
<circle cx="112.89" cy="101.77" r="3.5" fill="#9e0142"/>
<circle cx="224.14" cy="143.39" r="3.5" fill="#9e0142"/>
<circle cx="289.72" cy="218.64" r="3.5" fill="#5e4fa2"/>
<circle cx="238.19" cy="153.20" r="3.5" fill="#9e0142"/>
<circle cx="283.91" cy="235.78" r="3.5" fill="#5e4fa2"/>
<circle cx="191.46" cy="124.63" r="3.5" fill="#9e0142"/>
<circle cx="281.22" cy="199.44" r="3.5" fill="#5e4fa2"/>
<circle cx="282.32" cy="217.23" r="3.5" fill="#5e4fa2"/>
<circle cx="270.45" cy="182.60" r="3.5" fill="#5e4fa2"/>
<circle cx="275.42" cy="238.40" r="3.5" fill="#5e4fa2"/>
<circle cx="281.80" cy="214.15" r="3.5" fill="#5e4fa2"/>
<circle cx="160.77" cy="111.18" r="3.5" fill="#9e0142"/>
<circle cx="244.70" cy="79.81" r="3.5" fill="#9e0142"/>
<circle cx="282.84" cy="228.62" r="3.5" fill="#5e4fa2"/>
<circle cx="286.47" cy="215.42" r="3.5" fill="#5e4fa2"/>
<circle cx="225.24" cy="144.08" r="3.5" fill="#9e0142"/>
<circle cx="289.04" cy="223.17" r="3.5" fill="#5e4fa2"/>
<circle cx="281.40" cy="200.43" r="3.5" fill="#5e4fa2"/>
<circle cx="272.09" cy="230.27" r="3.5" fill="#5e4fa2"/>
<circle cx="277.21" cy="229.06" r="3.5" fill="#5e4fa2"/>
<circle cx="227.51" cy="173.41" r="3.5" fill="#9e0142"/>
<circle cx="278.76" cy="228.05" r="3.5" fill="#5e4fa2"/>
<circle cx="267.76" cy="232.36" r="3.5" fill="#5e4fa2"/>
<circle cx="271.78" cy="236.54" r="3.5" fill="#5e4fa2"/>
<circle cx="285.81" cy="236.10" r="3.5" fill="#5e4fa2"/>
<circle cx="280.46" cy="230.10" r="3.5" fill="#5e4fa2"/>
<circle cx="236.18" cy="202.88" r="3.5" fill="#5e4fa2"/>
<circle cx="241.14" cy="204.64" r="3.5" fill="#5e4fa2"/>
<circle cx="289.57" cy="233.47" r="3.5" fill="#5e4fa2"/>
<circle cx="288.28" cy="215.99" r="3.5" fill="#5e4fa2"/>
<circle cx="264.56" cy="228.50" r="3.5" fill="#5e4fa2"/>
<circle cx="224.69" cy="155.13" r="3.5" fill="#9e0142"/>
<circle cx="261.75" cy="234.99" r="3.5" fill="#5e4fa2"/>
<circle cx="229.21" cy="108.50" r="3.5" fill="#9e0142"/>
<circle cx="278.94" cy="233.33" r="3.5" fill="#5e4fa2"/>
<circle cx="243.27" cy="211.35" r="3.5" fill="#5e4fa2"/>
<circle cx="250.37" cy="164.02" r="3.5" fill="#5e4fa2"/>
<circle cx="269.46" cy="240.16" r="3.5" fill="#5e4fa2"/>
<circle cx="249.93" cy="217.16" r="3.5" fill="#5e4fa2"/>
<circle cx="225.20" cy="160.77" r="3.5" fill="#9e0142"/>
<circle cx="245.73" cy="73.15" r="3.5" fill="#9e0142"/>
<circle cx="230.35" cy="180.75" r="3.5" fill="#9e0142"/>
<circle cx="240.36" cy="84.46" r="3.5" fill="#9e0142"/>
<circle cx="225.24" cy="121.45" r="3.5" fill="#9e0142"/>
<circle cx="231.69" cy="100.95" r="3.5" fill="#9e0142"/>
<circle cx="235.75" cy="194.83" r="3.5" fill="#5e4fa2"/>
<circle cx="250.64" cy="68.35" r="3.5" fill="#9e0142"/>
</g>
<rect x="54.5" y="35.5" width="335.0" height="217.0" fill="none" stroke="#000" stroke-width="0.8"/>
<g stroke="#000" stroke-width="0.8">
<line x1="77.5" y1="252.5" x2="77.5" y2="256.6"/>
<line x1="151.5" y1="252.5" x2="151.5" y2="256.6"/>
<line x1="224.5" y1="252.5" x2="224.5" y2="256.6"/>
<line x1="297.5" y1="252.5" x2="297.5" y2="256.6"/>
<line x1="370.5" y1="252.5" x2="370.5" y2="256.6"/>
<line x1="54.5" y1="241.5" x2="51.2" y2="241.5"/>
<line x1="54.5" y1="217.5" x2="51.2" y2="217.5"/>
<line x1="54.5" y1="192.5" x2="51.2" y2="192.5"/>
<line x1="54.5" y1="168.5" x2="51.2" y2="168.5"/>
<line x1="54.5" y1="143.5" x2="51.2" y2="143.5"/>
<line x1="54.5" y1="119.5" x2="51.2" y2="119.5"/>
<line x1="54.5" y1="95.5" x2="51.2" y2="95.5"/>
<line x1="54.5" y1="70.5" x2="51.2" y2="70.5"/>
<line x1="54.5" y1="46.5" x2="51.2" y2="46.5"/>
</g>
<g class="tk">
<text class="mn" x="70.40" y="266.00">−</text><text x="77.30" y="267.00">4</text>
<text class="mn" x="143.40" y="266.00">−</text><text x="150.30" y="267.00">2</text>
<text x="220.82" y="267.00">0</text>
<text x="295.00" y="267.00">2</text>
<text x="367.96" y="267.00">4</text>
<text class="mn" x="32.35" y="244.00">−</text><text x="39.25" y="245.00">4</text>
<text class="mn" x="32.35" y="220.00">−</text><text x="39.25" y="221.00">3</text>
<text class="mn" x="32.35" y="195.00">−</text><text x="39.25" y="196.00">2</text>
<text class="mn" x="32.35" y="171.00">−</text><text x="39.25" y="172.00">1</text>
<text x="41.14" y="147.00">0</text>
<text x="41.14" y="123.00">1</text>
<text x="41.14" y="99.00">2</text>
<text x="41.14" y="74.00">3</text>
<text x="41.14" y="50.00">4</text>
<text class="tt" x="172 176 179 186 196 203 208 214 221 228 240 248 251 258 263" y="28.8">flower_complete</text>
</g>
</g>
<g transform="translate(432,576)">
<g>
<circle cx="268.00" cy="55.96" r="3.5" fill="#b41947"/>
<circle cx="229.68" cy="179.36" r="3.5" fill="#cb334d"/>
<circle cx="227.35" cy="174.42" r="3.5" fill="#cb334d"/>
<circle cx="236.66" cy="193.56" r="3.5" fill="#9e0142"/>
<circle cx="249.30" cy="72.72" r="3.5" fill="#dd4a4c"/>
<circle cx="283.25" cy="241.63" r="3.5" fill="#5e4fa2"/>
<circle cx="280.24" cy="64.10" r="3.5" fill="#b41947"/>
<circle cx="225.19" cy="164.03" r="3.5" fill="#cb334d"/>
<circle cx="241.25" cy="82.75" r="3.5" fill="#9e0142"/>
<circle cx="229.93" cy="99.02" r="3.5" fill="#e95c47"/>
<circle cx="284.85" cy="58.97" r="3.5" fill="#b41947"/>
<circle cx="254.65" cy="227.12" r="3.5" fill="#5e4fa2"/>
<circle cx="233.45" cy="91.84" r="3.5" fill="#e95c47"/>
<circle cx="232.35" cy="98.95" r="3.5" fill="#e95c47"/>
<circle cx="281.76" cy="62.63" r="3.5" fill="#b41947"/>
<circle cx="224.09" cy="133.00" r="3.5" fill="#cb334d"/>
<circle cx="248.80" cy="67.67" r="3.5" fill="#dd4a4c"/>
<circle cx="228.31" cy="110.73" r="3.5" fill="#bfe5a0"/>
<circle cx="265.37" cy="50.82" r="3.5" fill="#b41947"/>
<circle cx="283.04" cy="53.65" r="3.5" fill="#b41947"/>
<circle cx="229.96" cy="99.87" r="3.5" fill="#e95c47"/>
<circle cx="287.05" cy="75.84" r="3.5" fill="#f57245"/>
<circle cx="293.00" cy="63.79" r="3.5" fill="#b41947"/>
<circle cx="287.01" cy="58.59" r="3.5" fill="#b41947"/>
<circle cx="280.53" cy="82.55" r="3.5" fill="#f57245"/>
<circle cx="259.94" cy="51.14" r="3.5" fill="#b41947"/>
<circle cx="277.11" cy="55.23" r="3.5" fill="#b41947"/>
<circle cx="251.31" cy="67.27" r="3.5" fill="#dd4a4c"/>
<circle cx="277.01" cy="55.99" r="3.5" fill="#b41947"/>
<circle cx="284.06" cy="79.38" r="3.5" fill="#f57245"/>
<circle cx="270.82" cy="52.54" r="3.5" fill="#b41947"/>
<circle cx="282.33" cy="52.82" r="3.5" fill="#b41947"/>
<circle cx="277.47" cy="49.60" r="3.5" fill="#b41947"/>
<circle cx="277.59" cy="44.71" r="3.5" fill="#b41947"/>
<circle cx="280.42" cy="53.85" r="3.5" fill="#b41947"/>
<circle cx="281.40" cy="80.19" r="3.5" fill="#f57245"/>
<circle cx="268.93" cy="58.64" r="3.5" fill="#b41947"/>
<circle cx="271.92" cy="99.04" r="3.5" fill="#9e0142"/>
<circle cx="150.80" cy="179.64" r="3.5" fill="#9e0142"/>
<circle cx="238.32" cy="133.07" r="3.5" fill="#cb334d"/>
<circle cx="279.45" cy="87.78" r="3.5" fill="#f57245"/>
<circle cx="285.85" cy="61.00" r="3.5" fill="#b41947"/>
<circle cx="287.69" cy="67.07" r="3.5" fill="#b41947"/>
<circle cx="117.09" cy="187.58" r="3.5" fill="#9e0142"/>
<circle cx="251.42" cy="121.42" r="3.5" fill="#9e0142"/>
<circle cx="285.62" cy="80.19" r="3.5" fill="#f57245"/>
<circle cx="237.46" cy="133.66" r="3.5" fill="#cb334d"/>
<circle cx="87.17" cy="183.17" r="3.5" fill="#f98e52"/>
<circle cx="236.78" cy="134.45" r="3.5" fill="#cb334d"/>
<circle cx="169.37" cy="172.48" r="3.5" fill="#9e0142"/>
<circle cx="196.55" cy="159.37" r="3.5" fill="#9e0142"/>
<circle cx="244.52" cy="127.81" r="3.5" fill="#cb334d"/>
<circle cx="270.43" cy="96.57" r="3.5" fill="#9e0142"/>
<circle cx="243.47" cy="129.50" r="3.5" fill="#cb334d"/>
<circle cx="217.58" cy="147.22" r="3.5" fill="#cb334d"/>
<circle cx="132.18" cy="184.17" r="3.5" fill="#fca85e"/>
<circle cx="127.39" cy="180.40" r="3.5" fill="#fca85e"/>
<circle cx="108.23" cy="184.35" r="3.5" fill="#f98e52"/>
<circle cx="146.53" cy="178.75" r="3.5" fill="#fca85e"/>
<circle cx="95.13" cy="186.60" r="3.5" fill="#f98e52"/>
<circle cx="222.57" cy="144.05" r="3.5" fill="#cb334d"/>
<circle cx="77.34" cy="180.34" r="3.5" fill="#f98e52"/>
<circle cx="110.96" cy="183.88" r="3.5" fill="#f98e52"/>
<circle cx="158.26" cy="175.90" r="3.5" fill="#9e0142"/>
<circle cx="100.18" cy="184.99" r="3.5" fill="#f98e52"/>
<circle cx="136.44" cy="180.24" r="3.5" fill="#fca85e"/>
<circle cx="93.87" cy="170.89" r="3.5" fill="#f98e52"/>
<circle cx="116.73" cy="158.88" r="3.5" fill="#fdbf6f"/>
<circle cx="186.85" cy="144.87" r="3.5" fill="#fed481"/>
<circle cx="212.79" cy="150.32" r="3.5" fill="#cb334d"/>
<circle cx="218.44" cy="146.64" r="3.5" fill="#cb334d"/>
<circle cx="135.51" cy="179.95" r="3.5" fill="#fca85e"/>
<circle cx="94.85" cy="180.52" r="3.5" fill="#f98e52"/>
<circle cx="110.35" cy="162.58" r="3.5" fill="#fdbf6f"/>
<circle cx="82.25" cy="177.34" r="3.5" fill="#f98e52"/>
<circle cx="225.13" cy="142.33" r="3.5" fill="#cb334d"/>
<circle cx="84.14" cy="187.04" r="3.5" fill="#f98e52"/>
<circle cx="130.44" cy="155.67" r="3.5" fill="#fdbf6f"/>
<circle cx="91.27" cy="170.68" r="3.5" fill="#f98e52"/>
<circle cx="138.95" cy="153.47" r="3.5" fill="#fdbf6f"/>
<circle cx="82.47" cy="178.73" r="3.5" fill="#f98e52"/>
<circle cx="85.65" cy="175.85" r="3.5" fill="#f98e52"/>
<circle cx="105.63" cy="163.12" r="3.5" fill="#fdbf6f"/>
<circle cx="132.34" cy="154.76" r="3.5" fill="#fdbf6f"/>
<circle cx="116.07" cy="158.81" r="3.5" fill="#fdbf6f"/>
<circle cx="117.08" cy="158.67" r="3.5" fill="#fdbf6f"/>
<circle cx="88.05" cy="176.88" r="3.5" fill="#f98e52"/>
<circle cx="152.31" cy="149.49" r="3.5" fill="#9e0142"/>
<circle cx="126.38" cy="154.12" r="3.5" fill="#fdbf6f"/>
<circle cx="253.81" cy="144.21" r="3.5" fill="#cb334d"/>
<circle cx="268.48" cy="145.58" r="3.5" fill="#cb334d"/>
<circle cx="162.94" cy="147.56" r="3.5" fill="#fed481"/>
<circle cx="123.05" cy="157.04" r="3.5" fill="#fdbf6f"/>
<circle cx="102.25" cy="163.05" r="3.5" fill="#fdbf6f"/>
<circle cx="216.02" cy="143.26" r="3.5" fill="#cb334d"/>
<circle cx="183.59" cy="144.97" r="3.5" fill="#fed481"/>
<circle cx="152.49" cy="149.63" r="3.5" fill="#9e0142"/>
<circle cx="205.54" cy="143.70" r="3.5" fill="#cb334d"/>
<circle cx="131.29" cy="153.04" r="3.5" fill="#fdbf6f"/>
<circle cx="295.81" cy="149.02" r="3.5" fill="#fff2aa"/>
<circle cx="186.22" cy="145.52" r="3.5" fill="#fed481"/>
<circle cx="334.98" cy="162.69" r="3.5" fill="#fee593"/>
<circle cx="279.40" cy="147.25" r="3.5" fill="#9e0142"/>
<circle cx="305.16" cy="152.09" r="3.5" fill="#fff2aa"/>
<circle cx="135.77" cy="152.62" r="3.5" fill="#fdbf6f"/>
<circle cx="297.38" cy="148.57" r="3.5" fill="#fff2aa"/>
<circle cx="340.36" cy="162.11" r="3.5" fill="#fee593"/>
<circle cx="170.66" cy="146.18" r="3.5" fill="#fed481"/>
<circle cx="268.38" cy="145.26" r="3.5" fill="#cb334d"/>
<circle cx="298.84" cy="150.47" r="3.5" fill="#fff2aa"/>
<circle cx="164.43" cy="148.00" r="3.5" fill="#fed481"/>
<circle cx="340.39" cy="161.57" r="3.5" fill="#fee593"/>
<circle cx="369.26" cy="179.02" r="3.5" fill="#9e0142"/>
<circle cx="235.95" cy="143.43" r="3.5" fill="#cb334d"/>
<circle cx="373.30" cy="172.52" r="3.5" fill="#9e0142"/>
<circle cx="212.22" cy="143.43" r="3.5" fill="#cb334d"/>
<circle cx="345.20" cy="162.98" r="3.5" fill="#fee593"/>
<circle cx="188.95" cy="144.59" r="3.5" fill="#fed481"/>
<circle cx="335.17" cy="184.02" r="3.5" fill="#9e0142"/>
<circle cx="353.97" cy="177.46" r="3.5" fill="#ffffbe"/>
<circle cx="354.31" cy="170.60" r="3.5" fill="#ffffbe"/>
<circle cx="309.48" cy="153.06" r="3.5" fill="#fff2aa"/>
<circle cx="308.64" cy="181.54" r="3.5" fill="#f5fbaf"/>
<circle cx="234.10" cy="149.57" r="3.5" fill="#cb334d"/>
<circle cx="229.42" cy="143.21" r="3.5" fill="#cb334d"/>
<circle cx="295.74" cy="178.55" r="3.5" fill="#f5fbaf"/>
<circle cx="243.92" cy="155.15" r="3.5" fill="#cb334d"/>
<circle cx="351.76" cy="188.39" r="3.5" fill="#9e0142"/>
<circle cx="323.74" cy="156.41" r="3.5" fill="#9e0142"/>
<circle cx="302.13" cy="180.75" r="3.5" fill="#f5fbaf"/>
<circle cx="358.36" cy="184.39" r="3.5" fill="#9e0142"/>
<circle cx="367.60" cy="179.47" r="3.5" fill="#9e0142"/>
<circle cx="337.04" cy="162.66" r="3.5" fill="#fee593"/>
<circle cx="294.56" cy="177.13" r="3.5" fill="#f5fbaf"/>
<circle cx="274.78" cy="171.10" r="3.5" fill="#9e0142"/>
<circle cx="352.64" cy="181.59" r="3.5" fill="#ffffbe"/>
<circle cx="265.28" cy="164.85" r="3.5" fill="#cb334d"/>
<circle cx="346.08" cy="172.74" r="3.5" fill="#ffffbe"/>
<circle cx="224.20" cy="143.41" r="3.5" fill="#cb334d"/>
<circle cx="285.46" cy="172.34" r="3.5" fill="#9e0142"/>
<circle cx="308.40" cy="180.63" r="3.5" fill="#f5fbaf"/>
<circle cx="304.99" cy="181.72" r="3.5" fill="#f5fbaf"/>
<circle cx="204.37" cy="129.03" r="3.5" fill="#eaf79e"/>
<circle cx="211.19" cy="134.13" r="3.5" fill="#eaf79e"/>
<circle cx="220.25" cy="140.76" r="3.5" fill="#cb334d"/>
<circle cx="247.86" cy="157.50" r="3.5" fill="#cb334d"/>
<circle cx="245.25" cy="156.04" r="3.5" fill="#cb334d"/>
<circle cx="195.71" cy="121.54" r="3.5" fill="#eaf79e"/>
<circle cx="221.83" cy="141.82" r="3.5" fill="#cb334d"/>
<circle cx="177.70" cy="104.34" r="3.5" fill="#9e0142"/>
<circle cx="258.41" cy="163.33" r="3.5" fill="#cb334d"/>
<circle cx="362.26" cy="172.68" r="3.5" fill="#ffffbe"/>
<circle cx="161.23" cy="75.30" r="3.5" fill="#9e0142"/>
<circle cx="184.22" cy="59.50" r="3.5" fill="#d6ee9b"/>
<circle cx="172.45" cy="97.12" r="3.5" fill="#9e0142"/>
<circle cx="200.27" cy="125.71" r="3.5" fill="#eaf79e"/>
<circle cx="200.68" cy="125.71" r="3.5" fill="#eaf79e"/>
<circle cx="192.58" cy="118.67" r="3.5" fill="#eaf79e"/>
<circle cx="178.87" cy="104.68" r="3.5" fill="#9e0142"/>
<circle cx="258.70" cy="162.64" r="3.5" fill="#cb334d"/>
<circle cx="201.97" cy="127.13" r="3.5" fill="#eaf79e"/>
<circle cx="242.25" cy="154.70" r="3.5" fill="#cb334d"/>
<circle cx="154.61" cy="68.33" r="3.5" fill="#9e0142"/>
<circle cx="178.57" cy="103.15" r="3.5" fill="#9e0142"/>
<circle cx="159.78" cy="59.49" r="3.5" fill="#d6ee9b"/>
<circle cx="169.32" cy="88.93" r="3.5" fill="#9e0142"/>
<circle cx="177.03" cy="55.54" r="3.5" fill="#d6ee9b"/>
<circle cx="150.81" cy="49.93" r="3.5" fill="#9e0142"/>
<circle cx="221.37" cy="119.34" r="3.5" fill="#bfe5a0"/>
<circle cx="263.42" cy="165.37" r="3.5" fill="#cb334d"/>
<circle cx="168.99" cy="90.45" r="3.5" fill="#9e0142"/>
<circle cx="186.39" cy="56.55" r="3.5" fill="#d6ee9b"/>
<circle cx="221.34" cy="170.79" r="3.5" fill="#cb334d"/>
<circle cx="158.90" cy="59.92" r="3.5" fill="#d6ee9b"/>
<circle cx="171.49" cy="61.84" r="3.5" fill="#d6ee9b"/>
<circle cx="164.06" cy="59.32" r="3.5" fill="#d6ee9b"/>
<circle cx="218.09" cy="110.22" r="3.5" fill="#bfe5a0"/>
<circle cx="161.66" cy="51.47" r="3.5" fill="#d6ee9b"/>
<circle cx="197.45" cy="62.63" r="3.5" fill="#d6ee9b"/>
<circle cx="168.95" cy="56.54" r="3.5" fill="#d6ee9b"/>
<circle cx="167.69" cy="85.37" r="3.5" fill="#9e0142"/>
<circle cx="195.16" cy="65.51" r="3.5" fill="#d6ee9b"/>
<circle cx="203.14" cy="70.48" r="3.5" fill="#9e0142"/>
<circle cx="223.70" cy="135.63" r="3.5" fill="#cb334d"/>
<circle cx="188.87" cy="61.85" r="3.5" fill="#d6ee9b"/>
<circle cx="171.45" cy="51.77" r="3.5" fill="#d6ee9b"/>
<circle cx="216.56" cy="100.34" r="3.5" fill="#9e0142"/>
<circle cx="209.45" cy="84.35" r="3.5" fill="#9e0142"/>
<circle cx="212.36" cy="88.03" r="3.5" fill="#9e0142"/>
<circle cx="203.50" cy="73.85" r="3.5" fill="#9e0142"/>
<circle cx="221.80" cy="162.92" r="3.5" fill="#cb334d"/>
<circle cx="221.72" cy="123.74" r="3.5" fill="#bfe5a0"/>
<circle cx="194.29" cy="220.43" r="3.5" fill="#9e0142"/>
<circle cx="217.04" cy="185.63" r="3.5" fill="#9e0142"/>
<circle cx="223.51" cy="150.60" r="3.5" fill="#cb334d"/>
<circle cx="167.92" cy="57.47" r="3.5" fill="#d6ee9b"/>
<circle cx="223.01" cy="154.13" r="3.5" fill="#cb334d"/>
<circle cx="223.08" cy="159.79" r="3.5" fill="#cb334d"/>
<circle cx="215.14" cy="189.42" r="3.5" fill="#9e0142"/>
<circle cx="202.39" cy="218.61" r="3.5" fill="#9e0142"/>
<circle cx="184.63" cy="53.37" r="3.5" fill="#d6ee9b"/>
<circle cx="223.77" cy="149.27" r="3.5" fill="#cb334d"/>
<circle cx="220.46" cy="170.34" r="3.5" fill="#cb334d"/>
<circle cx="190.00" cy="224.01" r="3.5" fill="#a4daa4"/>
<circle cx="222.29" cy="119.22" r="3.5" fill="#bfe5a0"/>
<circle cx="220.97" cy="169.11" r="3.5" fill="#cb334d"/>
<circle cx="174.22" cy="54.33" r="3.5" fill="#d6ee9b"/>
<circle cx="220.33" cy="113.05" r="3.5" fill="#bfe5a0"/>
<circle cx="205.94" cy="203.85" r="3.5" fill="#9e0142"/>
<circle cx="172.40" cy="239.93" r="3.5" fill="#a4daa4"/>
<circle cx="220.08" cy="175.01" r="3.5" fill="#cb334d"/>
<circle cx="159.06" cy="211.67" r="3.5" fill="#9e0142"/>
<circle cx="157.37" cy="220.75" r="3.5" fill="#a4daa4"/>
<circle cx="209.08" cy="200.50" r="3.5" fill="#9e0142"/>
<circle cx="182.45" cy="49.04" r="3.5" fill="#d6ee9b"/>
<circle cx="211.76" cy="86.84" r="3.5" fill="#9e0142"/>
<circle cx="220.06" cy="177.43" r="3.5" fill="#cb334d"/>
<circle cx="164.19" cy="221.76" r="3.5" fill="#a4daa4"/>
<circle cx="177.30" cy="235.91" r="3.5" fill="#a4daa4"/>
<circle cx="211.98" cy="88.10" r="3.5" fill="#9e0142"/>
<circle cx="193.39" cy="223.91" r="3.5" fill="#a4daa4"/>
<circle cx="181.52" cy="181.83" r="3.5" fill="#86cfa5"/>
<circle cx="191.56" cy="227.97" r="3.5" fill="#a4daa4"/>
<circle cx="205.02" cy="208.76" r="3.5" fill="#9e0142"/>
<circle cx="211.33" cy="151.88" r="3.5" fill="#cb334d"/>
<circle cx="168.89" cy="234.54" r="3.5" fill="#a4daa4"/>
<circle cx="183.72" cy="232.68" r="3.5" fill="#a4daa4"/>
<circle cx="160.89" cy="225.36" r="3.5" fill="#a4daa4"/>
<circle cx="162.13" cy="235.01" r="3.5" fill="#a4daa4"/>
<circle cx="178.56" cy="226.51" r="3.5" fill="#a4daa4"/>
<circle cx="194.30" cy="167.02" r="3.5" fill="#9e0142"/>
<circle cx="185.01" cy="174.69" r="3.5" fill="#86cfa5"/>
<circle cx="177.89" cy="183.60" r="3.5" fill="#86cfa5"/>
<circle cx="161.18" cy="224.29" r="3.5" fill="#a4daa4"/>
<circle cx="207.21" cy="155.31" r="3.5" fill="#cb334d"/>
<circle cx="158.37" cy="219.84" r="3.5" fill="#a4daa4"/>
<circle cx="177.49" cy="184.99" r="3.5" fill="#86cfa5"/>
<circle cx="213.09" cy="150.66" r="3.5" fill="#cb334d"/>
<circle cx="209.03" cy="154.10" r="3.5" fill="#cb334d"/>
<circle cx="298.29" cy="107.60" r="3.5" fill="#9e0142"/>
<circle cx="186.28" cy="173.16" r="3.5" fill="#86cfa5"/>
<circle cx="184.33" cy="233.22" r="3.5" fill="#a4daa4"/>
<circle cx="169.36" cy="227.86" r="3.5" fill="#a4daa4"/>
<circle cx="279.92" cy="114.94" r="3.5" fill="#9e0142"/>
<circle cx="172.60" cy="192.87" r="3.5" fill="#86cfa5"/>
<circle cx="210.40" cy="152.60" r="3.5" fill="#cb334d"/>
<circle cx="167.65" cy="207.16" r="3.5" fill="#9e0142"/>
<circle cx="288.12" cy="110.32" r="3.5" fill="#9e0142"/>
<circle cx="181.39" cy="180.08" r="3.5" fill="#86cfa5"/>
<circle cx="331.95" cy="100.80" r="3.5" fill="#6bc4a5"/>
<circle cx="173.23" cy="187.00" r="3.5" fill="#86cfa5"/>
<circle cx="312.25" cy="105.56" r="3.5" fill="#9e0142"/>
<circle cx="278.21" cy="116.13" r="3.5" fill="#9e0142"/>
<circle cx="176.48" cy="183.43" r="3.5" fill="#86cfa5"/>
<circle cx="334.83" cy="100.32" r="3.5" fill="#6bc4a5"/>
<circle cx="181.95" cy="179.12" r="3.5" fill="#86cfa5"/>
<circle cx="184.70" cy="174.66" r="3.5" fill="#86cfa5"/>
<circle cx="323.07" cy="102.31" r="3.5" fill="#6bc4a5"/>
<circle cx="215.47" cy="149.05" r="3.5" fill="#cb334d"/>
<circle cx="230.47" cy="138.79" r="3.5" fill="#cb334d"/>
<circle cx="252.74" cy="126.32" r="3.5" fill="#cb334d"/>
<circle cx="217.80" cy="147.66" r="3.5" fill="#cb334d"/>
<circle cx="360.90" cy="103.40" r="3.5" fill="#6bc4a5"/>
<circle cx="351.67" cy="98.59" r="3.5" fill="#6bc4a5"/>
<circle cx="300.22" cy="108.21" r="3.5" fill="#9e0142"/>
<circle cx="310.54" cy="104.15" r="3.5" fill="#9e0142"/>
<circle cx="351.03" cy="100.45" r="3.5" fill="#6bc4a5"/>
<circle cx="312.87" cy="131.87" r="3.5" fill="#9e0142"/>
<circle cx="366.85" cy="108.23" r="3.5" fill="#6bc4a5"/>
<circle cx="298.54" cy="108.28" r="3.5" fill="#9e0142"/>
<circle cx="372.04" cy="108.37" r="3.5" fill="#6bc4a5"/>
<circle cx="339.41" cy="100.88" r="3.5" fill="#6bc4a5"/>
<circle cx="337.25" cy="101.63" r="3.5" fill="#6bc4a5"/>
<circle cx="260.53" cy="141.38" r="3.5" fill="#cb334d"/>
<circle cx="341.89" cy="98.63" r="3.5" fill="#6bc4a5"/>
<circle cx="335.22" cy="101.50" r="3.5" fill="#6bc4a5"/>
<circle cx="219.81" cy="145.93" r="3.5" fill="#cb334d"/>
<circle cx="277.12" cy="115.36" r="3.5" fill="#9e0142"/>
<circle cx="349.44" cy="119.23" r="3.5" fill="#9e0142"/>
<circle cx="339.79" cy="101.76" r="3.5" fill="#6bc4a5"/>
<circle cx="336.15" cy="125.30" r="3.5" fill="#9e0142"/>
<circle cx="332.75" cy="99.21" r="3.5" fill="#6bc4a5"/>
<circle cx="358.28" cy="98.84" r="3.5" fill="#6bc4a5"/>
<circle cx="290.40" cy="136.23" r="3.5" fill="#9e0142"/>
<circle cx="199.97" cy="142.93" r="3.5" fill="#cb334d"/>
<circle cx="311.65" cy="134.89" r="3.5" fill="#9e0142"/>
<circle cx="223.19" cy="143.20" r="3.5" fill="#cb334d"/>
<circle cx="155.91" cy="138.09" r="3.5" fill="#9e0142"/>
<circle cx="221.09" cy="143.21" r="3.5" fill="#cb334d"/>
<circle cx="358.83" cy="107.24" r="3.5" fill="#6bc4a5"/>
<circle cx="334.47" cy="128.09" r="3.5" fill="#9e0142"/>
<circle cx="248.31" cy="142.55" r="3.5" fill="#cb334d"/>
<circle cx="341.84" cy="124.57" r="3.5" fill="#9e0142"/>
<circle cx="248.46" cy="142.48" r="3.5" fill="#cb334d"/>
<circle cx="356.75" cy="102.15" r="3.5" fill="#6bc4a5"/>
<circle cx="349.07" cy="120.25" r="3.5" fill="#9e0142"/>
<circle cx="205.55" cy="142.97" r="3.5" fill="#cb334d"/>
<circle cx="327.40" cy="103.83" r="3.5" fill="#6bc4a5"/>
<circle cx="358.44" cy="117.69" r="3.5" fill="#9e0142"/>
<circle cx="252.74" cy="142.36" r="3.5" fill="#cb334d"/>
<circle cx="365.36" cy="106.83" r="3.5" fill="#6bc4a5"/>
<circle cx="213.39" cy="143.18" r="3.5" fill="#cb334d"/>
<circle cx="307.56" cy="134.60" r="3.5" fill="#9e0142"/>
<circle cx="234.17" cy="142.95" r="3.5" fill="#cb334d"/>
<circle cx="235.35" cy="143.10" r="3.5" fill="#cb334d"/>
<circle cx="171.32" cy="139.98" r="3.5" fill="#fed481"/>
<circle cx="258.94" cy="142.19" r="3.5" fill="#cb334d"/>
<circle cx="155.91" cy="138.52" r="3.5" fill="#9e0142"/>
<circle cx="237.85" cy="143.02" r="3.5" fill="#cb334d"/>
<circle cx="121.64" cy="127.43" r="3.5" fill="#9e0142"/>
<circle cx="103.47" cy="102.39" r="3.5" fill="#54aead"/>
<circle cx="142.38" cy="132.92" r="3.5" fill="#9e0142"/>
<circle cx="121.97" cy="129.62" r="3.5" fill="#9e0142"/>
<circle cx="254.14" cy="142.12" r="3.5" fill="#cb334d"/>
<circle cx="87.22" cy="111.67" r="3.5" fill="#3d95b8"/>
<circle cx="178.68" cy="141.42" r="3.5" fill="#fed481"/>
<circle cx="188.72" cy="141.69" r="3.5" fill="#fed481"/>
<circle cx="82.48" cy="108.47" r="3.5" fill="#3d95b8"/>
<circle cx="92.20" cy="116.68" r="3.5" fill="#3d95b8"/>
<circle cx="106.71" cy="101.12" r="3.5" fill="#54aead"/>
<circle cx="145.89" cy="109.37" r="3.5" fill="#9e0142"/>
<circle cx="115.24" cy="128.79" r="3.5" fill="#9e0142"/>
<circle cx="91.84" cy="111.51" r="3.5" fill="#3d95b8"/>
<circle cx="180.81" cy="119.64" r="3.5" fill="#eaf79e"/>
<circle cx="129.04" cy="104.93" r="3.5" fill="#54aead"/>
<circle cx="107.96" cy="100.04" r="3.5" fill="#54aead"/>
<circle cx="160.55" cy="111.54" r="3.5" fill="#9e0142"/>
<circle cx="97.31" cy="119.17" r="3.5" fill="#3d95b8"/>
<circle cx="120.79" cy="101.91" r="3.5" fill="#54aead"/>
<circle cx="185.91" cy="121.40" r="3.5" fill="#eaf79e"/>
<circle cx="212.29" cy="135.73" r="3.5" fill="#cb334d"/>
<circle cx="88.23" cy="115.25" r="3.5" fill="#3d95b8"/>
<circle cx="69.52" cy="96.47" r="3.5" fill="#9e0142"/>
<circle cx="133.68" cy="104.77" r="3.5" fill="#9e0142"/>
<circle cx="97.96" cy="102.64" r="3.5" fill="#54aead"/>
<circle cx="101.30" cy="104.21" r="3.5" fill="#54aead"/>
<circle cx="173.22" cy="116.12" r="3.5" fill="#eaf79e"/>
<circle cx="107.35" cy="102.34" r="3.5" fill="#54aead"/>
<circle cx="135.14" cy="130.39" r="3.5" fill="#9e0142"/>
<circle cx="174.89" cy="117.94" r="3.5" fill="#eaf79e"/>
<circle cx="111.62" cy="100.65" r="3.5" fill="#54aead"/>
<circle cx="93.22" cy="98.81" r="3.5" fill="#54aead"/>
<circle cx="101.30" cy="116.09" r="3.5" fill="#3d95b8"/>
<circle cx="252.36" cy="164.90" r="3.5" fill="#cb334d"/>
<circle cx="114.65" cy="126.95" r="3.5" fill="#9e0142"/>
<circle cx="93.69" cy="112.44" r="3.5" fill="#3d95b8"/>
<circle cx="156.81" cy="109.86" r="3.5" fill="#9e0142"/>
<circle cx="277.56" cy="194.05" r="3.5" fill="#3a7eb8"/>
<circle cx="281.28" cy="201.43" r="3.5" fill="#3a7eb8"/>
<circle cx="115.19" cy="102.48" r="3.5" fill="#54aead"/>
<circle cx="188.65" cy="122.48" r="3.5" fill="#eaf79e"/>
<circle cx="100.04" cy="101.02" r="3.5" fill="#54aead"/>
<circle cx="277.78" cy="198.24" r="3.5" fill="#3a7eb8"/>
<circle cx="112.89" cy="101.77" r="3.5" fill="#54aead"/>
<circle cx="224.14" cy="143.39" r="3.5" fill="#cb334d"/>
<circle cx="289.72" cy="218.64" r="3.5" fill="#4d65ad"/>
<circle cx="238.19" cy="153.20" r="3.5" fill="#cb334d"/>
<circle cx="283.91" cy="235.78" r="3.5" fill="#5e4fa2"/>
<circle cx="191.46" cy="124.63" r="3.5" fill="#eaf79e"/>
<circle cx="281.22" cy="199.44" r="3.5" fill="#3a7eb8"/>
<circle cx="282.32" cy="217.23" r="3.5" fill="#4d65ad"/>
<circle cx="270.45" cy="182.60" r="3.5" fill="#9e0142"/>
<circle cx="275.42" cy="238.40" r="3.5" fill="#5e4fa2"/>
<circle cx="281.80" cy="214.15" r="3.5" fill="#4d65ad"/>
<circle cx="160.77" cy="111.18" r="3.5" fill="#9e0142"/>
<circle cx="244.70" cy="79.81" r="3.5" fill="#dd4a4c"/>
<circle cx="282.84" cy="228.62" r="3.5" fill="#5e4fa2"/>
<circle cx="286.47" cy="215.42" r="3.5" fill="#4d65ad"/>
<circle cx="225.24" cy="144.08" r="3.5" fill="#cb334d"/>
<circle cx="289.04" cy="223.17" r="3.5" fill="#4d65ad"/>
<circle cx="281.40" cy="200.43" r="3.5" fill="#3a7eb8"/>
<circle cx="272.09" cy="230.27" r="3.5" fill="#5e4fa2"/>
<circle cx="277.21" cy="229.06" r="3.5" fill="#5e4fa2"/>
<circle cx="227.51" cy="173.41" r="3.5" fill="#cb334d"/>
<circle cx="278.76" cy="228.05" r="3.5" fill="#5e4fa2"/>
<circle cx="267.76" cy="232.36" r="3.5" fill="#5e4fa2"/>
<circle cx="271.78" cy="236.54" r="3.5" fill="#5e4fa2"/>
<circle cx="285.81" cy="236.10" r="3.5" fill="#5e4fa2"/>
<circle cx="280.46" cy="230.10" r="3.5" fill="#5e4fa2"/>
<circle cx="236.18" cy="202.88" r="3.5" fill="#9e0142"/>
<circle cx="241.14" cy="204.64" r="3.5" fill="#9e0142"/>
<circle cx="289.57" cy="233.47" r="3.5" fill="#5e4fa2"/>
<circle cx="288.28" cy="215.99" r="3.5" fill="#4d65ad"/>
<circle cx="264.56" cy="228.50" r="3.5" fill="#5e4fa2"/>
<circle cx="224.69" cy="155.13" r="3.5" fill="#cb334d"/>
<circle cx="261.75" cy="234.99" r="3.5" fill="#5e4fa2"/>
<circle cx="229.21" cy="108.50" r="3.5" fill="#9e0142"/>
<circle cx="278.94" cy="233.33" r="3.5" fill="#5e4fa2"/>
<circle cx="243.27" cy="211.35" r="3.5" fill="#9e0142"/>
<circle cx="250.37" cy="164.02" r="3.5" fill="#cb334d"/>
<circle cx="269.46" cy="240.16" r="3.5" fill="#5e4fa2"/>
<circle cx="249.93" cy="217.16" r="3.5" fill="#9e0142"/>
<circle cx="225.20" cy="160.77" r="3.5" fill="#cb334d"/>
<circle cx="245.73" cy="73.15" r="3.5" fill="#dd4a4c"/>
<circle cx="230.35" cy="180.75" r="3.5" fill="#cb334d"/>
<circle cx="240.36" cy="84.46" r="3.5" fill="#9e0142"/>
<circle cx="225.24" cy="121.45" r="3.5" fill="#bfe5a0"/>
<circle cx="231.69" cy="100.95" r="3.5" fill="#e95c47"/>
<circle cx="235.75" cy="194.83" r="3.5" fill="#9e0142"/>
<circle cx="250.64" cy="68.35" r="3.5" fill="#dd4a4c"/>
</g>
<rect x="54.5" y="35.5" width="335.0" height="217.0" fill="none" stroke="#000" stroke-width="0.8"/>
<g stroke="#000" stroke-width="0.8">
<line x1="77.5" y1="252.5" x2="77.5" y2="256.6"/>
<line x1="151.5" y1="252.5" x2="151.5" y2="256.6"/>
<line x1="224.5" y1="252.5" x2="224.5" y2="256.6"/>
<line x1="297.5" y1="252.5" x2="297.5" y2="256.6"/>
<line x1="370.5" y1="252.5" x2="370.5" y2="256.6"/>
<line x1="54.5" y1="241.5" x2="51.2" y2="241.5"/>
<line x1="54.5" y1="217.5" x2="51.2" y2="217.5"/>
<line x1="54.5" y1="192.5" x2="51.2" y2="192.5"/>
<line x1="54.5" y1="168.5" x2="51.2" y2="168.5"/>
<line x1="54.5" y1="143.5" x2="51.2" y2="143.5"/>
<line x1="54.5" y1="119.5" x2="51.2" y2="119.5"/>
<line x1="54.5" y1="95.5" x2="51.2" y2="95.5"/>
<line x1="54.5" y1="70.5" x2="51.2" y2="70.5"/>
<line x1="54.5" y1="46.5" x2="51.2" y2="46.5"/>
</g>
<g class="tk">
<text class="mn" x="70.40" y="266.00">−</text><text x="77.30" y="267.00">4</text>
<text class="mn" x="143.40" y="266.00">−</text><text x="150.30" y="267.00">2</text>
<text x="220.82" y="267.00">0</text>
<text x="295.00" y="267.00">2</text>
<text x="367.96" y="267.00">4</text>
<text class="mn" x="32.35" y="244.00">−</text><text x="39.25" y="245.00">4</text>
<text class="mn" x="32.35" y="220.00">−</text><text x="39.25" y="221.00">3</text>
<text class="mn" x="32.35" y="195.00">−</text><text x="39.25" y="196.00">2</text>
<text class="mn" x="32.35" y="171.00">−</text><text x="39.25" y="172.00">1</text>
<text x="41.14" y="147.00">0</text>
<text x="41.14" y="123.00">1</text>
<text x="41.14" y="99.00">2</text>
<text x="41.14" y="74.00">3</text>
<text x="41.14" y="50.00">4</text>
<text class="tt" x="178 182 185 192 202 209 214 220 228 236 242 249 256" y="29.8">flower_dbscan</text>
</g>
</g>
</svg>
</body></html>
